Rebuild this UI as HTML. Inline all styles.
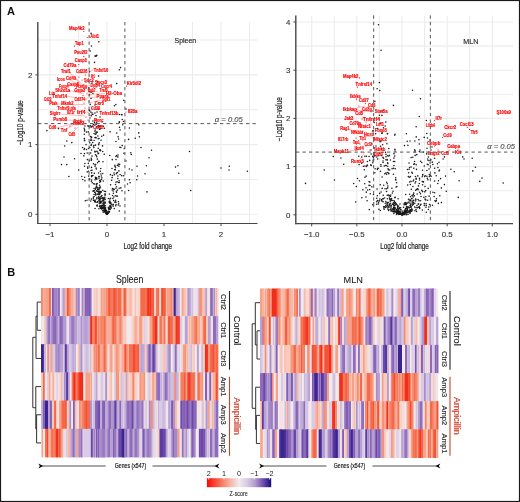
<!DOCTYPE html><html><head><meta charset="utf-8"><style>html,body{margin:0;padding:0;background:#fff;}svg{display:block;will-change:transform;}</style></head><body><svg width="520" height="502" viewBox="0 0 520 502" font-family='"Liberation Sans", sans-serif'>
<rect x="0" y="0" width="520" height="502" fill="#fff"/>
<text x="7" y="15" font-size="11" fill="#111" text-anchor="start" font-weight="bold" font-style="normal" >A</text>
<text x="7.2" y="276" font-size="11" fill="#111" text-anchor="start" font-weight="bold" font-style="normal" >B</text>
<line x1="50.00" y1="22" x2="50.00" y2="223.5" stroke="#ececec" stroke-width="1.1"/>
<line x1="78.50" y1="22" x2="78.50" y2="223.5" stroke="#ececec" stroke-width="1.1"/>
<line x1="107.00" y1="22" x2="107.00" y2="223.5" stroke="#ececec" stroke-width="1.1"/>
<line x1="135.50" y1="22" x2="135.50" y2="223.5" stroke="#ececec" stroke-width="1.1"/>
<line x1="192.50" y1="22" x2="192.50" y2="223.5" stroke="#ececec" stroke-width="1.1"/>
<line x1="221.00" y1="22" x2="221.00" y2="223.5" stroke="#ececec" stroke-width="1.1"/>
<line x1="249.50" y1="22" x2="249.50" y2="223.5" stroke="#ececec" stroke-width="1.1"/>
<line x1="38" y1="214.30" x2="257.5" y2="214.30" stroke="#ececec" stroke-width="1.1"/>
<line x1="38" y1="179.45" x2="257.5" y2="179.45" stroke="#ececec" stroke-width="1.1"/>
<line x1="38" y1="144.60" x2="257.5" y2="144.60" stroke="#ececec" stroke-width="1.1"/>
<line x1="38" y1="109.75" x2="257.5" y2="109.75" stroke="#ececec" stroke-width="1.1"/>
<line x1="38" y1="74.90" x2="257.5" y2="74.90" stroke="#ececec" stroke-width="1.1"/>
<line x1="38" y1="40.05" x2="257.5" y2="40.05" stroke="#ececec" stroke-width="1.1"/>
<line x1="311.70" y1="15.4" x2="311.70" y2="223.7" stroke="#ececec" stroke-width="1.1"/>
<line x1="334.27" y1="15.4" x2="334.27" y2="223.7" stroke="#ececec" stroke-width="1.1"/>
<line x1="356.85" y1="15.4" x2="356.85" y2="223.7" stroke="#ececec" stroke-width="1.1"/>
<line x1="379.43" y1="15.4" x2="379.43" y2="223.7" stroke="#ececec" stroke-width="1.1"/>
<line x1="402.00" y1="15.4" x2="402.00" y2="223.7" stroke="#ececec" stroke-width="1.1"/>
<line x1="424.57" y1="15.4" x2="424.57" y2="223.7" stroke="#ececec" stroke-width="1.1"/>
<line x1="447.15" y1="15.4" x2="447.15" y2="223.7" stroke="#ececec" stroke-width="1.1"/>
<line x1="469.73" y1="15.4" x2="469.73" y2="223.7" stroke="#ececec" stroke-width="1.1"/>
<line x1="492.30" y1="15.4" x2="492.30" y2="223.7" stroke="#ececec" stroke-width="1.1"/>
<line x1="296" y1="214.80" x2="513" y2="214.80" stroke="#ececec" stroke-width="1.1"/>
<line x1="296" y1="190.70" x2="513" y2="190.70" stroke="#ececec" stroke-width="1.1"/>
<line x1="296" y1="166.60" x2="513" y2="166.60" stroke="#ececec" stroke-width="1.1"/>
<line x1="296" y1="142.50" x2="513" y2="142.50" stroke="#ececec" stroke-width="1.1"/>
<line x1="296" y1="118.40" x2="513" y2="118.40" stroke="#ececec" stroke-width="1.1"/>
<line x1="296" y1="94.30" x2="513" y2="94.30" stroke="#ececec" stroke-width="1.1"/>
<line x1="296" y1="70.20" x2="513" y2="70.20" stroke="#ececec" stroke-width="1.1"/>
<line x1="296" y1="46.10" x2="513" y2="46.10" stroke="#ececec" stroke-width="1.1"/>
<line x1="296" y1="22.00" x2="513" y2="22.00" stroke="#ececec" stroke-width="1.1"/>
<circle cx="119.31" cy="182.59" r="0.78" fill="#1a1a1a"/>
<circle cx="102.69" cy="173.50" r="0.78" fill="#1a1a1a"/>
<circle cx="119.86" cy="147.32" r="0.78" fill="#1a1a1a"/>
<circle cx="94.14" cy="140.54" r="0.78" fill="#1a1a1a"/>
<circle cx="94.93" cy="164.77" r="0.78" fill="#1a1a1a"/>
<circle cx="97.99" cy="188.63" r="0.78" fill="#1a1a1a"/>
<circle cx="82.58" cy="147.54" r="0.78" fill="#1a1a1a"/>
<circle cx="91.48" cy="45.97" r="0.78" fill="#1a1a1a"/>
<circle cx="91.22" cy="158.16" r="0.78" fill="#1a1a1a"/>
<circle cx="95.42" cy="189.25" r="0.78" fill="#1a1a1a"/>
<circle cx="111.06" cy="207.32" r="0.78" fill="#1a1a1a"/>
<circle cx="102.70" cy="190.26" r="0.78" fill="#1a1a1a"/>
<circle cx="113.43" cy="193.28" r="0.78" fill="#1a1a1a"/>
<circle cx="106.02" cy="210.48" r="0.78" fill="#1a1a1a"/>
<circle cx="110.61" cy="205.56" r="0.78" fill="#1a1a1a"/>
<circle cx="99.09" cy="161.56" r="0.78" fill="#1a1a1a"/>
<circle cx="86.94" cy="200.28" r="0.78" fill="#1a1a1a"/>
<circle cx="102.62" cy="205.41" r="0.78" fill="#1a1a1a"/>
<circle cx="112.08" cy="204.86" r="0.78" fill="#1a1a1a"/>
<circle cx="89.21" cy="91.84" r="0.78" fill="#1a1a1a"/>
<circle cx="97.37" cy="159.12" r="0.78" fill="#1a1a1a"/>
<circle cx="104.53" cy="210.13" r="0.78" fill="#1a1a1a"/>
<circle cx="95.06" cy="208.46" r="0.78" fill="#1a1a1a"/>
<circle cx="107.34" cy="214.06" r="0.78" fill="#1a1a1a"/>
<circle cx="84.67" cy="177.23" r="0.78" fill="#1a1a1a"/>
<circle cx="118.69" cy="203.67" r="0.78" fill="#1a1a1a"/>
<circle cx="97.11" cy="205.13" r="0.78" fill="#1a1a1a"/>
<circle cx="96.92" cy="187.66" r="0.78" fill="#1a1a1a"/>
<circle cx="92.34" cy="126.10" r="0.78" fill="#1a1a1a"/>
<circle cx="91.38" cy="181.24" r="0.78" fill="#1a1a1a"/>
<circle cx="102.15" cy="201.09" r="0.78" fill="#1a1a1a"/>
<circle cx="115.30" cy="195.84" r="0.78" fill="#1a1a1a"/>
<circle cx="115.95" cy="156.51" r="0.78" fill="#1a1a1a"/>
<circle cx="114.70" cy="169.68" r="0.78" fill="#1a1a1a"/>
<circle cx="94.35" cy="173.35" r="0.78" fill="#1a1a1a"/>
<circle cx="104.02" cy="204.81" r="0.78" fill="#1a1a1a"/>
<circle cx="97.18" cy="206.09" r="0.78" fill="#1a1a1a"/>
<circle cx="96.45" cy="190.82" r="0.78" fill="#1a1a1a"/>
<circle cx="103.47" cy="206.18" r="0.78" fill="#1a1a1a"/>
<circle cx="104.96" cy="202.00" r="0.78" fill="#1a1a1a"/>
<circle cx="102.89" cy="198.75" r="0.78" fill="#1a1a1a"/>
<circle cx="96.76" cy="198.85" r="0.78" fill="#1a1a1a"/>
<circle cx="101.55" cy="205.48" r="0.78" fill="#1a1a1a"/>
<circle cx="103.37" cy="207.99" r="0.78" fill="#1a1a1a"/>
<circle cx="93.82" cy="145.57" r="0.78" fill="#1a1a1a"/>
<circle cx="116.53" cy="186.70" r="0.78" fill="#1a1a1a"/>
<circle cx="99.60" cy="188.82" r="0.78" fill="#1a1a1a"/>
<circle cx="101.26" cy="196.39" r="0.78" fill="#1a1a1a"/>
<circle cx="105.51" cy="212.57" r="0.78" fill="#1a1a1a"/>
<circle cx="119.40" cy="114.46" r="0.78" fill="#1a1a1a"/>
<circle cx="120.56" cy="67.61" r="0.78" fill="#1a1a1a"/>
<circle cx="89.53" cy="179.06" r="0.78" fill="#1a1a1a"/>
<circle cx="108.57" cy="211.69" r="0.78" fill="#1a1a1a"/>
<circle cx="96.82" cy="84.33" r="0.78" fill="#1a1a1a"/>
<circle cx="99.77" cy="182.25" r="0.78" fill="#1a1a1a"/>
<circle cx="109.27" cy="209.10" r="0.78" fill="#1a1a1a"/>
<circle cx="99.52" cy="206.63" r="0.78" fill="#1a1a1a"/>
<circle cx="105.10" cy="209.39" r="0.78" fill="#1a1a1a"/>
<circle cx="99.41" cy="198.42" r="0.78" fill="#1a1a1a"/>
<circle cx="108.32" cy="207.74" r="0.78" fill="#1a1a1a"/>
<circle cx="107.38" cy="213.89" r="0.78" fill="#1a1a1a"/>
<circle cx="83.83" cy="155.87" r="0.78" fill="#1a1a1a"/>
<circle cx="119.42" cy="121.83" r="0.78" fill="#1a1a1a"/>
<circle cx="96.00" cy="187.35" r="0.78" fill="#1a1a1a"/>
<circle cx="106.53" cy="210.63" r="0.78" fill="#1a1a1a"/>
<circle cx="104.43" cy="205.79" r="0.78" fill="#1a1a1a"/>
<circle cx="91.35" cy="160.36" r="0.78" fill="#1a1a1a"/>
<circle cx="87.60" cy="167.11" r="0.78" fill="#1a1a1a"/>
<circle cx="91.35" cy="199.10" r="0.78" fill="#1a1a1a"/>
<circle cx="110.05" cy="206.40" r="0.78" fill="#1a1a1a"/>
<circle cx="99.62" cy="185.23" r="0.78" fill="#1a1a1a"/>
<circle cx="91.24" cy="115.87" r="0.78" fill="#1a1a1a"/>
<circle cx="117.86" cy="176.06" r="0.78" fill="#1a1a1a"/>
<circle cx="113.77" cy="196.91" r="0.78" fill="#1a1a1a"/>
<circle cx="99.56" cy="193.99" r="0.78" fill="#1a1a1a"/>
<circle cx="86.50" cy="149.59" r="0.78" fill="#1a1a1a"/>
<circle cx="105.49" cy="191.41" r="0.78" fill="#1a1a1a"/>
<circle cx="100.92" cy="205.81" r="0.78" fill="#1a1a1a"/>
<circle cx="107.52" cy="213.03" r="0.78" fill="#1a1a1a"/>
<circle cx="100.82" cy="203.04" r="0.78" fill="#1a1a1a"/>
<circle cx="94.51" cy="62.40" r="0.78" fill="#1a1a1a"/>
<circle cx="98.21" cy="138.79" r="0.78" fill="#1a1a1a"/>
<circle cx="116.31" cy="173.80" r="0.78" fill="#1a1a1a"/>
<circle cx="112.49" cy="188.54" r="0.78" fill="#1a1a1a"/>
<circle cx="122.24" cy="119.56" r="0.78" fill="#1a1a1a"/>
<circle cx="101.71" cy="209.04" r="0.78" fill="#1a1a1a"/>
<circle cx="104.71" cy="198.72" r="0.78" fill="#1a1a1a"/>
<circle cx="98.55" cy="173.06" r="0.78" fill="#1a1a1a"/>
<circle cx="112.09" cy="177.60" r="0.78" fill="#1a1a1a"/>
<circle cx="105.88" cy="212.27" r="0.78" fill="#1a1a1a"/>
<circle cx="99.01" cy="138.56" r="0.78" fill="#1a1a1a"/>
<circle cx="99.01" cy="178.26" r="0.78" fill="#1a1a1a"/>
<circle cx="116.87" cy="195.91" r="0.78" fill="#1a1a1a"/>
<circle cx="116.35" cy="191.32" r="0.78" fill="#1a1a1a"/>
<circle cx="107.27" cy="213.43" r="0.78" fill="#1a1a1a"/>
<circle cx="118.46" cy="182.58" r="0.78" fill="#1a1a1a"/>
<circle cx="94.43" cy="200.74" r="0.78" fill="#1a1a1a"/>
<circle cx="94.71" cy="192.21" r="0.78" fill="#1a1a1a"/>
<circle cx="118.01" cy="154.93" r="0.78" fill="#1a1a1a"/>
<circle cx="123.49" cy="121.56" r="0.78" fill="#1a1a1a"/>
<circle cx="101.09" cy="206.67" r="0.78" fill="#1a1a1a"/>
<circle cx="96.28" cy="168.99" r="0.78" fill="#1a1a1a"/>
<circle cx="104.66" cy="207.42" r="0.78" fill="#1a1a1a"/>
<circle cx="104.10" cy="203.01" r="0.78" fill="#1a1a1a"/>
<circle cx="107.62" cy="213.17" r="0.78" fill="#1a1a1a"/>
<circle cx="116.55" cy="155.53" r="0.78" fill="#1a1a1a"/>
<circle cx="93.49" cy="163.66" r="0.78" fill="#1a1a1a"/>
<circle cx="105.25" cy="194.31" r="0.78" fill="#1a1a1a"/>
<circle cx="95.60" cy="188.32" r="0.78" fill="#1a1a1a"/>
<circle cx="101.90" cy="195.56" r="0.78" fill="#1a1a1a"/>
<circle cx="103.44" cy="204.76" r="0.78" fill="#1a1a1a"/>
<circle cx="94.97" cy="113.00" r="0.78" fill="#1a1a1a"/>
<circle cx="94.94" cy="151.37" r="0.78" fill="#1a1a1a"/>
<circle cx="105.21" cy="211.59" r="0.78" fill="#1a1a1a"/>
<circle cx="101.27" cy="206.83" r="0.78" fill="#1a1a1a"/>
<circle cx="91.61" cy="180.00" r="0.78" fill="#1a1a1a"/>
<circle cx="100.99" cy="202.10" r="0.78" fill="#1a1a1a"/>
<circle cx="91.11" cy="33.39" r="0.78" fill="#1a1a1a"/>
<circle cx="100.40" cy="149.91" r="0.78" fill="#1a1a1a"/>
<circle cx="110.28" cy="209.03" r="0.78" fill="#1a1a1a"/>
<circle cx="119.36" cy="210.99" r="0.78" fill="#1a1a1a"/>
<circle cx="117.48" cy="190.11" r="0.78" fill="#1a1a1a"/>
<circle cx="97.65" cy="191.55" r="0.78" fill="#1a1a1a"/>
<circle cx="99.96" cy="202.31" r="0.78" fill="#1a1a1a"/>
<circle cx="87.23" cy="171.99" r="0.78" fill="#1a1a1a"/>
<circle cx="101.81" cy="208.80" r="0.78" fill="#1a1a1a"/>
<circle cx="117.42" cy="172.55" r="0.78" fill="#1a1a1a"/>
<circle cx="98.40" cy="126.96" r="0.78" fill="#1a1a1a"/>
<circle cx="99.10" cy="194.36" r="0.78" fill="#1a1a1a"/>
<circle cx="108.41" cy="211.25" r="0.78" fill="#1a1a1a"/>
<circle cx="93.51" cy="145.97" r="0.78" fill="#1a1a1a"/>
<circle cx="102.56" cy="210.75" r="0.78" fill="#1a1a1a"/>
<circle cx="116.70" cy="172.92" r="0.78" fill="#1a1a1a"/>
<circle cx="106.96" cy="214.18" r="0.78" fill="#1a1a1a"/>
<circle cx="93.43" cy="190.98" r="0.78" fill="#1a1a1a"/>
<circle cx="87.39" cy="159.61" r="0.78" fill="#1a1a1a"/>
<circle cx="84.44" cy="139.99" r="0.78" fill="#1a1a1a"/>
<circle cx="99.62" cy="198.72" r="0.78" fill="#1a1a1a"/>
<circle cx="115.88" cy="188.22" r="0.78" fill="#1a1a1a"/>
<circle cx="108.50" cy="198.49" r="0.78" fill="#1a1a1a"/>
<circle cx="88.33" cy="171.23" r="0.78" fill="#1a1a1a"/>
<circle cx="113.24" cy="191.06" r="0.78" fill="#1a1a1a"/>
<circle cx="109.87" cy="198.93" r="0.78" fill="#1a1a1a"/>
<circle cx="101.33" cy="175.94" r="0.78" fill="#1a1a1a"/>
<circle cx="98.71" cy="143.98" r="0.78" fill="#1a1a1a"/>
<circle cx="104.94" cy="210.06" r="0.78" fill="#1a1a1a"/>
<circle cx="105.88" cy="211.49" r="0.78" fill="#1a1a1a"/>
<circle cx="93.46" cy="124.49" r="0.78" fill="#1a1a1a"/>
<circle cx="109.36" cy="202.83" r="0.78" fill="#1a1a1a"/>
<circle cx="110.14" cy="205.42" r="0.78" fill="#1a1a1a"/>
<circle cx="95.64" cy="177.75" r="0.78" fill="#1a1a1a"/>
<circle cx="95.12" cy="179.75" r="0.78" fill="#1a1a1a"/>
<circle cx="106.84" cy="213.67" r="0.78" fill="#1a1a1a"/>
<circle cx="108.72" cy="208.76" r="0.78" fill="#1a1a1a"/>
<circle cx="103.20" cy="181.01" r="0.78" fill="#1a1a1a"/>
<circle cx="102.45" cy="197.83" r="0.78" fill="#1a1a1a"/>
<circle cx="102.75" cy="208.34" r="0.78" fill="#1a1a1a"/>
<circle cx="117.11" cy="196.34" r="0.78" fill="#1a1a1a"/>
<circle cx="95.10" cy="200.13" r="0.78" fill="#1a1a1a"/>
<circle cx="95.04" cy="201.39" r="0.78" fill="#1a1a1a"/>
<circle cx="104.27" cy="207.05" r="0.78" fill="#1a1a1a"/>
<circle cx="105.82" cy="213.09" r="0.78" fill="#1a1a1a"/>
<circle cx="109.24" cy="201.65" r="0.78" fill="#1a1a1a"/>
<circle cx="118.39" cy="163.95" r="0.78" fill="#1a1a1a"/>
<circle cx="105.39" cy="207.81" r="0.78" fill="#1a1a1a"/>
<circle cx="104.18" cy="205.68" r="0.78" fill="#1a1a1a"/>
<circle cx="110.52" cy="198.20" r="0.78" fill="#1a1a1a"/>
<circle cx="113.49" cy="188.92" r="0.78" fill="#1a1a1a"/>
<circle cx="106.85" cy="214.09" r="0.78" fill="#1a1a1a"/>
<circle cx="98.68" cy="192.32" r="0.78" fill="#1a1a1a"/>
<circle cx="104.45" cy="210.17" r="0.78" fill="#1a1a1a"/>
<circle cx="91.47" cy="159.47" r="0.78" fill="#1a1a1a"/>
<circle cx="84.90" cy="163.48" r="0.78" fill="#1a1a1a"/>
<circle cx="118.99" cy="166.32" r="0.78" fill="#1a1a1a"/>
<circle cx="98.19" cy="193.82" r="0.78" fill="#1a1a1a"/>
<circle cx="115.83" cy="104.48" r="0.78" fill="#1a1a1a"/>
<circle cx="96.13" cy="202.33" r="0.78" fill="#1a1a1a"/>
<circle cx="100.27" cy="201.73" r="0.78" fill="#1a1a1a"/>
<circle cx="104.19" cy="207.95" r="0.78" fill="#1a1a1a"/>
<circle cx="95.04" cy="151.90" r="0.78" fill="#1a1a1a"/>
<circle cx="101.15" cy="198.46" r="0.78" fill="#1a1a1a"/>
<circle cx="92.05" cy="156.12" r="0.78" fill="#1a1a1a"/>
<circle cx="109.24" cy="211.71" r="0.78" fill="#1a1a1a"/>
<circle cx="98.58" cy="161.38" r="0.78" fill="#1a1a1a"/>
<circle cx="97.09" cy="205.75" r="0.78" fill="#1a1a1a"/>
<circle cx="105.90" cy="212.13" r="0.78" fill="#1a1a1a"/>
<circle cx="100.33" cy="187.09" r="0.78" fill="#1a1a1a"/>
<circle cx="93.41" cy="200.36" r="0.78" fill="#1a1a1a"/>
<circle cx="100.76" cy="207.54" r="0.78" fill="#1a1a1a"/>
<circle cx="93.32" cy="198.75" r="0.78" fill="#1a1a1a"/>
<circle cx="96.90" cy="191.08" r="0.78" fill="#1a1a1a"/>
<circle cx="96.65" cy="122.68" r="0.78" fill="#1a1a1a"/>
<circle cx="95.07" cy="56.04" r="0.78" fill="#1a1a1a"/>
<circle cx="100.27" cy="171.18" r="0.78" fill="#1a1a1a"/>
<circle cx="81.75" cy="176.55" r="0.78" fill="#1a1a1a"/>
<circle cx="113.36" cy="204.49" r="0.78" fill="#1a1a1a"/>
<circle cx="92.27" cy="182.84" r="0.78" fill="#1a1a1a"/>
<circle cx="101.61" cy="207.56" r="0.78" fill="#1a1a1a"/>
<circle cx="97.53" cy="162.69" r="0.78" fill="#1a1a1a"/>
<circle cx="104.30" cy="211.67" r="0.78" fill="#1a1a1a"/>
<circle cx="112.91" cy="198.53" r="0.78" fill="#1a1a1a"/>
<circle cx="104.29" cy="191.25" r="0.78" fill="#1a1a1a"/>
<circle cx="110.06" cy="209.44" r="0.78" fill="#1a1a1a"/>
<circle cx="123.72" cy="175.75" r="0.78" fill="#1a1a1a"/>
<circle cx="97.55" cy="81.76" r="0.78" fill="#1a1a1a"/>
<circle cx="100.57" cy="208.40" r="0.78" fill="#1a1a1a"/>
<circle cx="98.67" cy="144.67" r="0.78" fill="#1a1a1a"/>
<circle cx="110.40" cy="202.21" r="0.78" fill="#1a1a1a"/>
<circle cx="105.45" cy="208.36" r="0.78" fill="#1a1a1a"/>
<circle cx="104.90" cy="194.09" r="0.78" fill="#1a1a1a"/>
<circle cx="106.64" cy="212.62" r="0.78" fill="#1a1a1a"/>
<circle cx="100.76" cy="168.55" r="0.78" fill="#1a1a1a"/>
<circle cx="106.41" cy="213.67" r="0.78" fill="#1a1a1a"/>
<circle cx="109.60" cy="208.99" r="0.78" fill="#1a1a1a"/>
<circle cx="91.55" cy="167.38" r="0.78" fill="#1a1a1a"/>
<circle cx="120.11" cy="174.59" r="0.78" fill="#1a1a1a"/>
<circle cx="106.64" cy="213.60" r="0.78" fill="#1a1a1a"/>
<circle cx="99.84" cy="187.77" r="0.78" fill="#1a1a1a"/>
<circle cx="100.27" cy="201.14" r="0.78" fill="#1a1a1a"/>
<circle cx="95.53" cy="56.11" r="0.78" fill="#1a1a1a"/>
<circle cx="100.64" cy="202.89" r="0.78" fill="#1a1a1a"/>
<circle cx="98.23" cy="148.19" r="0.78" fill="#1a1a1a"/>
<circle cx="101.88" cy="177.66" r="0.78" fill="#1a1a1a"/>
<circle cx="112.28" cy="159.63" r="0.78" fill="#1a1a1a"/>
<circle cx="98.37" cy="191.31" r="0.78" fill="#1a1a1a"/>
<circle cx="115.95" cy="141.41" r="0.78" fill="#1a1a1a"/>
<circle cx="91.06" cy="139.07" r="0.78" fill="#1a1a1a"/>
<circle cx="109.81" cy="201.94" r="0.78" fill="#1a1a1a"/>
<circle cx="89.76" cy="147.48" r="0.78" fill="#1a1a1a"/>
<circle cx="110.60" cy="184.85" r="0.78" fill="#1a1a1a"/>
<circle cx="102.04" cy="205.63" r="0.78" fill="#1a1a1a"/>
<circle cx="104.90" cy="203.51" r="0.78" fill="#1a1a1a"/>
<circle cx="104.61" cy="207.57" r="0.78" fill="#1a1a1a"/>
<circle cx="106.45" cy="213.74" r="0.78" fill="#1a1a1a"/>
<circle cx="105.06" cy="195.28" r="0.78" fill="#1a1a1a"/>
<circle cx="119.16" cy="180.82" r="0.78" fill="#1a1a1a"/>
<circle cx="105.89" cy="212.44" r="0.78" fill="#1a1a1a"/>
<circle cx="108.80" cy="208.04" r="0.78" fill="#1a1a1a"/>
<circle cx="108.28" cy="213.20" r="0.78" fill="#1a1a1a"/>
<circle cx="101.11" cy="192.33" r="0.78" fill="#1a1a1a"/>
<circle cx="116.04" cy="202.22" r="0.78" fill="#1a1a1a"/>
<circle cx="106.74" cy="214.07" r="0.78" fill="#1a1a1a"/>
<circle cx="96.61" cy="186.49" r="0.78" fill="#1a1a1a"/>
<circle cx="84.62" cy="129.79" r="0.78" fill="#1a1a1a"/>
<circle cx="96.32" cy="155.52" r="0.78" fill="#1a1a1a"/>
<circle cx="112.50" cy="195.45" r="0.78" fill="#1a1a1a"/>
<circle cx="96.31" cy="137.69" r="0.78" fill="#1a1a1a"/>
<circle cx="96.68" cy="177.74" r="0.78" fill="#1a1a1a"/>
<circle cx="115.05" cy="166.42" r="0.78" fill="#1a1a1a"/>
<circle cx="95.80" cy="195.10" r="0.78" fill="#1a1a1a"/>
<circle cx="95.57" cy="193.41" r="0.78" fill="#1a1a1a"/>
<circle cx="94.59" cy="122.52" r="0.78" fill="#1a1a1a"/>
<circle cx="96.99" cy="131.94" r="0.78" fill="#1a1a1a"/>
<circle cx="100.61" cy="180.25" r="0.78" fill="#1a1a1a"/>
<circle cx="99.63" cy="180.47" r="0.78" fill="#1a1a1a"/>
<circle cx="108.55" cy="211.98" r="0.78" fill="#1a1a1a"/>
<circle cx="101.58" cy="205.91" r="0.78" fill="#1a1a1a"/>
<circle cx="110.17" cy="203.61" r="0.78" fill="#1a1a1a"/>
<circle cx="100.31" cy="198.90" r="0.78" fill="#1a1a1a"/>
<circle cx="115.15" cy="201.67" r="0.78" fill="#1a1a1a"/>
<circle cx="101.53" cy="179.21" r="0.78" fill="#1a1a1a"/>
<circle cx="96.60" cy="179.04" r="0.78" fill="#1a1a1a"/>
<circle cx="107.01" cy="214.25" r="0.78" fill="#1a1a1a"/>
<circle cx="94.07" cy="188.56" r="0.78" fill="#1a1a1a"/>
<circle cx="104.42" cy="209.63" r="0.78" fill="#1a1a1a"/>
<circle cx="101.71" cy="136.33" r="0.78" fill="#1a1a1a"/>
<circle cx="105.82" cy="213.12" r="0.78" fill="#1a1a1a"/>
<circle cx="105.66" cy="210.03" r="0.78" fill="#1a1a1a"/>
<circle cx="106.38" cy="213.60" r="0.78" fill="#1a1a1a"/>
<circle cx="99.78" cy="187.22" r="0.78" fill="#1a1a1a"/>
<circle cx="119.97" cy="206.01" r="0.78" fill="#1a1a1a"/>
<circle cx="99.03" cy="194.76" r="0.78" fill="#1a1a1a"/>
<circle cx="105.18" cy="207.81" r="0.78" fill="#1a1a1a"/>
<circle cx="114.28" cy="208.53" r="0.78" fill="#1a1a1a"/>
<circle cx="106.70" cy="213.09" r="0.78" fill="#1a1a1a"/>
<circle cx="91.66" cy="126.98" r="0.78" fill="#1a1a1a"/>
<circle cx="109.33" cy="211.71" r="0.78" fill="#1a1a1a"/>
<circle cx="102.94" cy="197.58" r="0.78" fill="#1a1a1a"/>
<circle cx="100.54" cy="181.42" r="0.78" fill="#1a1a1a"/>
<circle cx="99.82" cy="192.84" r="0.78" fill="#1a1a1a"/>
<circle cx="118.06" cy="164.91" r="0.78" fill="#1a1a1a"/>
<circle cx="93.36" cy="197.27" r="0.78" fill="#1a1a1a"/>
<circle cx="89.46" cy="179.34" r="0.78" fill="#1a1a1a"/>
<circle cx="118.94" cy="170.90" r="0.78" fill="#1a1a1a"/>
<circle cx="103.14" cy="207.91" r="0.78" fill="#1a1a1a"/>
<circle cx="102.66" cy="208.43" r="0.78" fill="#1a1a1a"/>
<circle cx="90.89" cy="112.10" r="0.78" fill="#1a1a1a"/>
<circle cx="110.27" cy="207.10" r="0.78" fill="#1a1a1a"/>
<circle cx="109.08" cy="207.11" r="0.78" fill="#1a1a1a"/>
<circle cx="87.73" cy="168.26" r="0.78" fill="#1a1a1a"/>
<circle cx="98.60" cy="76.12" r="0.78" fill="#1a1a1a"/>
<circle cx="114.19" cy="189.38" r="0.78" fill="#1a1a1a"/>
<circle cx="105.60" cy="211.80" r="0.78" fill="#1a1a1a"/>
<circle cx="106.53" cy="212.41" r="0.78" fill="#1a1a1a"/>
<circle cx="81.01" cy="153.43" r="0.78" fill="#1a1a1a"/>
<circle cx="110.83" cy="206.83" r="0.78" fill="#1a1a1a"/>
<circle cx="111.97" cy="168.52" r="0.78" fill="#1a1a1a"/>
<circle cx="94.01" cy="196.49" r="0.78" fill="#1a1a1a"/>
<circle cx="104.48" cy="210.25" r="0.78" fill="#1a1a1a"/>
<circle cx="95.65" cy="178.17" r="0.78" fill="#1a1a1a"/>
<circle cx="91.64" cy="140.18" r="0.78" fill="#1a1a1a"/>
<circle cx="92.91" cy="175.45" r="0.78" fill="#1a1a1a"/>
<circle cx="116.79" cy="83.62" r="0.78" fill="#1a1a1a"/>
<circle cx="103.86" cy="198.36" r="0.78" fill="#1a1a1a"/>
<circle cx="115.77" cy="205.75" r="0.78" fill="#1a1a1a"/>
<circle cx="101.08" cy="191.41" r="0.78" fill="#1a1a1a"/>
<circle cx="120.84" cy="187.88" r="0.78" fill="#1a1a1a"/>
<circle cx="119.66" cy="164.35" r="0.78" fill="#1a1a1a"/>
<circle cx="96.49" cy="184.89" r="0.78" fill="#1a1a1a"/>
<circle cx="116.71" cy="132.94" r="0.78" fill="#1a1a1a"/>
<circle cx="95.63" cy="164.62" r="0.78" fill="#1a1a1a"/>
<circle cx="103.77" cy="200.91" r="0.78" fill="#1a1a1a"/>
<circle cx="119.40" cy="69.84" r="0.78" fill="#1a1a1a"/>
<circle cx="99.81" cy="201.74" r="0.78" fill="#1a1a1a"/>
<circle cx="117.76" cy="156.89" r="0.78" fill="#1a1a1a"/>
<circle cx="107.38" cy="213.76" r="0.78" fill="#1a1a1a"/>
<circle cx="94.13" cy="133.43" r="0.78" fill="#1a1a1a"/>
<circle cx="117.12" cy="181.84" r="0.78" fill="#1a1a1a"/>
<circle cx="90.80" cy="201.01" r="0.78" fill="#1a1a1a"/>
<circle cx="112.21" cy="190.09" r="0.78" fill="#1a1a1a"/>
<circle cx="106.46" cy="212.49" r="0.78" fill="#1a1a1a"/>
<circle cx="99.11" cy="200.70" r="0.78" fill="#1a1a1a"/>
<circle cx="99.66" cy="199.21" r="0.78" fill="#1a1a1a"/>
<circle cx="98.83" cy="200.08" r="0.78" fill="#1a1a1a"/>
<circle cx="109.84" cy="200.99" r="0.78" fill="#1a1a1a"/>
<circle cx="118.49" cy="201.76" r="0.78" fill="#1a1a1a"/>
<circle cx="92.21" cy="114.59" r="0.78" fill="#1a1a1a"/>
<circle cx="99.08" cy="176.62" r="0.78" fill="#1a1a1a"/>
<circle cx="98.11" cy="153.68" r="0.78" fill="#1a1a1a"/>
<circle cx="92.64" cy="142.50" r="0.78" fill="#1a1a1a"/>
<circle cx="115.50" cy="184.54" r="0.78" fill="#1a1a1a"/>
<circle cx="97.91" cy="135.93" r="0.78" fill="#1a1a1a"/>
<circle cx="107.89" cy="212.01" r="0.78" fill="#1a1a1a"/>
<circle cx="92.93" cy="93.34" r="0.78" fill="#1a1a1a"/>
<circle cx="100.00" cy="150.10" r="0.78" fill="#1a1a1a"/>
<circle cx="105.20" cy="202.42" r="0.78" fill="#1a1a1a"/>
<circle cx="102.92" cy="200.55" r="0.78" fill="#1a1a1a"/>
<circle cx="103.83" cy="210.40" r="0.78" fill="#1a1a1a"/>
<circle cx="84.17" cy="149.54" r="0.78" fill="#1a1a1a"/>
<circle cx="114.87" cy="165.22" r="0.78" fill="#1a1a1a"/>
<circle cx="99.90" cy="205.69" r="0.78" fill="#1a1a1a"/>
<circle cx="109.12" cy="209.62" r="0.78" fill="#1a1a1a"/>
<circle cx="98.82" cy="189.79" r="0.78" fill="#1a1a1a"/>
<circle cx="89.42" cy="160.72" r="0.78" fill="#1a1a1a"/>
<circle cx="98.88" cy="176.43" r="0.78" fill="#1a1a1a"/>
<circle cx="103.55" cy="199.67" r="0.78" fill="#1a1a1a"/>
<circle cx="113.63" cy="200.53" r="0.78" fill="#1a1a1a"/>
<circle cx="105.05" cy="209.81" r="0.78" fill="#1a1a1a"/>
<circle cx="91.26" cy="137.13" r="0.78" fill="#1a1a1a"/>
<circle cx="111.34" cy="208.01" r="0.78" fill="#1a1a1a"/>
<circle cx="97.73" cy="194.17" r="0.78" fill="#1a1a1a"/>
<circle cx="105.20" cy="199.52" r="0.78" fill="#1a1a1a"/>
<circle cx="90.99" cy="170.42" r="0.78" fill="#1a1a1a"/>
<circle cx="100.35" cy="191.89" r="0.78" fill="#1a1a1a"/>
<circle cx="84.30" cy="138.57" r="0.78" fill="#1a1a1a"/>
<circle cx="98.94" cy="208.71" r="0.78" fill="#1a1a1a"/>
<circle cx="92.25" cy="175.67" r="0.78" fill="#1a1a1a"/>
<circle cx="99.88" cy="193.16" r="0.78" fill="#1a1a1a"/>
<circle cx="114.43" cy="105.83" r="0.78" fill="#1a1a1a"/>
<circle cx="97.66" cy="202.28" r="0.78" fill="#1a1a1a"/>
<circle cx="85.34" cy="200.81" r="0.78" fill="#1a1a1a"/>
<circle cx="106.30" cy="212.77" r="0.78" fill="#1a1a1a"/>
<circle cx="105.20" cy="210.45" r="0.78" fill="#1a1a1a"/>
<circle cx="105.41" cy="205.66" r="0.78" fill="#1a1a1a"/>
<circle cx="104.96" cy="209.61" r="0.78" fill="#1a1a1a"/>
<circle cx="102.33" cy="208.42" r="0.78" fill="#1a1a1a"/>
<circle cx="94.75" cy="184.02" r="0.78" fill="#1a1a1a"/>
<circle cx="100.85" cy="201.86" r="0.78" fill="#1a1a1a"/>
<circle cx="90.69" cy="153.11" r="0.78" fill="#1a1a1a"/>
<circle cx="110.76" cy="202.89" r="0.78" fill="#1a1a1a"/>
<circle cx="115.64" cy="200.28" r="0.78" fill="#1a1a1a"/>
<circle cx="94.96" cy="105.05" r="0.78" fill="#1a1a1a"/>
<circle cx="103.26" cy="204.07" r="0.78" fill="#1a1a1a"/>
<circle cx="82.71" cy="179.53" r="0.78" fill="#1a1a1a"/>
<circle cx="96.94" cy="197.44" r="0.78" fill="#1a1a1a"/>
<circle cx="105.32" cy="208.52" r="0.78" fill="#1a1a1a"/>
<circle cx="94.19" cy="190.62" r="0.78" fill="#1a1a1a"/>
<circle cx="103.49" cy="198.47" r="0.78" fill="#1a1a1a"/>
<circle cx="95.03" cy="166.27" r="0.78" fill="#1a1a1a"/>
<circle cx="98.06" cy="189.74" r="0.78" fill="#1a1a1a"/>
<circle cx="96.09" cy="167.96" r="0.78" fill="#1a1a1a"/>
<circle cx="88.36" cy="163.35" r="0.78" fill="#1a1a1a"/>
<circle cx="96.09" cy="132.55" r="0.78" fill="#1a1a1a"/>
<circle cx="95.45" cy="145.15" r="0.78" fill="#1a1a1a"/>
<circle cx="95.32" cy="201.73" r="0.78" fill="#1a1a1a"/>
<circle cx="84.92" cy="180.85" r="0.78" fill="#1a1a1a"/>
<circle cx="95.83" cy="194.35" r="0.78" fill="#1a1a1a"/>
<circle cx="99.72" cy="191.39" r="0.78" fill="#1a1a1a"/>
<circle cx="109.48" cy="211.75" r="0.78" fill="#1a1a1a"/>
<circle cx="116.02" cy="204.54" r="0.78" fill="#1a1a1a"/>
<circle cx="114.42" cy="174.72" r="0.78" fill="#1a1a1a"/>
<circle cx="95.38" cy="154.71" r="0.78" fill="#1a1a1a"/>
<circle cx="95.53" cy="178.36" r="0.78" fill="#1a1a1a"/>
<circle cx="93.15" cy="191.15" r="0.78" fill="#1a1a1a"/>
<circle cx="102.59" cy="207.31" r="0.78" fill="#1a1a1a"/>
<circle cx="104.20" cy="211.11" r="0.78" fill="#1a1a1a"/>
<circle cx="104.40" cy="209.27" r="0.78" fill="#1a1a1a"/>
<circle cx="104.48" cy="211.01" r="0.78" fill="#1a1a1a"/>
<circle cx="91.56" cy="175.87" r="0.78" fill="#1a1a1a"/>
<circle cx="95.52" cy="177.32" r="0.78" fill="#1a1a1a"/>
<circle cx="89.63" cy="71.85" r="0.78" fill="#1a1a1a"/>
<circle cx="97.84" cy="187.46" r="0.78" fill="#1a1a1a"/>
<circle cx="106.47" cy="211.96" r="0.78" fill="#1a1a1a"/>
<circle cx="95.18" cy="137.65" r="0.78" fill="#1a1a1a"/>
<circle cx="91.95" cy="170.23" r="0.78" fill="#1a1a1a"/>
<circle cx="119.37" cy="122.39" r="0.78" fill="#1a1a1a"/>
<circle cx="117.76" cy="178.56" r="0.78" fill="#1a1a1a"/>
<circle cx="94.97" cy="192.34" r="0.78" fill="#1a1a1a"/>
<circle cx="116.56" cy="192.34" r="0.78" fill="#1a1a1a"/>
<circle cx="95.22" cy="129.98" r="0.78" fill="#1a1a1a"/>
<circle cx="89.65" cy="110.65" r="0.78" fill="#1a1a1a"/>
<circle cx="120.82" cy="147.44" r="0.78" fill="#1a1a1a"/>
<circle cx="103.48" cy="198.81" r="0.78" fill="#1a1a1a"/>
<circle cx="115.54" cy="167.72" r="0.78" fill="#1a1a1a"/>
<circle cx="94.72" cy="201.65" r="0.78" fill="#1a1a1a"/>
<circle cx="98.41" cy="198.18" r="0.78" fill="#1a1a1a"/>
<circle cx="102.38" cy="208.04" r="0.78" fill="#1a1a1a"/>
<circle cx="100.85" cy="196.97" r="0.78" fill="#1a1a1a"/>
<circle cx="96.71" cy="156.77" r="0.78" fill="#1a1a1a"/>
<circle cx="99.24" cy="142.75" r="0.78" fill="#1a1a1a"/>
<circle cx="109.40" cy="193.91" r="0.78" fill="#1a1a1a"/>
<circle cx="97.63" cy="201.51" r="0.78" fill="#1a1a1a"/>
<circle cx="102.70" cy="208.14" r="0.78" fill="#1a1a1a"/>
<circle cx="96.25" cy="124.25" r="0.78" fill="#1a1a1a"/>
<circle cx="98.84" cy="41.67" r="0.78" fill="#1a1a1a"/>
<circle cx="105.13" cy="207.48" r="0.78" fill="#1a1a1a"/>
<circle cx="119.14" cy="188.27" r="0.78" fill="#1a1a1a"/>
<circle cx="98.53" cy="196.90" r="0.78" fill="#1a1a1a"/>
<circle cx="121.97" cy="190.82" r="0.78" fill="#1a1a1a"/>
<circle cx="92.05" cy="81.98" r="0.78" fill="#1a1a1a"/>
<circle cx="115.97" cy="182.34" r="0.78" fill="#1a1a1a"/>
<circle cx="99.73" cy="193.91" r="0.78" fill="#1a1a1a"/>
<circle cx="96.92" cy="183.56" r="0.78" fill="#1a1a1a"/>
<circle cx="89.66" cy="142.78" r="0.78" fill="#1a1a1a"/>
<circle cx="102.97" cy="161.78" r="0.78" fill="#1a1a1a"/>
<circle cx="88.66" cy="176.11" r="0.78" fill="#1a1a1a"/>
<circle cx="106.31" cy="212.39" r="0.78" fill="#1a1a1a"/>
<circle cx="99.73" cy="197.22" r="0.78" fill="#1a1a1a"/>
<circle cx="113.18" cy="206.14" r="0.78" fill="#1a1a1a"/>
<circle cx="97.13" cy="183.68" r="0.78" fill="#1a1a1a"/>
<circle cx="105.30" cy="212.16" r="0.78" fill="#1a1a1a"/>
<circle cx="99.26" cy="203.62" r="0.78" fill="#1a1a1a"/>
<circle cx="97.71" cy="189.27" r="0.78" fill="#1a1a1a"/>
<circle cx="103.63" cy="199.90" r="0.78" fill="#1a1a1a"/>
<circle cx="101.92" cy="207.20" r="0.78" fill="#1a1a1a"/>
<circle cx="118.35" cy="205.04" r="0.78" fill="#1a1a1a"/>
<circle cx="84.55" cy="166.31" r="0.78" fill="#1a1a1a"/>
<circle cx="107.99" cy="212.40" r="0.78" fill="#1a1a1a"/>
<circle cx="92.95" cy="114.18" r="0.78" fill="#1a1a1a"/>
<circle cx="104.78" cy="197.36" r="0.78" fill="#1a1a1a"/>
<circle cx="103.01" cy="203.49" r="0.78" fill="#1a1a1a"/>
<circle cx="105.07" cy="210.43" r="0.78" fill="#1a1a1a"/>
<circle cx="94.10" cy="194.48" r="0.78" fill="#1a1a1a"/>
<circle cx="103.24" cy="212.34" r="0.78" fill="#1a1a1a"/>
<circle cx="112.48" cy="175.45" r="0.78" fill="#1a1a1a"/>
<circle cx="130.16" cy="182.70" r="0.78" fill="#1a1a1a"/>
<circle cx="96.08" cy="133.87" r="0.78" fill="#1a1a1a"/>
<circle cx="124.36" cy="148.56" r="0.78" fill="#1a1a1a"/>
<circle cx="91.61" cy="176.64" r="0.78" fill="#1a1a1a"/>
<circle cx="100.91" cy="174.05" r="0.78" fill="#1a1a1a"/>
<circle cx="93.67" cy="183.79" r="0.78" fill="#1a1a1a"/>
<circle cx="111.62" cy="204.08" r="0.78" fill="#1a1a1a"/>
<circle cx="97.57" cy="152.07" r="0.78" fill="#1a1a1a"/>
<circle cx="101.62" cy="201.57" r="0.78" fill="#1a1a1a"/>
<circle cx="96.81" cy="178.98" r="0.78" fill="#1a1a1a"/>
<circle cx="91.70" cy="172.89" r="0.78" fill="#1a1a1a"/>
<circle cx="103.41" cy="202.31" r="0.78" fill="#1a1a1a"/>
<circle cx="107.10" cy="214.21" r="0.78" fill="#1a1a1a"/>
<circle cx="106.92" cy="214.09" r="0.78" fill="#1a1a1a"/>
<circle cx="114.93" cy="202.19" r="0.78" fill="#1a1a1a"/>
<circle cx="96.98" cy="132.31" r="0.78" fill="#1a1a1a"/>
<circle cx="100.52" cy="126.15" r="0.78" fill="#1a1a1a"/>
<circle cx="99.38" cy="126.77" r="0.78" fill="#1a1a1a"/>
<circle cx="84.80" cy="140.78" r="0.78" fill="#1a1a1a"/>
<circle cx="103.56" cy="135.15" r="0.78" fill="#1a1a1a"/>
<circle cx="102.69" cy="151.58" r="0.78" fill="#1a1a1a"/>
<circle cx="93.83" cy="147.49" r="0.78" fill="#1a1a1a"/>
<circle cx="95.36" cy="137.45" r="0.78" fill="#1a1a1a"/>
<circle cx="84.47" cy="148.41" r="0.78" fill="#1a1a1a"/>
<circle cx="89.93" cy="126.95" r="0.78" fill="#1a1a1a"/>
<circle cx="99.91" cy="150.16" r="0.78" fill="#1a1a1a"/>
<circle cx="100.56" cy="150.80" r="0.78" fill="#1a1a1a"/>
<circle cx="96.87" cy="151.17" r="0.78" fill="#1a1a1a"/>
<circle cx="84.24" cy="128.33" r="0.78" fill="#1a1a1a"/>
<circle cx="88.50" cy="148.45" r="0.78" fill="#1a1a1a"/>
<circle cx="104.36" cy="128.30" r="0.78" fill="#1a1a1a"/>
<circle cx="90.14" cy="125.57" r="0.78" fill="#1a1a1a"/>
<circle cx="95.26" cy="134.27" r="0.78" fill="#1a1a1a"/>
<circle cx="88.40" cy="126.20" r="0.78" fill="#1a1a1a"/>
<circle cx="98.37" cy="125.41" r="0.78" fill="#1a1a1a"/>
<circle cx="102.54" cy="145.89" r="0.78" fill="#1a1a1a"/>
<circle cx="91.61" cy="149.97" r="0.78" fill="#1a1a1a"/>
<circle cx="87.19" cy="153.06" r="0.78" fill="#1a1a1a"/>
<circle cx="90.38" cy="136.56" r="0.78" fill="#1a1a1a"/>
<circle cx="84.27" cy="134.26" r="0.78" fill="#1a1a1a"/>
<circle cx="91.13" cy="145.55" r="0.78" fill="#1a1a1a"/>
<circle cx="101.00" cy="140.31" r="0.78" fill="#1a1a1a"/>
<circle cx="90.68" cy="140.30" r="0.78" fill="#1a1a1a"/>
<circle cx="98.66" cy="153.31" r="0.78" fill="#1a1a1a"/>
<circle cx="104.21" cy="154.35" r="0.78" fill="#1a1a1a"/>
<circle cx="99.59" cy="129.14" r="0.78" fill="#1a1a1a"/>
<circle cx="84.57" cy="130.90" r="0.78" fill="#1a1a1a"/>
<circle cx="91.71" cy="137.31" r="0.78" fill="#1a1a1a"/>
<circle cx="84.39" cy="153.62" r="0.78" fill="#1a1a1a"/>
<circle cx="87.91" cy="125.76" r="0.78" fill="#1a1a1a"/>
<circle cx="88.23" cy="131.88" r="0.78" fill="#1a1a1a"/>
<circle cx="103.28" cy="126.16" r="0.78" fill="#1a1a1a"/>
<circle cx="91.27" cy="144.17" r="0.78" fill="#1a1a1a"/>
<circle cx="94.97" cy="131.27" r="0.78" fill="#1a1a1a"/>
<circle cx="86.42" cy="132.10" r="0.78" fill="#1a1a1a"/>
<circle cx="100.56" cy="128.69" r="0.78" fill="#1a1a1a"/>
<circle cx="84.95" cy="126.05" r="0.78" fill="#1a1a1a"/>
<circle cx="86.07" cy="144.61" r="0.78" fill="#1a1a1a"/>
<circle cx="96.73" cy="126.90" r="0.78" fill="#1a1a1a"/>
<circle cx="91.18" cy="126.71" r="0.78" fill="#1a1a1a"/>
<circle cx="117.36" cy="165.51" r="0.78" fill="#1a1a1a"/>
<circle cx="113.97" cy="173.04" r="0.78" fill="#1a1a1a"/>
<circle cx="110.44" cy="174.63" r="0.78" fill="#1a1a1a"/>
<circle cx="119.49" cy="127.36" r="0.78" fill="#1a1a1a"/>
<circle cx="111.67" cy="180.23" r="0.78" fill="#1a1a1a"/>
<circle cx="123.90" cy="153.19" r="0.78" fill="#1a1a1a"/>
<circle cx="115.30" cy="169.70" r="0.78" fill="#1a1a1a"/>
<circle cx="118.08" cy="136.86" r="0.78" fill="#1a1a1a"/>
<circle cx="116.03" cy="159.42" r="0.78" fill="#1a1a1a"/>
<circle cx="110.11" cy="131.85" r="0.78" fill="#1a1a1a"/>
<circle cx="109.76" cy="155.41" r="0.78" fill="#1a1a1a"/>
<circle cx="121.71" cy="175.65" r="0.78" fill="#1a1a1a"/>
<circle cx="120.12" cy="129.97" r="0.78" fill="#1a1a1a"/>
<circle cx="118.62" cy="139.00" r="0.78" fill="#1a1a1a"/>
<circle cx="66.80" cy="141.00" r="0.78" fill="#1a1a1a"/>
<circle cx="71.80" cy="142.60" r="0.78" fill="#1a1a1a"/>
<circle cx="64.70" cy="146.00" r="0.78" fill="#1a1a1a"/>
<circle cx="64.00" cy="157.00" r="0.78" fill="#1a1a1a"/>
<circle cx="61.50" cy="164.60" r="0.78" fill="#1a1a1a"/>
<circle cx="66.80" cy="164.60" r="0.78" fill="#1a1a1a"/>
<circle cx="68.90" cy="176.50" r="0.78" fill="#1a1a1a"/>
<circle cx="74.50" cy="158.70" r="0.78" fill="#1a1a1a"/>
<circle cx="78.70" cy="170.00" r="0.78" fill="#1a1a1a"/>
<circle cx="58.50" cy="128.60" r="0.78" fill="#1a1a1a"/>
<circle cx="46.90" cy="130.60" r="0.78" fill="#1a1a1a"/>
<circle cx="138.80" cy="124.80" r="0.78" fill="#1a1a1a"/>
<circle cx="138.80" cy="132.90" r="0.78" fill="#1a1a1a"/>
<circle cx="139.40" cy="136.70" r="0.78" fill="#1a1a1a"/>
<circle cx="135.30" cy="138.30" r="0.78" fill="#1a1a1a"/>
<circle cx="129.40" cy="128.00" r="0.78" fill="#1a1a1a"/>
<circle cx="128.60" cy="139.40" r="0.78" fill="#1a1a1a"/>
<circle cx="122.20" cy="145.60" r="0.78" fill="#1a1a1a"/>
<circle cx="130.80" cy="152.80" r="0.78" fill="#1a1a1a"/>
<circle cx="131.30" cy="154.50" r="0.78" fill="#1a1a1a"/>
<circle cx="141.00" cy="147.50" r="0.78" fill="#1a1a1a"/>
<circle cx="151.50" cy="150.20" r="0.78" fill="#1a1a1a"/>
<circle cx="149.00" cy="157.70" r="0.78" fill="#1a1a1a"/>
<circle cx="189.50" cy="151.50" r="0.78" fill="#1a1a1a"/>
<circle cx="126.00" cy="161.00" r="0.78" fill="#1a1a1a"/>
<circle cx="137.00" cy="166.30" r="0.78" fill="#1a1a1a"/>
<circle cx="146.40" cy="165.80" r="0.78" fill="#1a1a1a"/>
<circle cx="129.40" cy="169.00" r="0.78" fill="#1a1a1a"/>
<circle cx="132.00" cy="170.00" r="0.78" fill="#1a1a1a"/>
<circle cx="175.50" cy="167.10" r="0.78" fill="#1a1a1a"/>
<circle cx="177.90" cy="165.80" r="0.78" fill="#1a1a1a"/>
<circle cx="178.70" cy="173.30" r="0.78" fill="#1a1a1a"/>
<circle cx="145.00" cy="173.80" r="0.78" fill="#1a1a1a"/>
<circle cx="137.50" cy="176.00" r="0.78" fill="#1a1a1a"/>
<circle cx="136.70" cy="179.80" r="0.78" fill="#1a1a1a"/>
<circle cx="129.40" cy="179.80" r="0.78" fill="#1a1a1a"/>
<circle cx="127.50" cy="184.00" r="0.78" fill="#1a1a1a"/>
<circle cx="128.60" cy="190.50" r="0.78" fill="#1a1a1a"/>
<circle cx="147.00" cy="191.90" r="0.78" fill="#1a1a1a"/>
<circle cx="190.80" cy="190.50" r="0.78" fill="#1a1a1a"/>
<circle cx="221.00" cy="168.00" r="0.78" fill="#1a1a1a"/>
<circle cx="229.30" cy="166.30" r="0.78" fill="#1a1a1a"/>
<circle cx="229.00" cy="170.00" r="0.78" fill="#1a1a1a"/>
<circle cx="247.40" cy="171.20" r="0.78" fill="#1a1a1a"/>
<circle cx="122.70" cy="124.80" r="0.78" fill="#1a1a1a"/>
<circle cx="96.10" cy="56.10" r="0.78" fill="#1a1a1a"/>
<circle cx="96.80" cy="55.40" r="0.78" fill="#1a1a1a"/>
<circle cx="90.20" cy="51.00" r="0.78" fill="#1a1a1a"/>
<circle cx="123.70" cy="100.20" r="0.78" fill="#1a1a1a"/>
<circle cx="121.50" cy="114.60" r="0.78" fill="#1a1a1a"/>
<circle cx="90.20" cy="104.40" r="0.78" fill="#1a1a1a"/>
<circle cx="126.00" cy="109.00" r="0.78" fill="#1a1a1a"/>
<circle cx="96.00" cy="115.60" r="0.78" fill="#1a1a1a"/>
<circle cx="122.00" cy="114.80" r="0.78" fill="#1a1a1a"/>
<circle cx="89.50" cy="95.00" r="0.78" fill="#1a1a1a"/>
<circle cx="91.00" cy="98.50" r="0.78" fill="#1a1a1a"/>
<circle cx="89.00" cy="110.00" r="0.78" fill="#1a1a1a"/>
<circle cx="92.00" cy="113.00" r="0.78" fill="#1a1a1a"/>
<circle cx="90.00" cy="118.00" r="0.78" fill="#1a1a1a"/>
<circle cx="93.00" cy="121.00" r="0.78" fill="#1a1a1a"/>
<circle cx="95.00" cy="124.00" r="0.78" fill="#1a1a1a"/>
<circle cx="91.00" cy="92.00" r="0.78" fill="#1a1a1a"/>
<circle cx="88.60" cy="88.00" r="0.78" fill="#1a1a1a"/>
<circle cx="98.00" cy="109.00" r="0.78" fill="#1a1a1a"/>
<circle cx="97.00" cy="112.00" r="0.78" fill="#1a1a1a"/>
<circle cx="100.00" cy="117.00" r="0.78" fill="#1a1a1a"/>
<circle cx="96.00" cy="120.00" r="0.78" fill="#1a1a1a"/>
<circle cx="102.00" cy="122.00" r="0.78" fill="#1a1a1a"/>
<circle cx="99.00" cy="103.00" r="0.78" fill="#1a1a1a"/>
<circle cx="383.50" cy="127.87" r="0.78" fill="#1a1a1a"/>
<circle cx="399.76" cy="214.12" r="0.78" fill="#1a1a1a"/>
<circle cx="389.84" cy="199.20" r="0.78" fill="#1a1a1a"/>
<circle cx="410.36" cy="205.71" r="0.78" fill="#1a1a1a"/>
<circle cx="437.77" cy="183.44" r="0.78" fill="#1a1a1a"/>
<circle cx="393.55" cy="207.30" r="0.78" fill="#1a1a1a"/>
<circle cx="407.64" cy="185.02" r="0.78" fill="#1a1a1a"/>
<circle cx="425.10" cy="186.45" r="0.78" fill="#1a1a1a"/>
<circle cx="426.20" cy="205.60" r="0.78" fill="#1a1a1a"/>
<circle cx="411.73" cy="211.19" r="0.78" fill="#1a1a1a"/>
<circle cx="410.81" cy="200.49" r="0.78" fill="#1a1a1a"/>
<circle cx="399.24" cy="213.39" r="0.78" fill="#1a1a1a"/>
<circle cx="428.19" cy="188.40" r="0.78" fill="#1a1a1a"/>
<circle cx="395.30" cy="202.89" r="0.78" fill="#1a1a1a"/>
<circle cx="385.87" cy="173.12" r="0.78" fill="#1a1a1a"/>
<circle cx="426.41" cy="120.55" r="0.78" fill="#1a1a1a"/>
<circle cx="379.86" cy="199.09" r="0.78" fill="#1a1a1a"/>
<circle cx="410.82" cy="204.73" r="0.78" fill="#1a1a1a"/>
<circle cx="416.91" cy="205.50" r="0.78" fill="#1a1a1a"/>
<circle cx="390.18" cy="201.14" r="0.78" fill="#1a1a1a"/>
<circle cx="409.99" cy="199.58" r="0.78" fill="#1a1a1a"/>
<circle cx="387.67" cy="187.90" r="0.78" fill="#1a1a1a"/>
<circle cx="401.01" cy="214.25" r="0.78" fill="#1a1a1a"/>
<circle cx="396.93" cy="212.39" r="0.78" fill="#1a1a1a"/>
<circle cx="398.27" cy="211.60" r="0.78" fill="#1a1a1a"/>
<circle cx="412.94" cy="186.59" r="0.78" fill="#1a1a1a"/>
<circle cx="393.64" cy="168.37" r="0.78" fill="#1a1a1a"/>
<circle cx="367.10" cy="200.74" r="0.78" fill="#1a1a1a"/>
<circle cx="380.17" cy="123.13" r="0.78" fill="#1a1a1a"/>
<circle cx="383.31" cy="198.71" r="0.78" fill="#1a1a1a"/>
<circle cx="413.53" cy="204.27" r="0.78" fill="#1a1a1a"/>
<circle cx="413.08" cy="181.03" r="0.78" fill="#1a1a1a"/>
<circle cx="422.67" cy="191.60" r="0.78" fill="#1a1a1a"/>
<circle cx="383.30" cy="195.26" r="0.78" fill="#1a1a1a"/>
<circle cx="372.64" cy="204.76" r="0.78" fill="#1a1a1a"/>
<circle cx="409.62" cy="194.31" r="0.78" fill="#1a1a1a"/>
<circle cx="414.29" cy="195.85" r="0.78" fill="#1a1a1a"/>
<circle cx="421.79" cy="190.39" r="0.78" fill="#1a1a1a"/>
<circle cx="389.89" cy="205.71" r="0.78" fill="#1a1a1a"/>
<circle cx="402.57" cy="214.55" r="0.78" fill="#1a1a1a"/>
<circle cx="393.27" cy="203.96" r="0.78" fill="#1a1a1a"/>
<circle cx="413.71" cy="200.27" r="0.78" fill="#1a1a1a"/>
<circle cx="389.39" cy="155.31" r="0.78" fill="#1a1a1a"/>
<circle cx="409.34" cy="211.00" r="0.78" fill="#1a1a1a"/>
<circle cx="417.74" cy="188.86" r="0.78" fill="#1a1a1a"/>
<circle cx="396.37" cy="209.43" r="0.78" fill="#1a1a1a"/>
<circle cx="415.96" cy="209.56" r="0.78" fill="#1a1a1a"/>
<circle cx="425.07" cy="199.14" r="0.78" fill="#1a1a1a"/>
<circle cx="380.26" cy="184.66" r="0.78" fill="#1a1a1a"/>
<circle cx="400.06" cy="213.77" r="0.78" fill="#1a1a1a"/>
<circle cx="405.11" cy="211.51" r="0.78" fill="#1a1a1a"/>
<circle cx="429.26" cy="174.41" r="0.78" fill="#1a1a1a"/>
<circle cx="393.95" cy="200.51" r="0.78" fill="#1a1a1a"/>
<circle cx="409.64" cy="212.05" r="0.78" fill="#1a1a1a"/>
<circle cx="410.28" cy="207.29" r="0.78" fill="#1a1a1a"/>
<circle cx="405.23" cy="210.29" r="0.78" fill="#1a1a1a"/>
<circle cx="375.66" cy="133.81" r="0.78" fill="#1a1a1a"/>
<circle cx="424.60" cy="176.50" r="0.78" fill="#1a1a1a"/>
<circle cx="388.41" cy="195.05" r="0.78" fill="#1a1a1a"/>
<circle cx="412.56" cy="90.23" r="0.78" fill="#1a1a1a"/>
<circle cx="369.29" cy="209.60" r="0.78" fill="#1a1a1a"/>
<circle cx="399.23" cy="212.39" r="0.78" fill="#1a1a1a"/>
<circle cx="411.29" cy="189.36" r="0.78" fill="#1a1a1a"/>
<circle cx="434.62" cy="168.16" r="0.78" fill="#1a1a1a"/>
<circle cx="375.14" cy="168.68" r="0.78" fill="#1a1a1a"/>
<circle cx="393.85" cy="207.71" r="0.78" fill="#1a1a1a"/>
<circle cx="393.49" cy="211.75" r="0.78" fill="#1a1a1a"/>
<circle cx="407.02" cy="203.14" r="0.78" fill="#1a1a1a"/>
<circle cx="377.29" cy="195.84" r="0.78" fill="#1a1a1a"/>
<circle cx="417.18" cy="194.02" r="0.78" fill="#1a1a1a"/>
<circle cx="414.57" cy="163.90" r="0.78" fill="#1a1a1a"/>
<circle cx="393.40" cy="174.34" r="0.78" fill="#1a1a1a"/>
<circle cx="404.86" cy="210.25" r="0.78" fill="#1a1a1a"/>
<circle cx="392.26" cy="209.19" r="0.78" fill="#1a1a1a"/>
<circle cx="386.99" cy="204.82" r="0.78" fill="#1a1a1a"/>
<circle cx="406.97" cy="212.27" r="0.78" fill="#1a1a1a"/>
<circle cx="378.92" cy="209.32" r="0.78" fill="#1a1a1a"/>
<circle cx="402.14" cy="214.68" r="0.78" fill="#1a1a1a"/>
<circle cx="406.80" cy="206.87" r="0.78" fill="#1a1a1a"/>
<circle cx="408.15" cy="206.89" r="0.78" fill="#1a1a1a"/>
<circle cx="398.85" cy="210.44" r="0.78" fill="#1a1a1a"/>
<circle cx="417.30" cy="207.72" r="0.78" fill="#1a1a1a"/>
<circle cx="361.86" cy="197.78" r="0.78" fill="#1a1a1a"/>
<circle cx="369.89" cy="182.06" r="0.78" fill="#1a1a1a"/>
<circle cx="401.11" cy="214.33" r="0.78" fill="#1a1a1a"/>
<circle cx="410.30" cy="213.07" r="0.78" fill="#1a1a1a"/>
<circle cx="408.61" cy="172.67" r="0.78" fill="#1a1a1a"/>
<circle cx="430.22" cy="175.61" r="0.78" fill="#1a1a1a"/>
<circle cx="415.59" cy="198.96" r="0.78" fill="#1a1a1a"/>
<circle cx="385.78" cy="205.61" r="0.78" fill="#1a1a1a"/>
<circle cx="403.80" cy="213.47" r="0.78" fill="#1a1a1a"/>
<circle cx="419.38" cy="151.56" r="0.78" fill="#1a1a1a"/>
<circle cx="399.98" cy="213.76" r="0.78" fill="#1a1a1a"/>
<circle cx="414.94" cy="210.69" r="0.78" fill="#1a1a1a"/>
<circle cx="386.54" cy="191.52" r="0.78" fill="#1a1a1a"/>
<circle cx="409.57" cy="182.08" r="0.78" fill="#1a1a1a"/>
<circle cx="423.85" cy="197.35" r="0.78" fill="#1a1a1a"/>
<circle cx="396.03" cy="203.57" r="0.78" fill="#1a1a1a"/>
<circle cx="402.98" cy="214.21" r="0.78" fill="#1a1a1a"/>
<circle cx="385.44" cy="207.37" r="0.78" fill="#1a1a1a"/>
<circle cx="415.92" cy="199.77" r="0.78" fill="#1a1a1a"/>
<circle cx="387.85" cy="185.97" r="0.78" fill="#1a1a1a"/>
<circle cx="397.60" cy="210.63" r="0.78" fill="#1a1a1a"/>
<circle cx="381.89" cy="115.38" r="0.78" fill="#1a1a1a"/>
<circle cx="426.10" cy="203.85" r="0.78" fill="#1a1a1a"/>
<circle cx="369.75" cy="189.53" r="0.78" fill="#1a1a1a"/>
<circle cx="403.28" cy="213.53" r="0.78" fill="#1a1a1a"/>
<circle cx="411.24" cy="206.41" r="0.78" fill="#1a1a1a"/>
<circle cx="387.68" cy="166.28" r="0.78" fill="#1a1a1a"/>
<circle cx="412.38" cy="173.29" r="0.78" fill="#1a1a1a"/>
<circle cx="404.98" cy="210.22" r="0.78" fill="#1a1a1a"/>
<circle cx="427.48" cy="137.92" r="0.78" fill="#1a1a1a"/>
<circle cx="426.89" cy="170.42" r="0.78" fill="#1a1a1a"/>
<circle cx="378.09" cy="201.06" r="0.78" fill="#1a1a1a"/>
<circle cx="411.01" cy="181.40" r="0.78" fill="#1a1a1a"/>
<circle cx="413.27" cy="194.58" r="0.78" fill="#1a1a1a"/>
<circle cx="426.37" cy="212.19" r="0.78" fill="#1a1a1a"/>
<circle cx="414.63" cy="149.86" r="0.78" fill="#1a1a1a"/>
<circle cx="405.50" cy="212.00" r="0.78" fill="#1a1a1a"/>
<circle cx="402.77" cy="214.45" r="0.78" fill="#1a1a1a"/>
<circle cx="404.23" cy="213.15" r="0.78" fill="#1a1a1a"/>
<circle cx="371.90" cy="186.87" r="0.78" fill="#1a1a1a"/>
<circle cx="386.67" cy="182.33" r="0.78" fill="#1a1a1a"/>
<circle cx="412.72" cy="195.68" r="0.78" fill="#1a1a1a"/>
<circle cx="401.38" cy="214.20" r="0.78" fill="#1a1a1a"/>
<circle cx="370.00" cy="185.54" r="0.78" fill="#1a1a1a"/>
<circle cx="410.34" cy="184.54" r="0.78" fill="#1a1a1a"/>
<circle cx="377.04" cy="188.96" r="0.78" fill="#1a1a1a"/>
<circle cx="390.79" cy="209.63" r="0.78" fill="#1a1a1a"/>
<circle cx="425.74" cy="190.60" r="0.78" fill="#1a1a1a"/>
<circle cx="419.25" cy="116.57" r="0.78" fill="#1a1a1a"/>
<circle cx="426.80" cy="176.27" r="0.78" fill="#1a1a1a"/>
<circle cx="419.65" cy="192.18" r="0.78" fill="#1a1a1a"/>
<circle cx="397.15" cy="213.17" r="0.78" fill="#1a1a1a"/>
<circle cx="404.39" cy="212.53" r="0.78" fill="#1a1a1a"/>
<circle cx="402.78" cy="213.32" r="0.78" fill="#1a1a1a"/>
<circle cx="373.44" cy="194.47" r="0.78" fill="#1a1a1a"/>
<circle cx="398.09" cy="198.73" r="0.78" fill="#1a1a1a"/>
<circle cx="400.92" cy="214.08" r="0.78" fill="#1a1a1a"/>
<circle cx="414.85" cy="141.06" r="0.78" fill="#1a1a1a"/>
<circle cx="383.85" cy="206.44" r="0.78" fill="#1a1a1a"/>
<circle cx="399.89" cy="211.52" r="0.78" fill="#1a1a1a"/>
<circle cx="406.71" cy="211.79" r="0.78" fill="#1a1a1a"/>
<circle cx="386.62" cy="174.17" r="0.78" fill="#1a1a1a"/>
<circle cx="402.52" cy="214.44" r="0.78" fill="#1a1a1a"/>
<circle cx="419.04" cy="200.66" r="0.78" fill="#1a1a1a"/>
<circle cx="419.59" cy="207.42" r="0.78" fill="#1a1a1a"/>
<circle cx="437.44" cy="163.80" r="0.78" fill="#1a1a1a"/>
<circle cx="391.16" cy="205.62" r="0.78" fill="#1a1a1a"/>
<circle cx="392.99" cy="210.03" r="0.78" fill="#1a1a1a"/>
<circle cx="399.61" cy="213.34" r="0.78" fill="#1a1a1a"/>
<circle cx="397.66" cy="206.71" r="0.78" fill="#1a1a1a"/>
<circle cx="398.25" cy="213.65" r="0.78" fill="#1a1a1a"/>
<circle cx="380.60" cy="146.27" r="0.78" fill="#1a1a1a"/>
<circle cx="382.14" cy="188.39" r="0.78" fill="#1a1a1a"/>
<circle cx="403.01" cy="214.23" r="0.78" fill="#1a1a1a"/>
<circle cx="404.05" cy="213.06" r="0.78" fill="#1a1a1a"/>
<circle cx="410.02" cy="209.91" r="0.78" fill="#1a1a1a"/>
<circle cx="367.68" cy="189.94" r="0.78" fill="#1a1a1a"/>
<circle cx="385.98" cy="154.37" r="0.78" fill="#1a1a1a"/>
<circle cx="394.11" cy="211.55" r="0.78" fill="#1a1a1a"/>
<circle cx="399.77" cy="213.87" r="0.78" fill="#1a1a1a"/>
<circle cx="385.01" cy="188.71" r="0.78" fill="#1a1a1a"/>
<circle cx="387.84" cy="205.69" r="0.78" fill="#1a1a1a"/>
<circle cx="391.32" cy="210.34" r="0.78" fill="#1a1a1a"/>
<circle cx="400.58" cy="213.14" r="0.78" fill="#1a1a1a"/>
<circle cx="406.13" cy="204.65" r="0.78" fill="#1a1a1a"/>
<circle cx="378.56" cy="202.77" r="0.78" fill="#1a1a1a"/>
<circle cx="386.45" cy="206.84" r="0.78" fill="#1a1a1a"/>
<circle cx="391.15" cy="205.72" r="0.78" fill="#1a1a1a"/>
<circle cx="401.02" cy="212.06" r="0.78" fill="#1a1a1a"/>
<circle cx="389.81" cy="204.65" r="0.78" fill="#1a1a1a"/>
<circle cx="398.48" cy="211.86" r="0.78" fill="#1a1a1a"/>
<circle cx="405.56" cy="208.56" r="0.78" fill="#1a1a1a"/>
<circle cx="396.62" cy="204.55" r="0.78" fill="#1a1a1a"/>
<circle cx="402.65" cy="214.36" r="0.78" fill="#1a1a1a"/>
<circle cx="387.54" cy="205.57" r="0.78" fill="#1a1a1a"/>
<circle cx="409.24" cy="202.96" r="0.78" fill="#1a1a1a"/>
<circle cx="405.26" cy="211.86" r="0.78" fill="#1a1a1a"/>
<circle cx="396.92" cy="212.63" r="0.78" fill="#1a1a1a"/>
<circle cx="381.42" cy="148.68" r="0.78" fill="#1a1a1a"/>
<circle cx="393.75" cy="204.43" r="0.78" fill="#1a1a1a"/>
<circle cx="394.93" cy="207.80" r="0.78" fill="#1a1a1a"/>
<circle cx="415.60" cy="190.23" r="0.78" fill="#1a1a1a"/>
<circle cx="413.69" cy="164.16" r="0.78" fill="#1a1a1a"/>
<circle cx="419.47" cy="178.38" r="0.78" fill="#1a1a1a"/>
<circle cx="402.27" cy="214.66" r="0.78" fill="#1a1a1a"/>
<circle cx="418.68" cy="204.11" r="0.78" fill="#1a1a1a"/>
<circle cx="408.19" cy="211.06" r="0.78" fill="#1a1a1a"/>
<circle cx="388.60" cy="173.08" r="0.78" fill="#1a1a1a"/>
<circle cx="430.12" cy="163.01" r="0.78" fill="#1a1a1a"/>
<circle cx="387.16" cy="203.54" r="0.78" fill="#1a1a1a"/>
<circle cx="405.23" cy="212.84" r="0.78" fill="#1a1a1a"/>
<circle cx="400.93" cy="213.79" r="0.78" fill="#1a1a1a"/>
<circle cx="393.45" cy="202.71" r="0.78" fill="#1a1a1a"/>
<circle cx="425.82" cy="196.83" r="0.78" fill="#1a1a1a"/>
<circle cx="366.10" cy="176.15" r="0.78" fill="#1a1a1a"/>
<circle cx="370.30" cy="193.66" r="0.78" fill="#1a1a1a"/>
<circle cx="376.61" cy="201.77" r="0.78" fill="#1a1a1a"/>
<circle cx="423.25" cy="182.08" r="0.78" fill="#1a1a1a"/>
<circle cx="399.89" cy="214.02" r="0.78" fill="#1a1a1a"/>
<circle cx="420.56" cy="200.78" r="0.78" fill="#1a1a1a"/>
<circle cx="395.57" cy="211.75" r="0.78" fill="#1a1a1a"/>
<circle cx="404.75" cy="213.95" r="0.78" fill="#1a1a1a"/>
<circle cx="387.10" cy="202.41" r="0.78" fill="#1a1a1a"/>
<circle cx="393.91" cy="207.27" r="0.78" fill="#1a1a1a"/>
<circle cx="420.48" cy="205.11" r="0.78" fill="#1a1a1a"/>
<circle cx="424.28" cy="205.35" r="0.78" fill="#1a1a1a"/>
<circle cx="406.94" cy="208.14" r="0.78" fill="#1a1a1a"/>
<circle cx="396.75" cy="212.08" r="0.78" fill="#1a1a1a"/>
<circle cx="410.69" cy="209.76" r="0.78" fill="#1a1a1a"/>
<circle cx="384.56" cy="198.02" r="0.78" fill="#1a1a1a"/>
<circle cx="419.30" cy="206.60" r="0.78" fill="#1a1a1a"/>
<circle cx="388.38" cy="169.85" r="0.78" fill="#1a1a1a"/>
<circle cx="420.92" cy="204.34" r="0.78" fill="#1a1a1a"/>
<circle cx="402.66" cy="213.11" r="0.78" fill="#1a1a1a"/>
<circle cx="389.32" cy="204.63" r="0.78" fill="#1a1a1a"/>
<circle cx="405.90" cy="210.07" r="0.78" fill="#1a1a1a"/>
<circle cx="428.18" cy="164.75" r="0.78" fill="#1a1a1a"/>
<circle cx="394.81" cy="211.12" r="0.78" fill="#1a1a1a"/>
<circle cx="364.97" cy="177.29" r="0.78" fill="#1a1a1a"/>
<circle cx="383.81" cy="208.08" r="0.78" fill="#1a1a1a"/>
<circle cx="429.09" cy="196.15" r="0.78" fill="#1a1a1a"/>
<circle cx="379.69" cy="193.39" r="0.78" fill="#1a1a1a"/>
<circle cx="379.51" cy="200.86" r="0.78" fill="#1a1a1a"/>
<circle cx="387.25" cy="195.28" r="0.78" fill="#1a1a1a"/>
<circle cx="396.93" cy="211.63" r="0.78" fill="#1a1a1a"/>
<circle cx="384.15" cy="209.20" r="0.78" fill="#1a1a1a"/>
<circle cx="381.07" cy="192.00" r="0.78" fill="#1a1a1a"/>
<circle cx="400.65" cy="214.24" r="0.78" fill="#1a1a1a"/>
<circle cx="382.12" cy="177.06" r="0.78" fill="#1a1a1a"/>
<circle cx="422.21" cy="176.70" r="0.78" fill="#1a1a1a"/>
<circle cx="430.93" cy="159.77" r="0.78" fill="#1a1a1a"/>
<circle cx="432.91" cy="192.22" r="0.78" fill="#1a1a1a"/>
<circle cx="393.00" cy="191.24" r="0.78" fill="#1a1a1a"/>
<circle cx="393.10" cy="209.20" r="0.78" fill="#1a1a1a"/>
<circle cx="395.12" cy="197.40" r="0.78" fill="#1a1a1a"/>
<circle cx="380.29" cy="210.55" r="0.78" fill="#1a1a1a"/>
<circle cx="411.61" cy="209.84" r="0.78" fill="#1a1a1a"/>
<circle cx="382.02" cy="110.91" r="0.78" fill="#1a1a1a"/>
<circle cx="386.18" cy="165.46" r="0.78" fill="#1a1a1a"/>
<circle cx="388.40" cy="206.81" r="0.78" fill="#1a1a1a"/>
<circle cx="386.90" cy="143.73" r="0.78" fill="#1a1a1a"/>
<circle cx="381.63" cy="199.64" r="0.78" fill="#1a1a1a"/>
<circle cx="387.40" cy="198.70" r="0.78" fill="#1a1a1a"/>
<circle cx="422.20" cy="181.52" r="0.78" fill="#1a1a1a"/>
<circle cx="376.62" cy="204.28" r="0.78" fill="#1a1a1a"/>
<circle cx="394.43" cy="201.63" r="0.78" fill="#1a1a1a"/>
<circle cx="405.50" cy="204.58" r="0.78" fill="#1a1a1a"/>
<circle cx="426.73" cy="153.89" r="0.78" fill="#1a1a1a"/>
<circle cx="408.50" cy="199.29" r="0.78" fill="#1a1a1a"/>
<circle cx="366.27" cy="192.15" r="0.78" fill="#1a1a1a"/>
<circle cx="403.47" cy="213.54" r="0.78" fill="#1a1a1a"/>
<circle cx="387.22" cy="183.82" r="0.78" fill="#1a1a1a"/>
<circle cx="396.76" cy="210.85" r="0.78" fill="#1a1a1a"/>
<circle cx="406.24" cy="212.06" r="0.78" fill="#1a1a1a"/>
<circle cx="381.00" cy="166.23" r="0.78" fill="#1a1a1a"/>
<circle cx="418.12" cy="204.06" r="0.78" fill="#1a1a1a"/>
<circle cx="393.43" cy="105.40" r="0.78" fill="#1a1a1a"/>
<circle cx="392.92" cy="209.74" r="0.78" fill="#1a1a1a"/>
<circle cx="389.45" cy="204.00" r="0.78" fill="#1a1a1a"/>
<circle cx="389.26" cy="195.75" r="0.78" fill="#1a1a1a"/>
<circle cx="406.61" cy="206.60" r="0.78" fill="#1a1a1a"/>
<circle cx="388.59" cy="210.48" r="0.78" fill="#1a1a1a"/>
<circle cx="400.89" cy="209.95" r="0.78" fill="#1a1a1a"/>
<circle cx="398.67" cy="212.65" r="0.78" fill="#1a1a1a"/>
<circle cx="419.31" cy="183.47" r="0.78" fill="#1a1a1a"/>
<circle cx="400.17" cy="209.34" r="0.78" fill="#1a1a1a"/>
<circle cx="388.95" cy="209.59" r="0.78" fill="#1a1a1a"/>
<circle cx="428.38" cy="157.07" r="0.78" fill="#1a1a1a"/>
<circle cx="425.24" cy="175.75" r="0.78" fill="#1a1a1a"/>
<circle cx="391.08" cy="211.29" r="0.78" fill="#1a1a1a"/>
<circle cx="377.65" cy="128.61" r="0.78" fill="#1a1a1a"/>
<circle cx="390.26" cy="199.80" r="0.78" fill="#1a1a1a"/>
<circle cx="410.27" cy="200.71" r="0.78" fill="#1a1a1a"/>
<circle cx="373.73" cy="203.02" r="0.78" fill="#1a1a1a"/>
<circle cx="392.35" cy="204.23" r="0.78" fill="#1a1a1a"/>
<circle cx="390.96" cy="207.11" r="0.78" fill="#1a1a1a"/>
<circle cx="392.24" cy="200.51" r="0.78" fill="#1a1a1a"/>
<circle cx="387.27" cy="172.52" r="0.78" fill="#1a1a1a"/>
<circle cx="422.64" cy="174.96" r="0.78" fill="#1a1a1a"/>
<circle cx="380.54" cy="171.30" r="0.78" fill="#1a1a1a"/>
<circle cx="410.82" cy="210.57" r="0.78" fill="#1a1a1a"/>
<circle cx="383.13" cy="201.68" r="0.78" fill="#1a1a1a"/>
<circle cx="390.66" cy="199.37" r="0.78" fill="#1a1a1a"/>
<circle cx="425.97" cy="207.29" r="0.78" fill="#1a1a1a"/>
<circle cx="397.48" cy="208.37" r="0.78" fill="#1a1a1a"/>
<circle cx="400.77" cy="209.75" r="0.78" fill="#1a1a1a"/>
<circle cx="407.13" cy="212.80" r="0.78" fill="#1a1a1a"/>
<circle cx="392.39" cy="193.04" r="0.78" fill="#1a1a1a"/>
<circle cx="425.77" cy="199.89" r="0.78" fill="#1a1a1a"/>
<circle cx="406.73" cy="210.53" r="0.78" fill="#1a1a1a"/>
<circle cx="394.16" cy="209.98" r="0.78" fill="#1a1a1a"/>
<circle cx="423.29" cy="181.82" r="0.78" fill="#1a1a1a"/>
<circle cx="416.18" cy="126.67" r="0.78" fill="#1a1a1a"/>
<circle cx="361.76" cy="157.06" r="0.78" fill="#1a1a1a"/>
<circle cx="367.48" cy="161.51" r="0.78" fill="#1a1a1a"/>
<circle cx="411.12" cy="211.32" r="0.78" fill="#1a1a1a"/>
<circle cx="404.33" cy="213.61" r="0.78" fill="#1a1a1a"/>
<circle cx="372.69" cy="156.50" r="0.78" fill="#1a1a1a"/>
<circle cx="401.72" cy="214.49" r="0.78" fill="#1a1a1a"/>
<circle cx="418.08" cy="199.48" r="0.78" fill="#1a1a1a"/>
<circle cx="416.51" cy="211.40" r="0.78" fill="#1a1a1a"/>
<circle cx="422.38" cy="210.05" r="0.78" fill="#1a1a1a"/>
<circle cx="396.73" cy="213.27" r="0.78" fill="#1a1a1a"/>
<circle cx="382.11" cy="201.37" r="0.78" fill="#1a1a1a"/>
<circle cx="405.02" cy="213.23" r="0.78" fill="#1a1a1a"/>
<circle cx="397.83" cy="208.41" r="0.78" fill="#1a1a1a"/>
<circle cx="398.41" cy="213.07" r="0.78" fill="#1a1a1a"/>
<circle cx="407.93" cy="212.17" r="0.78" fill="#1a1a1a"/>
<circle cx="394.63" cy="203.29" r="0.78" fill="#1a1a1a"/>
<circle cx="406.20" cy="211.87" r="0.78" fill="#1a1a1a"/>
<circle cx="374.39" cy="118.08" r="0.78" fill="#1a1a1a"/>
<circle cx="424.30" cy="203.49" r="0.78" fill="#1a1a1a"/>
<circle cx="369.05" cy="181.82" r="0.78" fill="#1a1a1a"/>
<circle cx="408.17" cy="202.24" r="0.78" fill="#1a1a1a"/>
<circle cx="398.07" cy="211.70" r="0.78" fill="#1a1a1a"/>
<circle cx="409.43" cy="207.79" r="0.78" fill="#1a1a1a"/>
<circle cx="366.40" cy="166.41" r="0.78" fill="#1a1a1a"/>
<circle cx="378.25" cy="203.92" r="0.78" fill="#1a1a1a"/>
<circle cx="405.79" cy="213.35" r="0.78" fill="#1a1a1a"/>
<circle cx="385.93" cy="159.76" r="0.78" fill="#1a1a1a"/>
<circle cx="406.60" cy="203.85" r="0.78" fill="#1a1a1a"/>
<circle cx="405.24" cy="212.15" r="0.78" fill="#1a1a1a"/>
<circle cx="420.46" cy="98.66" r="0.78" fill="#1a1a1a"/>
<circle cx="400.32" cy="213.14" r="0.78" fill="#1a1a1a"/>
<circle cx="397.34" cy="205.30" r="0.78" fill="#1a1a1a"/>
<circle cx="416.83" cy="154.63" r="0.78" fill="#1a1a1a"/>
<circle cx="392.81" cy="204.37" r="0.78" fill="#1a1a1a"/>
<circle cx="416.01" cy="207.57" r="0.78" fill="#1a1a1a"/>
<circle cx="391.62" cy="198.64" r="0.78" fill="#1a1a1a"/>
<circle cx="379.29" cy="153.32" r="0.78" fill="#1a1a1a"/>
<circle cx="412.92" cy="202.94" r="0.78" fill="#1a1a1a"/>
<circle cx="409.22" cy="201.09" r="0.78" fill="#1a1a1a"/>
<circle cx="427.59" cy="200.17" r="0.78" fill="#1a1a1a"/>
<circle cx="419.73" cy="208.41" r="0.78" fill="#1a1a1a"/>
<circle cx="432.26" cy="162.14" r="0.78" fill="#1a1a1a"/>
<circle cx="393.34" cy="211.42" r="0.78" fill="#1a1a1a"/>
<circle cx="374.88" cy="101.36" r="0.78" fill="#1a1a1a"/>
<circle cx="411.91" cy="198.81" r="0.78" fill="#1a1a1a"/>
<circle cx="381.65" cy="200.24" r="0.78" fill="#1a1a1a"/>
<circle cx="408.79" cy="211.88" r="0.78" fill="#1a1a1a"/>
<circle cx="384.16" cy="206.76" r="0.78" fill="#1a1a1a"/>
<circle cx="402.39" cy="214.42" r="0.78" fill="#1a1a1a"/>
<circle cx="397.74" cy="206.85" r="0.78" fill="#1a1a1a"/>
<circle cx="387.78" cy="163.51" r="0.78" fill="#1a1a1a"/>
<circle cx="402.88" cy="213.51" r="0.78" fill="#1a1a1a"/>
<circle cx="395.63" cy="179.43" r="0.78" fill="#1a1a1a"/>
<circle cx="387.74" cy="208.94" r="0.78" fill="#1a1a1a"/>
<circle cx="374.75" cy="155.88" r="0.78" fill="#1a1a1a"/>
<circle cx="405.76" cy="203.90" r="0.78" fill="#1a1a1a"/>
<circle cx="399.42" cy="213.42" r="0.78" fill="#1a1a1a"/>
<circle cx="385.85" cy="201.44" r="0.78" fill="#1a1a1a"/>
<circle cx="436.30" cy="200.52" r="0.78" fill="#1a1a1a"/>
<circle cx="401.97" cy="214.77" r="0.78" fill="#1a1a1a"/>
<circle cx="383.69" cy="185.18" r="0.78" fill="#1a1a1a"/>
<circle cx="398.37" cy="212.74" r="0.78" fill="#1a1a1a"/>
<circle cx="382.82" cy="198.78" r="0.78" fill="#1a1a1a"/>
<circle cx="424.84" cy="191.85" r="0.78" fill="#1a1a1a"/>
<circle cx="395.06" cy="207.96" r="0.78" fill="#1a1a1a"/>
<circle cx="407.27" cy="210.49" r="0.78" fill="#1a1a1a"/>
<circle cx="394.97" cy="197.61" r="0.78" fill="#1a1a1a"/>
<circle cx="384.73" cy="173.82" r="0.78" fill="#1a1a1a"/>
<circle cx="418.21" cy="207.34" r="0.78" fill="#1a1a1a"/>
<circle cx="422.60" cy="184.74" r="0.78" fill="#1a1a1a"/>
<circle cx="394.71" cy="208.60" r="0.78" fill="#1a1a1a"/>
<circle cx="407.40" cy="210.81" r="0.78" fill="#1a1a1a"/>
<circle cx="379.77" cy="90.50" r="0.78" fill="#1a1a1a"/>
<circle cx="412.49" cy="205.14" r="0.78" fill="#1a1a1a"/>
<circle cx="401.77" cy="214.36" r="0.78" fill="#1a1a1a"/>
<circle cx="418.07" cy="189.73" r="0.78" fill="#1a1a1a"/>
<circle cx="398.64" cy="206.05" r="0.78" fill="#1a1a1a"/>
<circle cx="377.44" cy="200.45" r="0.78" fill="#1a1a1a"/>
<circle cx="412.90" cy="203.76" r="0.78" fill="#1a1a1a"/>
<circle cx="410.50" cy="210.92" r="0.78" fill="#1a1a1a"/>
<circle cx="412.23" cy="201.31" r="0.78" fill="#1a1a1a"/>
<circle cx="404.07" cy="214.30" r="0.78" fill="#1a1a1a"/>
<circle cx="438.32" cy="203.35" r="0.78" fill="#1a1a1a"/>
<circle cx="389.66" cy="169.94" r="0.78" fill="#1a1a1a"/>
<circle cx="405.93" cy="210.89" r="0.78" fill="#1a1a1a"/>
<circle cx="420.62" cy="161.30" r="0.78" fill="#1a1a1a"/>
<circle cx="394.85" cy="208.67" r="0.78" fill="#1a1a1a"/>
<circle cx="395.83" cy="211.96" r="0.78" fill="#1a1a1a"/>
<circle cx="385.45" cy="165.56" r="0.78" fill="#1a1a1a"/>
<circle cx="376.73" cy="198.28" r="0.78" fill="#1a1a1a"/>
<circle cx="429.27" cy="176.43" r="0.78" fill="#1a1a1a"/>
<circle cx="390.97" cy="208.27" r="0.78" fill="#1a1a1a"/>
<circle cx="402.99" cy="213.82" r="0.78" fill="#1a1a1a"/>
<circle cx="404.53" cy="211.34" r="0.78" fill="#1a1a1a"/>
<circle cx="410.03" cy="205.79" r="0.78" fill="#1a1a1a"/>
<circle cx="395.27" cy="168.79" r="0.78" fill="#1a1a1a"/>
<circle cx="402.38" cy="214.47" r="0.78" fill="#1a1a1a"/>
<circle cx="405.30" cy="212.57" r="0.78" fill="#1a1a1a"/>
<circle cx="372.79" cy="162.75" r="0.78" fill="#1a1a1a"/>
<circle cx="394.17" cy="208.27" r="0.78" fill="#1a1a1a"/>
<circle cx="428.87" cy="207.09" r="0.78" fill="#1a1a1a"/>
<circle cx="388.80" cy="173.70" r="0.78" fill="#1a1a1a"/>
<circle cx="393.84" cy="213.41" r="0.78" fill="#1a1a1a"/>
<circle cx="395.07" cy="210.00" r="0.78" fill="#1a1a1a"/>
<circle cx="429.51" cy="204.53" r="0.78" fill="#1a1a1a"/>
<circle cx="390.80" cy="195.07" r="0.78" fill="#1a1a1a"/>
<circle cx="421.06" cy="196.56" r="0.78" fill="#1a1a1a"/>
<circle cx="394.34" cy="208.67" r="0.78" fill="#1a1a1a"/>
<circle cx="385.30" cy="203.31" r="0.78" fill="#1a1a1a"/>
<circle cx="405.59" cy="210.47" r="0.78" fill="#1a1a1a"/>
<circle cx="364.69" cy="183.72" r="0.78" fill="#1a1a1a"/>
<circle cx="373.93" cy="154.78" r="0.78" fill="#1a1a1a"/>
<circle cx="412.45" cy="210.04" r="0.78" fill="#1a1a1a"/>
<circle cx="403.44" cy="213.54" r="0.78" fill="#1a1a1a"/>
<circle cx="393.77" cy="205.67" r="0.78" fill="#1a1a1a"/>
<circle cx="411.71" cy="198.57" r="0.78" fill="#1a1a1a"/>
<circle cx="414.81" cy="203.27" r="0.78" fill="#1a1a1a"/>
<circle cx="385.10" cy="207.53" r="0.78" fill="#1a1a1a"/>
<circle cx="398.20" cy="213.96" r="0.78" fill="#1a1a1a"/>
<circle cx="397.68" cy="207.13" r="0.78" fill="#1a1a1a"/>
<circle cx="395.27" cy="202.63" r="0.78" fill="#1a1a1a"/>
<circle cx="415.10" cy="150.86" r="0.78" fill="#1a1a1a"/>
<circle cx="377.13" cy="88.77" r="0.78" fill="#1a1a1a"/>
<circle cx="402.31" cy="214.31" r="0.78" fill="#1a1a1a"/>
<circle cx="392.75" cy="211.39" r="0.78" fill="#1a1a1a"/>
<circle cx="414.63" cy="207.04" r="0.78" fill="#1a1a1a"/>
<circle cx="387.58" cy="202.85" r="0.78" fill="#1a1a1a"/>
<circle cx="395.46" cy="204.77" r="0.78" fill="#1a1a1a"/>
<circle cx="387.94" cy="207.27" r="0.78" fill="#1a1a1a"/>
<circle cx="413.23" cy="200.67" r="0.78" fill="#1a1a1a"/>
<circle cx="394.66" cy="205.63" r="0.78" fill="#1a1a1a"/>
<circle cx="428.42" cy="209.49" r="0.78" fill="#1a1a1a"/>
<circle cx="393.74" cy="208.83" r="0.78" fill="#1a1a1a"/>
<circle cx="409.55" cy="210.39" r="0.78" fill="#1a1a1a"/>
<circle cx="388.30" cy="202.53" r="0.78" fill="#1a1a1a"/>
<circle cx="420.54" cy="193.67" r="0.78" fill="#1a1a1a"/>
<circle cx="392.78" cy="209.06" r="0.78" fill="#1a1a1a"/>
<circle cx="403.55" cy="213.73" r="0.78" fill="#1a1a1a"/>
<circle cx="418.48" cy="185.90" r="0.78" fill="#1a1a1a"/>
<circle cx="409.79" cy="210.97" r="0.78" fill="#1a1a1a"/>
<circle cx="405.15" cy="211.87" r="0.78" fill="#1a1a1a"/>
<circle cx="415.57" cy="201.01" r="0.78" fill="#1a1a1a"/>
<circle cx="400.73" cy="213.44" r="0.78" fill="#1a1a1a"/>
<circle cx="398.19" cy="208.92" r="0.78" fill="#1a1a1a"/>
<circle cx="399.29" cy="208.39" r="0.78" fill="#1a1a1a"/>
<circle cx="364.93" cy="165.98" r="0.78" fill="#1a1a1a"/>
<circle cx="366.35" cy="156.29" r="0.78" fill="#1a1a1a"/>
<circle cx="371.21" cy="165.54" r="0.78" fill="#1a1a1a"/>
<circle cx="394.75" cy="156.11" r="0.78" fill="#1a1a1a"/>
<circle cx="393.97" cy="165.53" r="0.78" fill="#1a1a1a"/>
<circle cx="377.67" cy="159.01" r="0.78" fill="#1a1a1a"/>
<circle cx="377.37" cy="169.37" r="0.78" fill="#1a1a1a"/>
<circle cx="374.86" cy="172.78" r="0.78" fill="#1a1a1a"/>
<circle cx="373.96" cy="152.90" r="0.78" fill="#1a1a1a"/>
<circle cx="393.43" cy="161.43" r="0.78" fill="#1a1a1a"/>
<circle cx="378.05" cy="168.25" r="0.78" fill="#1a1a1a"/>
<circle cx="364.34" cy="169.81" r="0.78" fill="#1a1a1a"/>
<circle cx="387.49" cy="155.75" r="0.78" fill="#1a1a1a"/>
<circle cx="373.44" cy="157.68" r="0.78" fill="#1a1a1a"/>
<circle cx="387.26" cy="159.84" r="0.78" fill="#1a1a1a"/>
<circle cx="383.55" cy="158.30" r="0.78" fill="#1a1a1a"/>
<circle cx="373.51" cy="159.60" r="0.78" fill="#1a1a1a"/>
<circle cx="370.75" cy="164.77" r="0.78" fill="#1a1a1a"/>
<circle cx="387.08" cy="159.92" r="0.78" fill="#1a1a1a"/>
<circle cx="371.18" cy="153.91" r="0.78" fill="#1a1a1a"/>
<circle cx="383.07" cy="162.53" r="0.78" fill="#1a1a1a"/>
<circle cx="361.75" cy="163.32" r="0.78" fill="#1a1a1a"/>
<circle cx="369.74" cy="160.38" r="0.78" fill="#1a1a1a"/>
<circle cx="376.83" cy="156.95" r="0.78" fill="#1a1a1a"/>
<circle cx="383.00" cy="157.40" r="0.78" fill="#1a1a1a"/>
<circle cx="372.99" cy="161.03" r="0.78" fill="#1a1a1a"/>
<circle cx="386.02" cy="156.68" r="0.78" fill="#1a1a1a"/>
<circle cx="373.06" cy="156.33" r="0.78" fill="#1a1a1a"/>
<circle cx="390.43" cy="159.98" r="0.78" fill="#1a1a1a"/>
<circle cx="393.98" cy="153.65" r="0.78" fill="#1a1a1a"/>
<circle cx="424.26" cy="166.01" r="0.78" fill="#1a1a1a"/>
<circle cx="412.82" cy="157.27" r="0.78" fill="#1a1a1a"/>
<circle cx="437.89" cy="167.49" r="0.78" fill="#1a1a1a"/>
<circle cx="429.89" cy="160.59" r="0.78" fill="#1a1a1a"/>
<circle cx="431.16" cy="176.17" r="0.78" fill="#1a1a1a"/>
<circle cx="432.79" cy="164.54" r="0.78" fill="#1a1a1a"/>
<circle cx="429.05" cy="169.09" r="0.78" fill="#1a1a1a"/>
<circle cx="427.69" cy="159.03" r="0.78" fill="#1a1a1a"/>
<circle cx="428.12" cy="160.57" r="0.78" fill="#1a1a1a"/>
<circle cx="408.32" cy="176.51" r="0.78" fill="#1a1a1a"/>
<circle cx="421.76" cy="162.57" r="0.78" fill="#1a1a1a"/>
<circle cx="414.54" cy="161.55" r="0.78" fill="#1a1a1a"/>
<circle cx="427.93" cy="179.87" r="0.78" fill="#1a1a1a"/>
<circle cx="422.75" cy="174.63" r="0.78" fill="#1a1a1a"/>
<circle cx="409.18" cy="177.26" r="0.78" fill="#1a1a1a"/>
<circle cx="417.73" cy="175.90" r="0.78" fill="#1a1a1a"/>
<circle cx="413.70" cy="180.05" r="0.78" fill="#1a1a1a"/>
<circle cx="422.54" cy="170.25" r="0.78" fill="#1a1a1a"/>
<circle cx="427.31" cy="164.28" r="0.78" fill="#1a1a1a"/>
<circle cx="415.15" cy="155.38" r="0.78" fill="#1a1a1a"/>
<circle cx="407.44" cy="169.53" r="0.78" fill="#1a1a1a"/>
<circle cx="416.47" cy="169.40" r="0.78" fill="#1a1a1a"/>
<circle cx="411.16" cy="157.42" r="0.78" fill="#1a1a1a"/>
<circle cx="419.57" cy="180.03" r="0.78" fill="#1a1a1a"/>
<circle cx="427.36" cy="178.36" r="0.78" fill="#1a1a1a"/>
<circle cx="404.45" cy="145.60" r="0.78" fill="#1a1a1a"/>
<circle cx="406.38" cy="133.66" r="0.78" fill="#1a1a1a"/>
<circle cx="419.26" cy="144.06" r="0.78" fill="#1a1a1a"/>
<circle cx="418.96" cy="139.76" r="0.78" fill="#1a1a1a"/>
<circle cx="394.93" cy="149.40" r="0.78" fill="#1a1a1a"/>
<circle cx="407.20" cy="141.27" r="0.78" fill="#1a1a1a"/>
<circle cx="426.77" cy="133.48" r="0.78" fill="#1a1a1a"/>
<circle cx="407.88" cy="145.37" r="0.78" fill="#1a1a1a"/>
<circle cx="423.32" cy="152.12" r="0.78" fill="#1a1a1a"/>
<circle cx="380.76" cy="141.23" r="0.78" fill="#1a1a1a"/>
<circle cx="395.79" cy="179.96" r="0.78" fill="#1a1a1a"/>
<circle cx="409.62" cy="167.61" r="0.78" fill="#1a1a1a"/>
<circle cx="409.01" cy="163.08" r="0.78" fill="#1a1a1a"/>
<circle cx="392.12" cy="168.63" r="0.78" fill="#1a1a1a"/>
<circle cx="410.53" cy="196.74" r="0.78" fill="#1a1a1a"/>
<circle cx="416.61" cy="189.39" r="0.78" fill="#1a1a1a"/>
<circle cx="405.75" cy="194.49" r="0.78" fill="#1a1a1a"/>
<circle cx="407.13" cy="207.89" r="0.78" fill="#1a1a1a"/>
<circle cx="388.99" cy="207.13" r="0.78" fill="#1a1a1a"/>
<circle cx="407.10" cy="208.39" r="0.78" fill="#1a1a1a"/>
<circle cx="396.87" cy="186.61" r="0.78" fill="#1a1a1a"/>
<circle cx="390.42" cy="196.37" r="0.78" fill="#1a1a1a"/>
<circle cx="412.04" cy="195.52" r="0.78" fill="#1a1a1a"/>
<circle cx="411.03" cy="203.06" r="0.78" fill="#1a1a1a"/>
<circle cx="413.71" cy="193.14" r="0.78" fill="#1a1a1a"/>
<circle cx="408.70" cy="207.76" r="0.78" fill="#1a1a1a"/>
<circle cx="413.09" cy="197.09" r="0.78" fill="#1a1a1a"/>
<circle cx="400.00" cy="203.93" r="0.78" fill="#1a1a1a"/>
<circle cx="411.86" cy="172.25" r="0.78" fill="#1a1a1a"/>
<circle cx="415.44" cy="176.47" r="0.78" fill="#1a1a1a"/>
<circle cx="409.11" cy="169.28" r="0.78" fill="#1a1a1a"/>
<circle cx="388.02" cy="168.78" r="0.78" fill="#1a1a1a"/>
<circle cx="396.08" cy="187.05" r="0.78" fill="#1a1a1a"/>
<circle cx="411.69" cy="208.86" r="0.78" fill="#1a1a1a"/>
<circle cx="416.14" cy="178.39" r="0.78" fill="#1a1a1a"/>
<circle cx="413.22" cy="202.28" r="0.78" fill="#1a1a1a"/>
<circle cx="411.09" cy="167.04" r="0.78" fill="#1a1a1a"/>
<circle cx="389.47" cy="198.15" r="0.78" fill="#1a1a1a"/>
<circle cx="395.68" cy="177.67" r="0.78" fill="#1a1a1a"/>
<circle cx="386.67" cy="188.74" r="0.78" fill="#1a1a1a"/>
<circle cx="390.54" cy="203.24" r="0.78" fill="#1a1a1a"/>
<circle cx="413.37" cy="202.66" r="0.78" fill="#1a1a1a"/>
<circle cx="391.92" cy="188.33" r="0.78" fill="#1a1a1a"/>
<circle cx="391.25" cy="198.95" r="0.78" fill="#1a1a1a"/>
<circle cx="415.70" cy="181.84" r="0.78" fill="#1a1a1a"/>
<circle cx="405.04" cy="202.67" r="0.78" fill="#1a1a1a"/>
<circle cx="410.44" cy="176.64" r="0.78" fill="#1a1a1a"/>
<circle cx="416.20" cy="164.68" r="0.78" fill="#1a1a1a"/>
<circle cx="405.85" cy="202.49" r="0.78" fill="#1a1a1a"/>
<circle cx="416.14" cy="179.19" r="0.78" fill="#1a1a1a"/>
<circle cx="396.63" cy="182.81" r="0.78" fill="#1a1a1a"/>
<circle cx="415.08" cy="182.96" r="0.78" fill="#1a1a1a"/>
<circle cx="389.25" cy="195.63" r="0.78" fill="#1a1a1a"/>
<circle cx="413.79" cy="168.23" r="0.78" fill="#1a1a1a"/>
<circle cx="391.32" cy="200.55" r="0.78" fill="#1a1a1a"/>
<circle cx="406.11" cy="208.65" r="0.78" fill="#1a1a1a"/>
<circle cx="403.52" cy="212.71" r="0.78" fill="#1a1a1a"/>
<circle cx="399.77" cy="211.84" r="0.78" fill="#1a1a1a"/>
<circle cx="397.67" cy="210.85" r="0.78" fill="#1a1a1a"/>
<circle cx="410.66" cy="210.98" r="0.78" fill="#1a1a1a"/>
<circle cx="403.60" cy="207.19" r="0.78" fill="#1a1a1a"/>
<circle cx="403.02" cy="212.20" r="0.78" fill="#1a1a1a"/>
<circle cx="399.57" cy="207.84" r="0.78" fill="#1a1a1a"/>
<circle cx="404.65" cy="214.40" r="0.78" fill="#1a1a1a"/>
<circle cx="400.63" cy="207.78" r="0.78" fill="#1a1a1a"/>
<circle cx="399.31" cy="213.66" r="0.78" fill="#1a1a1a"/>
<circle cx="398.42" cy="211.61" r="0.78" fill="#1a1a1a"/>
<circle cx="406.86" cy="214.39" r="0.78" fill="#1a1a1a"/>
<circle cx="398.71" cy="211.43" r="0.78" fill="#1a1a1a"/>
<circle cx="403.93" cy="212.83" r="0.78" fill="#1a1a1a"/>
<circle cx="395.17" cy="211.40" r="0.78" fill="#1a1a1a"/>
<circle cx="396.56" cy="213.07" r="0.78" fill="#1a1a1a"/>
<circle cx="396.75" cy="211.33" r="0.78" fill="#1a1a1a"/>
<circle cx="398.11" cy="209.55" r="0.78" fill="#1a1a1a"/>
<circle cx="396.57" cy="214.50" r="0.78" fill="#1a1a1a"/>
<circle cx="402.81" cy="213.77" r="0.78" fill="#1a1a1a"/>
<circle cx="403.47" cy="214.40" r="0.78" fill="#1a1a1a"/>
<circle cx="398.02" cy="210.56" r="0.78" fill="#1a1a1a"/>
<circle cx="401.84" cy="214.79" r="0.78" fill="#1a1a1a"/>
<circle cx="404.12" cy="204.85" r="0.78" fill="#1a1a1a"/>
<circle cx="398.09" cy="211.07" r="0.78" fill="#1a1a1a"/>
<circle cx="402.53" cy="212.64" r="0.78" fill="#1a1a1a"/>
<circle cx="404.63" cy="213.20" r="0.78" fill="#1a1a1a"/>
<circle cx="405.79" cy="211.44" r="0.78" fill="#1a1a1a"/>
<circle cx="399.87" cy="212.78" r="0.78" fill="#1a1a1a"/>
<circle cx="406.37" cy="214.70" r="0.78" fill="#1a1a1a"/>
<circle cx="405.79" cy="212.71" r="0.78" fill="#1a1a1a"/>
<circle cx="408.19" cy="214.29" r="0.78" fill="#1a1a1a"/>
<circle cx="404.47" cy="204.06" r="0.78" fill="#1a1a1a"/>
<circle cx="411.37" cy="207.07" r="0.78" fill="#1a1a1a"/>
<circle cx="394.50" cy="212.05" r="0.78" fill="#1a1a1a"/>
<circle cx="404.31" cy="203.36" r="0.78" fill="#1a1a1a"/>
<circle cx="407.43" cy="209.51" r="0.78" fill="#1a1a1a"/>
<circle cx="409.85" cy="212.96" r="0.78" fill="#1a1a1a"/>
<circle cx="398.79" cy="214.43" r="0.78" fill="#1a1a1a"/>
<circle cx="403.16" cy="214.47" r="0.78" fill="#1a1a1a"/>
<circle cx="404.17" cy="214.56" r="0.78" fill="#1a1a1a"/>
<circle cx="410.51" cy="204.24" r="0.78" fill="#1a1a1a"/>
<circle cx="405.53" cy="212.06" r="0.78" fill="#1a1a1a"/>
<circle cx="402.88" cy="210.95" r="0.78" fill="#1a1a1a"/>
<circle cx="378.50" cy="24.70" r="0.78" fill="#1a1a1a"/>
<circle cx="381.10" cy="50.30" r="0.78" fill="#1a1a1a"/>
<circle cx="379.40" cy="82.60" r="0.78" fill="#1a1a1a"/>
<circle cx="373.00" cy="111.00" r="0.78" fill="#1a1a1a"/>
<circle cx="374.20" cy="122.50" r="0.78" fill="#1a1a1a"/>
<circle cx="373.00" cy="130.60" r="0.78" fill="#1a1a1a"/>
<circle cx="379.40" cy="115.20" r="0.78" fill="#1a1a1a"/>
<circle cx="385.80" cy="122.10" r="0.78" fill="#1a1a1a"/>
<circle cx="385.20" cy="126.00" r="0.78" fill="#1a1a1a"/>
<circle cx="382.30" cy="133.00" r="0.78" fill="#1a1a1a"/>
<circle cx="387.50" cy="133.60" r="0.78" fill="#1a1a1a"/>
<circle cx="395.00" cy="134.20" r="0.78" fill="#1a1a1a"/>
<circle cx="373.00" cy="131.30" r="0.78" fill="#1a1a1a"/>
<circle cx="381.70" cy="133.20" r="0.78" fill="#1a1a1a"/>
<circle cx="387.40" cy="133.70" r="0.78" fill="#1a1a1a"/>
<circle cx="394.70" cy="135.10" r="0.78" fill="#1a1a1a"/>
<circle cx="380.00" cy="141.40" r="0.78" fill="#1a1a1a"/>
<circle cx="382.60" cy="144.70" r="0.78" fill="#1a1a1a"/>
<circle cx="388.80" cy="148.50" r="0.78" fill="#1a1a1a"/>
<circle cx="395.10" cy="151.00" r="0.78" fill="#1a1a1a"/>
<circle cx="385.50" cy="152.30" r="0.78" fill="#1a1a1a"/>
<circle cx="375.00" cy="155.60" r="0.78" fill="#1a1a1a"/>
<circle cx="378.40" cy="155.60" r="0.78" fill="#1a1a1a"/>
<circle cx="381.30" cy="155.60" r="0.78" fill="#1a1a1a"/>
<circle cx="388.80" cy="156.00" r="0.78" fill="#1a1a1a"/>
<circle cx="393.90" cy="158.10" r="0.78" fill="#1a1a1a"/>
<circle cx="383.00" cy="161.00" r="0.78" fill="#1a1a1a"/>
<circle cx="387.60" cy="162.70" r="0.78" fill="#1a1a1a"/>
<circle cx="394.70" cy="161.50" r="0.78" fill="#1a1a1a"/>
<circle cx="367.50" cy="165.20" r="0.78" fill="#1a1a1a"/>
<circle cx="380.90" cy="164.80" r="0.78" fill="#1a1a1a"/>
<circle cx="384.20" cy="166.00" r="0.78" fill="#1a1a1a"/>
<circle cx="377.60" cy="168.60" r="0.78" fill="#1a1a1a"/>
<circle cx="416.20" cy="136.90" r="0.78" fill="#1a1a1a"/>
<circle cx="424.20" cy="137.40" r="0.78" fill="#1a1a1a"/>
<circle cx="410.00" cy="141.00" r="0.78" fill="#1a1a1a"/>
<circle cx="427.00" cy="148.20" r="0.78" fill="#1a1a1a"/>
<circle cx="373.50" cy="138.00" r="0.78" fill="#1a1a1a"/>
<circle cx="372.00" cy="144.00" r="0.78" fill="#1a1a1a"/>
<circle cx="374.00" cy="148.00" r="0.78" fill="#1a1a1a"/>
<circle cx="371.00" cy="150.00" r="0.78" fill="#1a1a1a"/>
<circle cx="376.00" cy="146.00" r="0.78" fill="#1a1a1a"/>
<circle cx="430.00" cy="140.00" r="0.78" fill="#1a1a1a"/>
<circle cx="432.00" cy="147.00" r="0.78" fill="#1a1a1a"/>
<circle cx="431.00" cy="150.00" r="0.78" fill="#1a1a1a"/>
<circle cx="420.00" cy="150.00" r="0.78" fill="#1a1a1a"/>
<circle cx="415.00" cy="152.00" r="0.78" fill="#1a1a1a"/>
<circle cx="305.50" cy="183.40" r="0.78" fill="#1a1a1a"/>
<circle cx="324.20" cy="170.00" r="0.78" fill="#1a1a1a"/>
<circle cx="333.20" cy="156.50" r="0.78" fill="#1a1a1a"/>
<circle cx="340.90" cy="158.00" r="0.78" fill="#1a1a1a"/>
<circle cx="343.70" cy="164.20" r="0.78" fill="#1a1a1a"/>
<circle cx="334.50" cy="180.00" r="0.78" fill="#1a1a1a"/>
<circle cx="353.70" cy="183.50" r="0.78" fill="#1a1a1a"/>
<circle cx="356.30" cy="186.50" r="0.78" fill="#1a1a1a"/>
<circle cx="355.70" cy="202.00" r="0.78" fill="#1a1a1a"/>
<circle cx="358.80" cy="156.20" r="0.78" fill="#1a1a1a"/>
<circle cx="359.10" cy="164.60" r="0.78" fill="#1a1a1a"/>
<circle cx="363.40" cy="166.20" r="0.78" fill="#1a1a1a"/>
<circle cx="367.10" cy="165.40" r="0.78" fill="#1a1a1a"/>
<circle cx="364.90" cy="156.20" r="0.78" fill="#1a1a1a"/>
<circle cx="369.10" cy="156.50" r="0.78" fill="#1a1a1a"/>
<circle cx="357.50" cy="178.50" r="0.78" fill="#1a1a1a"/>
<circle cx="359.40" cy="180.80" r="0.78" fill="#1a1a1a"/>
<circle cx="362.90" cy="189.70" r="0.78" fill="#1a1a1a"/>
<circle cx="366.00" cy="187.70" r="0.78" fill="#1a1a1a"/>
<circle cx="366.00" cy="197.00" r="0.78" fill="#1a1a1a"/>
<circle cx="369.10" cy="185.40" r="0.78" fill="#1a1a1a"/>
<circle cx="434.60" cy="158.20" r="0.78" fill="#1a1a1a"/>
<circle cx="439.00" cy="162.30" r="0.78" fill="#1a1a1a"/>
<circle cx="443.10" cy="159.00" r="0.78" fill="#1a1a1a"/>
<circle cx="444.40" cy="156.90" r="0.78" fill="#1a1a1a"/>
<circle cx="462.70" cy="156.90" r="0.78" fill="#1a1a1a"/>
<circle cx="464.00" cy="159.00" r="0.78" fill="#1a1a1a"/>
<circle cx="472.20" cy="158.20" r="0.78" fill="#1a1a1a"/>
<circle cx="475.40" cy="167.20" r="0.78" fill="#1a1a1a"/>
<circle cx="472.80" cy="170.90" r="0.78" fill="#1a1a1a"/>
<circle cx="450.90" cy="169.30" r="0.78" fill="#1a1a1a"/>
<circle cx="454.20" cy="171.70" r="0.78" fill="#1a1a1a"/>
<circle cx="482.00" cy="178.10" r="0.78" fill="#1a1a1a"/>
<circle cx="479.80" cy="181.40" r="0.78" fill="#1a1a1a"/>
<circle cx="459.10" cy="180.70" r="0.78" fill="#1a1a1a"/>
<circle cx="503.20" cy="183.00" r="0.78" fill="#1a1a1a"/>
<circle cx="458.30" cy="197.40" r="0.78" fill="#1a1a1a"/>
<circle cx="446.30" cy="191.20" r="0.78" fill="#1a1a1a"/>
<circle cx="444.40" cy="184.60" r="0.78" fill="#1a1a1a"/>
<circle cx="445.50" cy="176.10" r="0.78" fill="#1a1a1a"/>
<circle cx="439.50" cy="170.00" r="0.78" fill="#1a1a1a"/>
<circle cx="439.00" cy="170.90" r="0.78" fill="#1a1a1a"/>
<circle cx="434.90" cy="172.90" r="0.78" fill="#1a1a1a"/>
<circle cx="436.20" cy="175.80" r="0.78" fill="#1a1a1a"/>
<circle cx="434.60" cy="181.00" r="0.78" fill="#1a1a1a"/>
<circle cx="438.50" cy="180.70" r="0.78" fill="#1a1a1a"/>
<circle cx="440.60" cy="178.60" r="0.78" fill="#1a1a1a"/>
<circle cx="441.40" cy="187.90" r="0.78" fill="#1a1a1a"/>
<circle cx="434.60" cy="192.80" r="0.78" fill="#1a1a1a"/>
<circle cx="434.10" cy="196.60" r="0.78" fill="#1a1a1a"/>
<circle cx="439.80" cy="195.70" r="0.78" fill="#1a1a1a"/>
<circle cx="436.50" cy="198.70" r="0.78" fill="#1a1a1a"/>
<circle cx="434.90" cy="200.70" r="0.78" fill="#1a1a1a"/>
<circle cx="435.70" cy="201.50" r="0.78" fill="#1a1a1a"/>
<circle cx="441.40" cy="202.60" r="0.78" fill="#1a1a1a"/>
<circle cx="432.50" cy="205.20" r="0.78" fill="#1a1a1a"/>
<text x="69.1" y="30.45" font-size="5.3" font-weight="bold" fill="#ff0000" stroke="#ff0000" stroke-width="0.18" textLength="15.4" lengthAdjust="spacingAndGlyphs">Map4k2</text>
<text x="90.3" y="37.95" font-size="5.3" font-weight="bold" fill="#ff0000" stroke="#ff0000" stroke-width="0.18" textLength="8.7" lengthAdjust="spacingAndGlyphs">Abi1</text>
<text x="74.9" y="45.05" font-size="5.3" font-weight="bold" fill="#ff0000" stroke="#ff0000" stroke-width="0.18" textLength="8.7" lengthAdjust="spacingAndGlyphs">Tap1</text>
<text x="74.2" y="54.35" font-size="5.3" font-weight="bold" fill="#ff0000" stroke="#ff0000" stroke-width="0.18" textLength="13.2" lengthAdjust="spacingAndGlyphs">Pou2f2</text>
<text x="74.8" y="62.45" font-size="5.3" font-weight="bold" fill="#ff0000" stroke="#ff0000" stroke-width="0.18" textLength="12.1" lengthAdjust="spacingAndGlyphs">Casp1</text>
<text x="63.6" y="67.05" font-size="5.3" font-weight="bold" fill="#ff0000" stroke="#ff0000" stroke-width="0.18" textLength="12.7" lengthAdjust="spacingAndGlyphs">Cd79a</text>
<text x="61" y="73.15" font-size="5.3" font-weight="bold" fill="#ff0000" stroke="#ff0000" stroke-width="0.18" textLength="9.8" lengthAdjust="spacingAndGlyphs">Traf1</text>
<text x="76" y="73.15" font-size="5.3" font-weight="bold" fill="#ff0000" stroke="#ff0000" stroke-width="0.18" textLength="11.5" lengthAdjust="spacingAndGlyphs">Cd226</text>
<text x="93.8" y="72.35" font-size="5.3" font-weight="bold" fill="#ff0000" stroke="#ff0000" stroke-width="0.18" textLength="14.4" lengthAdjust="spacingAndGlyphs">Tnfsf10</text>
<text x="91" y="77.75" font-size="5.3" font-weight="bold" fill="#ff0000" stroke="#ff0000" stroke-width="0.18" textLength="4.0" lengthAdjust="spacingAndGlyphs">Mr1</text>
<text x="66" y="79.55" font-size="5.3" font-weight="bold" fill="#ff0000" stroke="#ff0000" stroke-width="0.18" textLength="10.0" lengthAdjust="spacingAndGlyphs">Cd40</text>
<text x="57" y="81.25" font-size="5.3" font-weight="bold" fill="#ff0000" stroke="#ff0000" stroke-width="0.18" textLength="7.8" lengthAdjust="spacingAndGlyphs">Icos</text>
<text x="84" y="81.75" font-size="5.3" font-weight="bold" fill="#ff0000" stroke="#ff0000" stroke-width="0.18" textLength="9.8" lengthAdjust="spacingAndGlyphs">Sdc2</text>
<text x="95" y="83.55" font-size="5.3" font-weight="bold" fill="#ff0000" stroke="#ff0000" stroke-width="0.18" textLength="12.0" lengthAdjust="spacingAndGlyphs">Socs3</text>
<text x="67.3" y="85.55" font-size="5.3" font-weight="bold" fill="#ff0000" stroke="#ff0000" stroke-width="0.18" textLength="11.5" lengthAdjust="spacingAndGlyphs">Casp8</text>
<text x="90.4" y="87.05" font-size="5.3" font-weight="bold" fill="#ff0000" stroke="#ff0000" stroke-width="0.18" textLength="9.8" lengthAdjust="spacingAndGlyphs">Dpp4</text>
<text x="76" y="88.15" font-size="5.3" font-weight="bold" fill="#ff0000" stroke="#ff0000" stroke-width="0.18" textLength="11.0" lengthAdjust="spacingAndGlyphs">Fcer1g</text>
<text x="59" y="88.15" font-size="5.3" font-weight="bold" fill="#ff0000" stroke="#ff0000" stroke-width="0.18" textLength="9.5" lengthAdjust="spacingAndGlyphs">Foxo4</text>
<text x="126.8" y="85.05" font-size="5.3" font-weight="bold" fill="#ff0000" stroke="#ff0000" stroke-width="0.18" textLength="14.2" lengthAdjust="spacingAndGlyphs">Kir3dl2</text>
<text x="101" y="88.15" font-size="5.3" font-weight="bold" fill="#ff0000" stroke="#ff0000" stroke-width="0.18" textLength="11.0" lengthAdjust="spacingAndGlyphs">Cxcr4</text>
<text x="55.2" y="91.65" font-size="5.3" font-weight="bold" fill="#ff0000" stroke="#ff0000" stroke-width="0.18" textLength="15.0" lengthAdjust="spacingAndGlyphs">Sh2d1a</text>
<text x="74.2" y="92.15" font-size="5.3" font-weight="bold" fill="#ff0000" stroke="#ff0000" stroke-width="0.18" textLength="11.0" lengthAdjust="spacingAndGlyphs">Gata3</text>
<text x="88" y="92.15" font-size="5.3" font-weight="bold" fill="#ff0000" stroke="#ff0000" stroke-width="0.18" textLength="7.5" lengthAdjust="spacingAndGlyphs">Itgb7</text>
<text x="99.6" y="91.75" font-size="5.3" font-weight="bold" fill="#ff0000" stroke="#ff0000" stroke-width="0.18" textLength="8.1" lengthAdjust="spacingAndGlyphs">Traf3</text>
<text x="105.8" y="95.05" font-size="5.3" font-weight="bold" fill="#ff0000" stroke="#ff0000" stroke-width="0.18" textLength="16.2" lengthAdjust="spacingAndGlyphs">H2-Oba</text>
<text x="49" y="94.55" font-size="5.3" font-weight="bold" fill="#ff0000" stroke="#ff0000" stroke-width="0.18" textLength="6.0" lengthAdjust="spacingAndGlyphs">Lta</text>
<text x="52.1" y="97.95" font-size="5.3" font-weight="bold" fill="#ff0000" stroke="#ff0000" stroke-width="0.18" textLength="15.0" lengthAdjust="spacingAndGlyphs">Tnfsf14</text>
<text x="96.5" y="97.95" font-size="5.3" font-weight="bold" fill="#ff0000" stroke="#ff0000" stroke-width="0.18" textLength="12.1" lengthAdjust="spacingAndGlyphs">Ppara</text>
<text x="44" y="100.85" font-size="5.3" font-weight="bold" fill="#ff0000" stroke="#ff0000" stroke-width="0.18" textLength="7.5" lengthAdjust="spacingAndGlyphs">Cd22</text>
<text x="74.6" y="101.45" font-size="5.3" font-weight="bold" fill="#ff0000" stroke="#ff0000" stroke-width="0.18" textLength="10.4" lengthAdjust="spacingAndGlyphs">Cd274</text>
<text x="102.3" y="101.45" font-size="5.3" font-weight="bold" fill="#ff0000" stroke="#ff0000" stroke-width="0.18" textLength="8.1" lengthAdjust="spacingAndGlyphs">Sgk1</text>
<text x="49.2" y="104.85" font-size="5.3" font-weight="bold" fill="#ff0000" stroke="#ff0000" stroke-width="0.18" textLength="8.1" lengthAdjust="spacingAndGlyphs">Ptak</text>
<text x="61.3" y="104.85" font-size="5.3" font-weight="bold" fill="#ff0000" stroke="#ff0000" stroke-width="0.18" textLength="12.1" lengthAdjust="spacingAndGlyphs">Mknk2</text>
<text x="94.8" y="104.65" font-size="5.3" font-weight="bold" fill="#ff0000" stroke="#ff0000" stroke-width="0.18" textLength="9.2" lengthAdjust="spacingAndGlyphs">Ccr5</text>
<text x="57.3" y="109.55" font-size="5.3" font-weight="bold" fill="#ff0000" stroke="#ff0000" stroke-width="0.18" textLength="18.5" lengthAdjust="spacingAndGlyphs">Tnfrsf9 pfa</text>
<text x="91" y="109.75" font-size="5.3" font-weight="bold" fill="#ff0000" stroke="#ff0000" stroke-width="0.18" textLength="9.0" lengthAdjust="spacingAndGlyphs">Cd28</text>
<text x="67.1" y="113.75" font-size="5.3" font-weight="bold" fill="#ff0000" stroke="#ff0000" stroke-width="0.18" textLength="7.5" lengthAdjust="spacingAndGlyphs">Il21r</text>
<text x="77" y="113.75" font-size="5.3" font-weight="bold" fill="#ff0000" stroke="#ff0000" stroke-width="0.18" textLength="8.5" lengthAdjust="spacingAndGlyphs">Irf4</text>
<text x="99.4" y="114.75" font-size="5.3" font-weight="bold" fill="#ff0000" stroke="#ff0000" stroke-width="0.18" textLength="19.0" lengthAdjust="spacingAndGlyphs">Tnfrsf13b</text>
<text x="49.8" y="115.45" font-size="5.3" font-weight="bold" fill="#ff0000" stroke="#ff0000" stroke-width="0.18" textLength="10.4" lengthAdjust="spacingAndGlyphs">Sigirr</text>
<text x="127.7" y="112.95" font-size="5.3" font-weight="bold" fill="#ff0000" stroke="#ff0000" stroke-width="0.18" textLength="9.8" lengthAdjust="spacingAndGlyphs">Il28a</text>
<text x="53.3" y="120.75" font-size="5.3" font-weight="bold" fill="#ff0000" stroke="#ff0000" stroke-width="0.18" textLength="13.8" lengthAdjust="spacingAndGlyphs">Psmb8</text>
<text x="73.4" y="122.55" font-size="5.3" font-weight="bold" fill="#ff0000" stroke="#ff0000" stroke-width="0.18" textLength="8.1" lengthAdjust="spacingAndGlyphs">Stat4</text>
<text x="73" y="125.25" font-size="5.3" font-weight="bold" fill="#ff0000" stroke="#ff0000" stroke-width="0.18" textLength="11.5" lengthAdjust="spacingAndGlyphs">Ikzf2</text>
<text x="94" y="122.25" font-size="5.3" font-weight="bold" fill="#ff0000" stroke="#ff0000" stroke-width="0.18" textLength="9.5" lengthAdjust="spacingAndGlyphs">Rorc</text>
<text x="93" y="128.85" font-size="5.3" font-weight="bold" fill="#ff0000" stroke="#ff0000" stroke-width="0.18" textLength="10.5" lengthAdjust="spacingAndGlyphs">Cd55</text>
<text x="48.7" y="128.95" font-size="5.3" font-weight="bold" fill="#ff0000" stroke="#ff0000" stroke-width="0.18" textLength="7.4" lengthAdjust="spacingAndGlyphs">Cd6</text>
<text x="60.8" y="131.85" font-size="5.3" font-weight="bold" fill="#ff0000" stroke="#ff0000" stroke-width="0.18" textLength="6.3" lengthAdjust="spacingAndGlyphs">Tnf</text>
<text x="68.6" y="135.55" font-size="5.3" font-weight="bold" fill="#ff0000" stroke="#ff0000" stroke-width="0.18" textLength="6.6" lengthAdjust="spacingAndGlyphs">Cd5</text>
<circle cx="83.80" cy="31.30" r="0.6" fill="#ff0000"/>
<circle cx="87.20" cy="37.50" r="0.6" fill="#ff0000"/>
<circle cx="74.40" cy="46.20" r="0.6" fill="#ff0000"/>
<circle cx="83.80" cy="56.40" r="0.6" fill="#ff0000"/>
<circle cx="86.00" cy="59.60" r="0.6" fill="#ff0000"/>
<circle cx="78.80" cy="64.50" r="0.6" fill="#ff0000"/>
<circle cx="82.00" cy="72.50" r="0.6" fill="#ff0000"/>
<circle cx="85.50" cy="75.00" r="0.6" fill="#ff0000"/>
<circle cx="89.00" cy="73.00" r="0.6" fill="#ff0000"/>
<circle cx="79.00" cy="77.00" r="0.6" fill="#ff0000"/>
<circle cx="82.00" cy="80.00" r="0.6" fill="#ff0000"/>
<circle cx="86.00" cy="82.50" r="0.6" fill="#ff0000"/>
<circle cx="84.00" cy="86.00" r="0.6" fill="#ff0000"/>
<circle cx="88.00" cy="90.00" r="0.6" fill="#ff0000"/>
<circle cx="80.00" cy="92.50" r="0.6" fill="#ff0000"/>
<circle cx="83.00" cy="95.50" r="0.6" fill="#ff0000"/>
<circle cx="87.00" cy="93.00" r="0.6" fill="#ff0000"/>
<circle cx="86.00" cy="99.00" r="0.6" fill="#ff0000"/>
<circle cx="84.00" cy="103.00" r="0.6" fill="#ff0000"/>
<circle cx="89.00" cy="101.00" r="0.6" fill="#ff0000"/>
<circle cx="85.00" cy="108.00" r="0.6" fill="#ff0000"/>
<circle cx="88.00" cy="112.00" r="0.6" fill="#ff0000"/>
<circle cx="82.00" cy="114.00" r="0.6" fill="#ff0000"/>
<circle cx="86.00" cy="117.00" r="0.6" fill="#ff0000"/>
<circle cx="90.00" cy="115.00" r="0.6" fill="#ff0000"/>
<circle cx="88.00" cy="120.00" r="0.6" fill="#ff0000"/>
<circle cx="70.00" cy="126.00" r="0.6" fill="#ff0000"/>
<circle cx="75.00" cy="128.00" r="0.6" fill="#ff0000"/>
<circle cx="72.00" cy="124.00" r="0.6" fill="#ff0000"/>
<circle cx="80.00" cy="123.00" r="0.6" fill="#ff0000"/>
<circle cx="92.00" cy="108.00" r="0.6" fill="#ff0000"/>
<circle cx="126.50" cy="86.10" r="0.6" fill="#ff0000"/>
<circle cx="126.00" cy="112.00" r="0.6" fill="#ff0000"/>
<line x1="70" y1="80" x2="83" y2="87" stroke="#ff0000" stroke-width="0.35" opacity="0.8"/>
<line x1="69" y1="90.5" x2="84" y2="94" stroke="#ff0000" stroke-width="0.35" opacity="0.8"/>
<line x1="67" y1="96" x2="86" y2="100" stroke="#ff0000" stroke-width="0.35" opacity="0.8"/>
<line x1="57" y1="104" x2="85" y2="104.5" stroke="#ff0000" stroke-width="0.35" opacity="0.8"/>
<line x1="60" y1="114" x2="85" y2="116" stroke="#ff0000" stroke-width="0.35" opacity="0.8"/>
<line x1="67" y1="120" x2="86" y2="121" stroke="#ff0000" stroke-width="0.35" opacity="0.8"/>
<line x1="56" y1="128" x2="72" y2="124" stroke="#ff0000" stroke-width="0.35" opacity="0.8"/>
<line x1="64" y1="130" x2="73" y2="125.5" stroke="#ff0000" stroke-width="0.35" opacity="0.8"/>
<line x1="72" y1="133" x2="78" y2="127" stroke="#ff0000" stroke-width="0.35" opacity="0.8"/>
<line x1="88" y1="72" x2="93" y2="70" stroke="#ff0000" stroke-width="0.35" opacity="0.8"/>
<line x1="85" y1="87" x2="91" y2="85" stroke="#ff0000" stroke-width="0.35" opacity="0.8"/>
<line x1="88" y1="91" x2="98" y2="92" stroke="#ff0000" stroke-width="0.35" opacity="0.8"/>
<line x1="86" y1="95" x2="105" y2="93.5" stroke="#ff0000" stroke-width="0.35" opacity="0.8"/>
<line x1="87" y1="98" x2="97" y2="97" stroke="#ff0000" stroke-width="0.35" opacity="0.8"/>
<line x1="88" y1="103" x2="102" y2="100" stroke="#ff0000" stroke-width="0.35" opacity="0.8"/>
<line x1="70" y1="73" x2="84" y2="86" stroke="#ff0000" stroke-width="0.35" opacity="0.8"/>
<line x1="75" y1="78" x2="85" y2="90" stroke="#ff0000" stroke-width="0.35" opacity="0.8"/>
<text x="342.9" y="77.85" font-size="5.3" font-weight="bold" fill="#ff0000" stroke="#ff0000" stroke-width="0.18" textLength="15.5" lengthAdjust="spacingAndGlyphs">Map4k2</text>
<text x="355.6" y="86.25" font-size="5.3" font-weight="bold" fill="#ff0000" stroke="#ff0000" stroke-width="0.18" textLength="16.4" lengthAdjust="spacingAndGlyphs">Tnfrsf14</text>
<text x="350.1" y="97.75" font-size="5.3" font-weight="bold" fill="#ff0000" stroke="#ff0000" stroke-width="0.18" textLength="10.7" lengthAdjust="spacingAndGlyphs">Ikbke</text>
<text x="359" y="101.75" font-size="5.3" font-weight="bold" fill="#ff0000" stroke="#ff0000" stroke-width="0.18" textLength="9.8" lengthAdjust="spacingAndGlyphs">Cd27</text>
<text x="367.9" y="106.65" font-size="5.3" font-weight="bold" fill="#ff0000" stroke="#ff0000" stroke-width="0.18" textLength="7.5" lengthAdjust="spacingAndGlyphs">Cd6</text>
<text x="343" y="110.65" font-size="5.3" font-weight="bold" fill="#ff0000" stroke="#ff0000" stroke-width="0.18" textLength="14.0" lengthAdjust="spacingAndGlyphs">Ikbkap</text>
<text x="362" y="111.25" font-size="5.3" font-weight="bold" fill="#ff0000" stroke="#ff0000" stroke-width="0.18" textLength="10.0" lengthAdjust="spacingAndGlyphs">Cd3g</text>
<text x="355.2" y="115.25" font-size="5.3" font-weight="bold" fill="#ff0000" stroke="#ff0000" stroke-width="0.18" textLength="8.0" lengthAdjust="spacingAndGlyphs">Cd5</text>
<text x="374.8" y="112.55" font-size="5.3" font-weight="bold" fill="#ff0000" stroke="#ff0000" stroke-width="0.18" textLength="12.7" lengthAdjust="spacingAndGlyphs">Stat5a</text>
<text x="344.2" y="119.85" font-size="5.3" font-weight="bold" fill="#ff0000" stroke="#ff0000" stroke-width="0.18" textLength="9.2" lengthAdjust="spacingAndGlyphs">Jak3</text>
<text x="362.7" y="121.05" font-size="5.3" font-weight="bold" fill="#ff0000" stroke="#ff0000" stroke-width="0.18" textLength="17.3" lengthAdjust="spacingAndGlyphs">Tnfrsf4</text>
<text x="349.4" y="124.55" font-size="5.3" font-weight="bold" fill="#ff0000" stroke="#ff0000" stroke-width="0.18" textLength="11.6" lengthAdjust="spacingAndGlyphs">Cd79a</text>
<text x="376" y="125.55" font-size="5.3" font-weight="bold" fill="#ff0000" stroke="#ff0000" stroke-width="0.18" textLength="8.0" lengthAdjust="spacingAndGlyphs">Lef1</text>
<text x="358" y="127.95" font-size="5.3" font-weight="bold" fill="#ff0000" stroke="#ff0000" stroke-width="0.18" textLength="12.8" lengthAdjust="spacingAndGlyphs">Nfatc1</text>
<text x="340.2" y="130.25" font-size="5.3" font-weight="bold" fill="#ff0000" stroke="#ff0000" stroke-width="0.18" textLength="9.2" lengthAdjust="spacingAndGlyphs">Rag1</text>
<text x="374.8" y="131.65" font-size="5.3" font-weight="bold" fill="#ff0000" stroke="#ff0000" stroke-width="0.18" textLength="12.1" lengthAdjust="spacingAndGlyphs">Foxp3</text>
<text x="351" y="134.35" font-size="5.3" font-weight="bold" fill="#ff0000" stroke="#ff0000" stroke-width="0.18" textLength="12.2" lengthAdjust="spacingAndGlyphs">Nfkbia</text>
<text x="363.8" y="136.05" font-size="5.3" font-weight="bold" fill="#ff0000" stroke="#ff0000" stroke-width="0.18" textLength="9.2" lengthAdjust="spacingAndGlyphs">Hcst</text>
<text x="359.2" y="139.55" font-size="5.3" font-weight="bold" fill="#ff0000" stroke="#ff0000" stroke-width="0.18" textLength="6.9" lengthAdjust="spacingAndGlyphs">Tlr1</text>
<text x="337.9" y="141.25" font-size="5.3" font-weight="bold" fill="#ff0000" stroke="#ff0000" stroke-width="0.18" textLength="10.4" lengthAdjust="spacingAndGlyphs">Il17rb</text>
<text x="373.8" y="140.55" font-size="5.3" font-weight="bold" fill="#ff0000" stroke="#ff0000" stroke-width="0.18" textLength="13.1" lengthAdjust="spacingAndGlyphs">Nfatc2</text>
<text x="374.2" y="150.55" font-size="5.3" font-weight="bold" fill="#ff0000" stroke="#ff0000" stroke-width="0.18" textLength="11.3" lengthAdjust="spacingAndGlyphs">Ikbkb</text>
<text x="373.8" y="155.55" font-size="5.3" font-weight="bold" fill="#ff0000" stroke="#ff0000" stroke-width="0.18" textLength="9.6" lengthAdjust="spacingAndGlyphs">Cd247</text>
<text x="352.9" y="144.45" font-size="5.3" font-weight="bold" fill="#ff0000" stroke="#ff0000" stroke-width="0.18" textLength="6.9" lengthAdjust="spacingAndGlyphs">Tap1</text>
<text x="364.4" y="146.15" font-size="5.3" font-weight="bold" fill="#ff0000" stroke="#ff0000" stroke-width="0.18" textLength="7.5" lengthAdjust="spacingAndGlyphs">Ccl2</text>
<text x="354.6" y="149.65" font-size="5.3" font-weight="bold" fill="#ff0000" stroke="#ff0000" stroke-width="0.18" textLength="9.2" lengthAdjust="spacingAndGlyphs">Ikzf4</text>
<text x="333.8" y="152.55" font-size="5.3" font-weight="bold" fill="#ff0000" stroke="#ff0000" stroke-width="0.18" textLength="15.0" lengthAdjust="spacingAndGlyphs">Mapk11</text>
<text x="351.1" y="162.85" font-size="5.3" font-weight="bold" fill="#ff0000" stroke="#ff0000" stroke-width="0.18" textLength="12.7" lengthAdjust="spacingAndGlyphs">Runx3</text>
<text x="435.6" y="119.85" font-size="5.3" font-weight="bold" fill="#ff0000" stroke="#ff0000" stroke-width="0.18" textLength="6.3" lengthAdjust="spacingAndGlyphs">Il7r</text>
<text x="425.8" y="127.35" font-size="5.3" font-weight="bold" fill="#ff0000" stroke="#ff0000" stroke-width="0.18" textLength="9.2" lengthAdjust="spacingAndGlyphs">Lilrb4</text>
<text x="444.2" y="128.55" font-size="5.3" font-weight="bold" fill="#ff0000" stroke="#ff0000" stroke-width="0.18" textLength="12.1" lengthAdjust="spacingAndGlyphs">Cxcr2</text>
<text x="459.8" y="126.25" font-size="5.3" font-weight="bold" fill="#ff0000" stroke="#ff0000" stroke-width="0.18" textLength="13.8" lengthAdjust="spacingAndGlyphs">Cxcl13</text>
<text x="470.7" y="134.35" font-size="5.3" font-weight="bold" fill="#ff0000" stroke="#ff0000" stroke-width="0.18" textLength="7.0" lengthAdjust="spacingAndGlyphs">Tlr5</text>
<text x="443.3" y="136.65" font-size="5.3" font-weight="bold" fill="#ff0000" stroke="#ff0000" stroke-width="0.18" textLength="8.4" lengthAdjust="spacingAndGlyphs">Ccl9</text>
<text x="427" y="144.75" font-size="5.3" font-weight="bold" fill="#ff0000" stroke="#ff0000" stroke-width="0.18" textLength="13.3" lengthAdjust="spacingAndGlyphs">Cebpb</text>
<text x="447.2" y="147.55" font-size="5.3" font-weight="bold" fill="#ff0000" stroke="#ff0000" stroke-width="0.18" textLength="12.8" lengthAdjust="spacingAndGlyphs">Cebpa</text>
<text x="455" y="154.25" font-size="5.3" font-weight="bold" fill="#ff0000" stroke="#ff0000" stroke-width="0.18" textLength="6.2" lengthAdjust="spacingAndGlyphs">Kit</text>
<text x="441.2" y="154.55" font-size="5.3" font-weight="bold" fill="#ff0000" stroke="#ff0000" stroke-width="0.18" textLength="7.6" lengthAdjust="spacingAndGlyphs">Ccl6</text>
<text x="428" y="155.25" font-size="5.3" font-weight="bold" fill="#ff0000" stroke="#ff0000" stroke-width="0.18" textLength="11.6" lengthAdjust="spacingAndGlyphs">Ifngr2</text>
<text x="496.5" y="114.05" font-size="5.3" font-weight="bold" fill="#ff0000" stroke="#ff0000" stroke-width="0.18" textLength="14.3" lengthAdjust="spacingAndGlyphs">S100a9</text>
<circle cx="359.60" cy="77.90" r="0.6" fill="#ff0000"/>
<circle cx="357.60" cy="87.10" r="0.6" fill="#ff0000"/>
<circle cx="356.40" cy="99.20" r="0.6" fill="#ff0000"/>
<circle cx="365.40" cy="103.60" r="0.6" fill="#ff0000"/>
<circle cx="359.00" cy="106.00" r="0.6" fill="#ff0000"/>
<circle cx="364.00" cy="110.00" r="0.6" fill="#ff0000"/>
<circle cx="360.00" cy="114.50" r="0.6" fill="#ff0000"/>
<circle cx="362.00" cy="119.00" r="0.6" fill="#ff0000"/>
<circle cx="357.00" cy="123.00" r="0.6" fill="#ff0000"/>
<circle cx="366.00" cy="122.00" r="0.6" fill="#ff0000"/>
<circle cx="361.00" cy="127.00" r="0.6" fill="#ff0000"/>
<circle cx="363.00" cy="131.00" r="0.6" fill="#ff0000"/>
<circle cx="368.00" cy="134.00" r="0.6" fill="#ff0000"/>
<circle cx="356.00" cy="138.00" r="0.6" fill="#ff0000"/>
<circle cx="363.00" cy="140.00" r="0.6" fill="#ff0000"/>
<circle cx="360.00" cy="144.00" r="0.6" fill="#ff0000"/>
<circle cx="366.00" cy="146.00" r="0.6" fill="#ff0000"/>
<circle cx="356.00" cy="150.00" r="0.6" fill="#ff0000"/>
<circle cx="361.00" cy="152.00" r="0.6" fill="#ff0000"/>
<circle cx="434.40" cy="120.50" r="0.6" fill="#ff0000"/>
<circle cx="433.50" cy="126.00" r="0.6" fill="#ff0000"/>
<circle cx="448.00" cy="125.00" r="0.6" fill="#ff0000"/>
<circle cx="467.30" cy="127.30" r="0.6" fill="#ff0000"/>
<circle cx="469.60" cy="129.40" r="0.6" fill="#ff0000"/>
<circle cx="442.50" cy="137.50" r="0.6" fill="#ff0000"/>
<circle cx="434.40" cy="146.00" r="0.6" fill="#ff0000"/>
<circle cx="452.00" cy="147.00" r="0.6" fill="#ff0000"/>
<circle cx="458.00" cy="149.00" r="0.6" fill="#ff0000"/>
<circle cx="449.00" cy="150.00" r="0.6" fill="#ff0000"/>
<circle cx="438.00" cy="150.00" r="0.6" fill="#ff0000"/>
<circle cx="498.20" cy="114.40" r="0.6" fill="#ff0000"/>
<circle cx="370.00" cy="150.00" r="0.6" fill="#ff0000"/>
<line x1="357" y1="110" x2="372" y2="112" stroke="#ff0000" stroke-width="0.35" opacity="0.8"/>
<line x1="349" y1="129" x2="360" y2="134" stroke="#ff0000" stroke-width="0.35" opacity="0.8"/>
<line x1="348" y1="151" x2="358" y2="150" stroke="#ff0000" stroke-width="0.35" opacity="0.8"/>
<line x1="358" y1="162" x2="365" y2="152" stroke="#ff0000" stroke-width="0.35" opacity="0.8"/>
<line x1="370" y1="120" x2="372" y2="126" stroke="#ff0000" stroke-width="0.35" opacity="0.8"/>
<line x1="365" y1="136" x2="373" y2="137" stroke="#ff0000" stroke-width="0.35" opacity="0.8"/>
<line x1="357" y1="108" x2="365" y2="106" stroke="#ff0000" stroke-width="0.35" opacity="0.8"/>
<line x1="89.10" y1="22" x2="89.10" y2="223.5" stroke="#555" stroke-width="1" stroke-dasharray="3.3,3.2"/>
<line x1="124.90" y1="22" x2="124.90" y2="223.5" stroke="#555" stroke-width="1" stroke-dasharray="3.3,3.2"/>
<line x1="38" y1="123.62" x2="257.5" y2="123.62" stroke="#555" stroke-width="1" stroke-dasharray="3.3,3.2"/>
<line x1="37.8" y1="22" x2="37.8" y2="224.0" stroke="#474747" stroke-width="1.4"/>
<line x1="37.5" y1="223.5" x2="257.5" y2="223.5" stroke="#474747" stroke-width="1.2"/>
<line x1="50.00" y1="223.5" x2="50.00" y2="226.1" stroke="#474747" stroke-width="1"/>
<text x="50.00" y="236.6" font-size="7.9" fill="#333" text-anchor="middle" font-weight="normal" font-style="normal" stroke="#333" stroke-width="0.12" >−1</text>
<line x1="107.00" y1="223.5" x2="107.00" y2="226.1" stroke="#474747" stroke-width="1"/>
<text x="107.00" y="236.6" font-size="7.9" fill="#333" text-anchor="middle" font-weight="normal" font-style="normal" stroke="#333" stroke-width="0.12" >0</text>
<line x1="164.00" y1="223.5" x2="164.00" y2="226.1" stroke="#474747" stroke-width="1"/>
<text x="164.00" y="236.6" font-size="7.9" fill="#333" text-anchor="middle" font-weight="normal" font-style="normal" stroke="#333" stroke-width="0.12" >1</text>
<line x1="221.00" y1="223.5" x2="221.00" y2="226.1" stroke="#474747" stroke-width="1"/>
<text x="221.00" y="236.6" font-size="7.9" fill="#333" text-anchor="middle" font-weight="normal" font-style="normal" stroke="#333" stroke-width="0.12" >2</text>
<line x1="35.4" y1="214.30" x2="38" y2="214.30" stroke="#474747" stroke-width="1"/>
<text x="32.3" y="217.10" font-size="7.9" fill="#333" text-anchor="end" font-weight="normal" font-style="normal" stroke="#333" stroke-width="0.12" >0</text>
<line x1="35.4" y1="144.60" x2="38" y2="144.60" stroke="#474747" stroke-width="1"/>
<text x="32.3" y="147.40" font-size="7.9" fill="#333" text-anchor="end" font-weight="normal" font-style="normal" stroke="#333" stroke-width="0.12" >1</text>
<line x1="35.4" y1="74.90" x2="38" y2="74.90" stroke="#474747" stroke-width="1"/>
<text x="32.3" y="77.70" font-size="7.9" fill="#333" text-anchor="end" font-weight="normal" font-style="normal" stroke="#333" stroke-width="0.12" >2</text>
<line x1="373.65" y1="15.4" x2="373.65" y2="223.7" stroke="#555" stroke-width="1" stroke-dasharray="3.3,3.2"/>
<line x1="430.35" y1="15.4" x2="430.35" y2="223.7" stroke="#555" stroke-width="1" stroke-dasharray="3.3,3.2"/>
<line x1="296" y1="152.09" x2="513" y2="152.09" stroke="#555" stroke-width="1" stroke-dasharray="3.3,3.2"/>
<line x1="295.8" y1="15.4" x2="295.8" y2="224.2" stroke="#474747" stroke-width="1.4"/>
<line x1="295.5" y1="223.7" x2="513" y2="223.7" stroke="#474747" stroke-width="1.2"/>
<line x1="311.70" y1="223.7" x2="311.70" y2="226.29999999999998" stroke="#474747" stroke-width="1"/>
<text x="311.70" y="236.6" font-size="7.9" fill="#333" text-anchor="middle" font-weight="normal" font-style="normal" stroke="#333" stroke-width="0.12" >−1.0</text>
<line x1="356.85" y1="223.7" x2="356.85" y2="226.29999999999998" stroke="#474747" stroke-width="1"/>
<text x="356.85" y="236.6" font-size="7.9" fill="#333" text-anchor="middle" font-weight="normal" font-style="normal" stroke="#333" stroke-width="0.12" >−0.5</text>
<line x1="402.00" y1="223.7" x2="402.00" y2="226.29999999999998" stroke="#474747" stroke-width="1"/>
<text x="402.00" y="236.6" font-size="7.9" fill="#333" text-anchor="middle" font-weight="normal" font-style="normal" stroke="#333" stroke-width="0.12" >0.0</text>
<line x1="447.15" y1="223.7" x2="447.15" y2="226.29999999999998" stroke="#474747" stroke-width="1"/>
<text x="447.15" y="236.6" font-size="7.9" fill="#333" text-anchor="middle" font-weight="normal" font-style="normal" stroke="#333" stroke-width="0.12" >0.5</text>
<line x1="492.30" y1="223.7" x2="492.30" y2="226.29999999999998" stroke="#474747" stroke-width="1"/>
<text x="492.30" y="236.6" font-size="7.9" fill="#333" text-anchor="middle" font-weight="normal" font-style="normal" stroke="#333" stroke-width="0.12" >1.0</text>
<line x1="293.4" y1="214.80" x2="296" y2="214.80" stroke="#474747" stroke-width="1"/>
<text x="290.4" y="217.60" font-size="7.9" fill="#333" text-anchor="end" font-weight="normal" font-style="normal" stroke="#333" stroke-width="0.12" >0</text>
<line x1="293.4" y1="166.60" x2="296" y2="166.60" stroke="#474747" stroke-width="1"/>
<text x="290.4" y="169.40" font-size="7.9" fill="#333" text-anchor="end" font-weight="normal" font-style="normal" stroke="#333" stroke-width="0.12" >1</text>
<line x1="293.4" y1="118.40" x2="296" y2="118.40" stroke="#474747" stroke-width="1"/>
<text x="290.4" y="121.20" font-size="7.9" fill="#333" text-anchor="end" font-weight="normal" font-style="normal" stroke="#333" stroke-width="0.12" >2</text>
<line x1="293.4" y1="70.20" x2="296" y2="70.20" stroke="#474747" stroke-width="1"/>
<text x="290.4" y="73.00" font-size="7.9" fill="#333" text-anchor="end" font-weight="normal" font-style="normal" stroke="#333" stroke-width="0.12" >3</text>
<line x1="293.4" y1="22.00" x2="296" y2="22.00" stroke="#474747" stroke-width="1"/>
<text x="290.4" y="24.80" font-size="7.9" fill="#333" text-anchor="end" font-weight="normal" font-style="normal" stroke="#333" stroke-width="0.12" >4</text>
<text x="147.8" y="248.9" font-size="8.8" fill="#222" text-anchor="middle" font-weight="normal" font-style="normal" textLength="48.6" lengthAdjust="spacingAndGlyphs" stroke="#222" stroke-width="0.22" >Log2 fold change</text>
<text x="404.5" y="248.9" font-size="8.8" fill="#222" text-anchor="middle" font-weight="normal" font-style="normal" textLength="48.6" lengthAdjust="spacingAndGlyphs" stroke="#222" stroke-width="0.22" >Log2 fold change</text>
<text transform="translate(22.9,123) rotate(-90)" x="0" y="0" font-size="8.6" fill="#222" text-anchor="middle" font-weight="normal" textLength="45" lengthAdjust="spacingAndGlyphs" stroke="#222" stroke-width="0.2">−Log10 p-value</text>
<text transform="translate(281.8,119.2) rotate(-90)" x="0" y="0" font-size="8.4" fill="#222" text-anchor="middle" font-weight="normal" textLength="44" lengthAdjust="spacingAndGlyphs" stroke="#222" stroke-width="0.2">−Log10 p-value</text>
<text x="214.8" y="122.4" font-size="7.2" fill="#444" text-anchor="start" font-weight="normal" font-style="italic" textLength="28" lengthAdjust="spacingAndGlyphs" stroke="#444" stroke-width="0.1" >α = 0.05</text>
<text x="487.2" y="149.4" font-size="7.2" fill="#444" text-anchor="start" font-weight="normal" font-style="italic" textLength="27.8" lengthAdjust="spacingAndGlyphs" stroke="#444" stroke-width="0.1" >α = 0.05</text>
<text x="174.6" y="42.8" font-size="7.1" fill="#222" text-anchor="start" font-weight="normal" font-style="normal" textLength="21.6" lengthAdjust="spacingAndGlyphs" stroke="#222" stroke-width="0.14" >Spleen</text>
<text x="463.3" y="44.1" font-size="7.8" fill="#222" text-anchor="start" font-weight="normal" font-style="normal" textLength="15.0" lengthAdjust="spacingAndGlyphs" stroke="#222" stroke-width="0.14" >MLN</text>
<rect x="41.00" y="288.00" width="8.31" height="28.47" fill="#f7a188"/>
<rect x="41.00" y="288.00" width="1.08" height="28.47" fill="#f6886b"/>
<rect x="41.88" y="288.00" width="1.08" height="28.47" fill="#f58568"/>
<rect x="42.77" y="288.00" width="1.08" height="28.47" fill="#f8b39f"/>
<rect x="44.54" y="288.00" width="1.08" height="28.47" fill="#f8ae99"/>
<rect x="48.96" y="288.00" width="2.34" height="28.47" fill="#f46a4a"/>
<rect x="50.94" y="288.00" width="1.34" height="28.47" fill="#f3e9ec"/>
<rect x="51.94" y="288.00" width="3.33" height="28.47" fill="#8f6bbb"/>
<rect x="51.94" y="288.00" width="1.19" height="28.47" fill="#7d5ab2"/>
<rect x="53.93" y="288.00" width="1.19" height="28.47" fill="#a081c5"/>
<rect x="54.92" y="288.00" width="3.33" height="28.47" fill="#b7a0d2"/>
<rect x="54.92" y="288.00" width="1.19" height="28.47" fill="#a588c8"/>
<rect x="55.92" y="288.00" width="1.19" height="28.47" fill="#9f80c4"/>
<rect x="57.90" y="288.00" width="2.34" height="28.47" fill="#8f6bbb"/>
<rect x="59.89" y="288.00" width="2.34" height="28.47" fill="#f3e9ec"/>
<rect x="61.88" y="288.00" width="3.33" height="28.47" fill="#b7a0d2"/>
<rect x="61.88" y="288.00" width="1.19" height="28.47" fill="#cbb9dd"/>
<rect x="64.87" y="288.00" width="2.34" height="28.47" fill="#f9cbbc"/>
<rect x="64.87" y="288.00" width="1.19" height="28.47" fill="#f8b39e"/>
<rect x="66.85" y="288.00" width="3.33" height="28.47" fill="#f46a4a"/>
<rect x="66.85" y="288.00" width="1.19" height="28.47" fill="#f3573c"/>
<rect x="68.84" y="288.00" width="1.19" height="28.47" fill="#f58467"/>
<rect x="69.84" y="288.00" width="3.33" height="28.47" fill="#f7a188"/>
<rect x="69.84" y="288.00" width="1.19" height="28.47" fill="#f68c70"/>
<rect x="70.83" y="288.00" width="1.19" height="28.47" fill="#f8ae99"/>
<rect x="72.82" y="288.00" width="3.33" height="28.47" fill="#f9cbbc"/>
<rect x="72.82" y="288.00" width="1.19" height="28.47" fill="#f8baa7"/>
<rect x="75.80" y="288.00" width="2.34" height="28.47" fill="#b7a0d2"/>
<rect x="75.80" y="288.00" width="1.19" height="28.47" fill="#a082c5"/>
<rect x="76.80" y="288.00" width="1.19" height="28.47" fill="#c7b4db"/>
<rect x="77.79" y="288.00" width="2.34" height="28.47" fill="#8f6bbb"/>
<rect x="77.79" y="288.00" width="1.19" height="28.47" fill="#9b7ac2"/>
<rect x="78.79" y="288.00" width="1.19" height="28.47" fill="#9f80c4"/>
<rect x="79.78" y="288.00" width="2.34" height="28.47" fill="#f3e9ec"/>
<rect x="81.77" y="288.00" width="2.34" height="28.47" fill="#b7a0d2"/>
<rect x="81.77" y="288.00" width="1.19" height="28.47" fill="#a284c6"/>
<rect x="83.76" y="288.00" width="1.34" height="28.47" fill="#f9cbbc"/>
<rect x="84.75" y="288.00" width="7.31" height="28.47" fill="#8f6bbb"/>
<rect x="84.75" y="288.00" width="1.07" height="28.47" fill="#8360b5"/>
<rect x="85.62" y="288.00" width="1.07" height="28.47" fill="#8662b6"/>
<rect x="87.36" y="288.00" width="1.07" height="28.47" fill="#815db4"/>
<rect x="89.10" y="288.00" width="1.07" height="28.47" fill="#7b58b1"/>
<rect x="90.84" y="288.00" width="1.07" height="28.47" fill="#a689c8"/>
<rect x="91.71" y="288.00" width="2.34" height="28.47" fill="#f3e9ec"/>
<rect x="92.71" y="288.00" width="1.19" height="28.47" fill="#eadfea"/>
<rect x="93.70" y="288.00" width="4.33" height="28.47" fill="#f9cbbc"/>
<rect x="94.70" y="288.00" width="1.19" height="28.47" fill="#f7d4ca"/>
<rect x="96.69" y="288.00" width="1.19" height="28.47" fill="#f8bba8"/>
<rect x="97.68" y="288.00" width="3.33" height="28.47" fill="#f3e9ec"/>
<rect x="97.68" y="288.00" width="1.19" height="28.47" fill="#f6d8d1"/>
<rect x="98.67" y="288.00" width="1.19" height="28.47" fill="#ece1ea"/>
<rect x="99.67" y="288.00" width="1.19" height="28.47" fill="#e5d9e8"/>
<rect x="100.66" y="288.00" width="7.31" height="28.47" fill="#f7a188"/>
<rect x="102.40" y="288.00" width="1.07" height="28.47" fill="#f8b29c"/>
<rect x="105.01" y="288.00" width="1.07" height="28.47" fill="#f8ae99"/>
<rect x="105.88" y="288.00" width="1.07" height="28.47" fill="#f68d71"/>
<rect x="107.62" y="288.00" width="14.27" height="28.47" fill="#f46a4a"/>
<rect x="109.48" y="288.00" width="1.13" height="28.47" fill="#f34a32"/>
<rect x="110.41" y="288.00" width="1.13" height="28.47" fill="#f6866a"/>
<rect x="112.26" y="288.00" width="1.13" height="28.47" fill="#f58468"/>
<rect x="113.19" y="288.00" width="1.13" height="28.47" fill="#f35b3e"/>
<rect x="114.12" y="288.00" width="1.13" height="28.47" fill="#f35036"/>
<rect x="116.90" y="288.00" width="1.13" height="28.47" fill="#f58164"/>
<rect x="121.54" y="288.00" width="2.34" height="28.47" fill="#f9cbbc"/>
<rect x="122.54" y="288.00" width="1.19" height="28.47" fill="#f8b29d"/>
<rect x="123.53" y="288.00" width="3.33" height="28.47" fill="#f46a4a"/>
<rect x="124.53" y="288.00" width="1.19" height="28.47" fill="#f3462f"/>
<rect x="125.52" y="288.00" width="1.19" height="28.47" fill="#f68a6f"/>
<rect x="126.52" y="288.00" width="3.33" height="28.47" fill="#f9cbbc"/>
<rect x="129.50" y="288.00" width="3.30" height="28.47" fill="#f9cbbc"/>
<rect x="129.50" y="288.00" width="1.18" height="28.47" fill="#f8b29d"/>
<rect x="131.47" y="288.00" width="1.18" height="28.47" fill="#f8bdaa"/>
<rect x="132.45" y="288.00" width="2.32" height="28.47" fill="#f3e9ec"/>
<rect x="132.45" y="288.00" width="1.18" height="28.47" fill="#f6d8d1"/>
<rect x="134.42" y="288.00" width="2.32" height="28.47" fill="#f9cbbc"/>
<rect x="135.40" y="288.00" width="1.18" height="28.47" fill="#f8bba8"/>
<rect x="136.38" y="288.00" width="1.33" height="28.47" fill="#f3e9ec"/>
<rect x="137.37" y="288.00" width="3.30" height="28.47" fill="#f9cbbc"/>
<rect x="137.37" y="288.00" width="1.18" height="28.47" fill="#f6d9d2"/>
<rect x="139.33" y="288.00" width="1.18" height="28.47" fill="#f6d9d2"/>
<rect x="140.32" y="288.00" width="5.27" height="28.47" fill="#f46a4a"/>
<rect x="145.23" y="288.00" width="2.32" height="28.47" fill="#f46a4a"/>
<rect x="147.20" y="288.00" width="4.28" height="28.47" fill="#f22d1c"/>
<rect x="147.20" y="288.00" width="1.18" height="28.47" fill="#f33e29"/>
<rect x="149.17" y="288.00" width="1.18" height="28.47" fill="#f34a32"/>
<rect x="151.13" y="288.00" width="3.30" height="28.47" fill="#f46a4a"/>
<rect x="151.13" y="288.00" width="1.18" height="28.47" fill="#f3583c"/>
<rect x="153.10" y="288.00" width="1.18" height="28.47" fill="#f35339"/>
<rect x="154.08" y="288.00" width="2.32" height="28.47" fill="#f9cbbc"/>
<rect x="154.08" y="288.00" width="1.18" height="28.47" fill="#f7d4cb"/>
<rect x="155.07" y="288.00" width="1.18" height="28.47" fill="#f7d5cc"/>
<rect x="156.05" y="288.00" width="3.30" height="28.47" fill="#f46a4a"/>
<rect x="156.05" y="288.00" width="1.18" height="28.47" fill="#f57b5d"/>
<rect x="157.03" y="288.00" width="1.18" height="28.47" fill="#f5795b"/>
<rect x="159.00" y="288.00" width="2.32" height="28.47" fill="#f9cbbc"/>
<rect x="159.98" y="288.00" width="1.18" height="28.47" fill="#f6d9d3"/>
<rect x="160.97" y="288.00" width="5.27" height="28.47" fill="#f46a4a"/>
<rect x="161.95" y="288.00" width="1.18" height="28.47" fill="#f34b33"/>
<rect x="163.92" y="288.00" width="1.18" height="28.47" fill="#f35a3e"/>
<rect x="165.88" y="288.00" width="4.28" height="28.47" fill="#f7a188"/>
<rect x="165.88" y="288.00" width="1.18" height="28.47" fill="#f8b8a5"/>
<rect x="169.82" y="288.00" width="3.30" height="28.47" fill="#f7a188"/>
<rect x="170.80" y="288.00" width="1.18" height="28.47" fill="#f58265"/>
<rect x="172.77" y="288.00" width="1.33" height="28.47" fill="#f9cbbc"/>
<rect x="173.75" y="288.00" width="2.32" height="28.47" fill="#3b2592"/>
<rect x="173.75" y="288.00" width="1.18" height="28.47" fill="#3b2592"/>
<rect x="174.73" y="288.00" width="1.18" height="28.47" fill="#3b2592"/>
<rect x="175.72" y="288.00" width="4.28" height="28.47" fill="#b7a0d2"/>
<rect x="177.68" y="288.00" width="1.18" height="28.47" fill="#c9b7dc"/>
<rect x="179.65" y="288.00" width="2.32" height="28.47" fill="#f3e9ec"/>
<rect x="181.62" y="288.00" width="2.32" height="28.47" fill="#f7a188"/>
<rect x="183.58" y="288.00" width="4.28" height="28.47" fill="#f9cbbc"/>
<rect x="184.57" y="288.00" width="1.18" height="28.47" fill="#f8b5a1"/>
<rect x="185.55" y="288.00" width="1.18" height="28.47" fill="#f6d9d2"/>
<rect x="187.52" y="288.00" width="4.28" height="28.47" fill="#b7a0d2"/>
<rect x="187.52" y="288.00" width="1.18" height="28.47" fill="#c1add8"/>
<rect x="188.50" y="288.00" width="1.18" height="28.47" fill="#a284c6"/>
<rect x="189.48" y="288.00" width="1.18" height="28.47" fill="#c5b2da"/>
<rect x="191.45" y="288.00" width="2.32" height="28.47" fill="#d9cbe5"/>
<rect x="191.45" y="288.00" width="1.18" height="28.47" fill="#e5d9e8"/>
<rect x="192.43" y="288.00" width="1.18" height="28.47" fill="#c9b6dc"/>
<rect x="193.42" y="288.00" width="4.28" height="28.47" fill="#f3e9ec"/>
<rect x="195.38" y="288.00" width="1.18" height="28.47" fill="#e7dbe9"/>
<rect x="197.35" y="288.00" width="2.32" height="28.47" fill="#d9cbe5"/>
<rect x="198.33" y="288.00" width="1.18" height="28.47" fill="#c8b5db"/>
<rect x="199.32" y="288.00" width="3.30" height="28.47" fill="#f7a188"/>
<rect x="199.32" y="288.00" width="1.18" height="28.47" fill="#f69075"/>
<rect x="200.30" y="288.00" width="1.18" height="28.47" fill="#f68f74"/>
<rect x="202.27" y="288.00" width="3.30" height="28.47" fill="#f9cbbc"/>
<rect x="202.27" y="288.00" width="1.18" height="28.47" fill="#f8baa7"/>
<rect x="204.23" y="288.00" width="1.18" height="28.47" fill="#f8bfad"/>
<rect x="205.22" y="288.00" width="2.32" height="28.47" fill="#b7a0d2"/>
<rect x="207.18" y="288.00" width="3.30" height="28.47" fill="#f3e9ec"/>
<rect x="207.18" y="288.00" width="1.18" height="28.47" fill="#ebe0ea"/>
<rect x="209.15" y="288.00" width="1.18" height="28.47" fill="#f6dcd8"/>
<rect x="210.13" y="288.00" width="3.30" height="28.47" fill="#8f6bbb"/>
<rect x="212.10" y="288.00" width="1.18" height="28.47" fill="#9e7fc3"/>
<rect x="213.08" y="288.00" width="2.32" height="28.47" fill="#b7a0d2"/>
<rect x="213.08" y="288.00" width="1.18" height="28.47" fill="#c4b0d9"/>
<rect x="214.07" y="288.00" width="1.18" height="28.47" fill="#aa8fcb"/>
<rect x="215.05" y="288.00" width="3.30" height="28.47" fill="#f9cbbc"/>
<rect x="216.03" y="288.00" width="1.18" height="28.47" fill="#f8b39f"/>
<rect x="217.02" y="288.00" width="1.18" height="28.47" fill="#f6dad4"/>
<rect x="41.00" y="316.17" width="3.30" height="28.47" fill="#f3e9ec"/>
<rect x="41.00" y="316.17" width="1.18" height="28.47" fill="#ebe0ea"/>
<rect x="43.95" y="316.17" width="2.32" height="28.47" fill="#f9cbbc"/>
<rect x="45.92" y="316.17" width="2.32" height="28.47" fill="#b7a0d2"/>
<rect x="45.92" y="316.17" width="1.18" height="28.47" fill="#c6b3da"/>
<rect x="47.88" y="316.17" width="2.32" height="28.47" fill="#8f6bbb"/>
<rect x="47.88" y="316.17" width="1.18" height="28.47" fill="#9c7dc3"/>
<rect x="48.87" y="316.17" width="1.18" height="28.47" fill="#7f5cb3"/>
<rect x="49.85" y="316.17" width="3.30" height="28.47" fill="#b7a0d2"/>
<rect x="49.85" y="316.17" width="1.18" height="28.47" fill="#cbb9dd"/>
<rect x="50.83" y="316.17" width="1.18" height="28.47" fill="#aa8fcb"/>
<rect x="51.82" y="316.17" width="1.18" height="28.47" fill="#aa8fcb"/>
<rect x="52.80" y="316.17" width="4.28" height="28.47" fill="#8f6bbb"/>
<rect x="54.77" y="316.17" width="1.18" height="28.47" fill="#8360b5"/>
<rect x="55.75" y="316.17" width="1.18" height="28.47" fill="#9e7fc4"/>
<rect x="56.73" y="316.17" width="3.30" height="28.47" fill="#b7a0d2"/>
<rect x="56.73" y="316.17" width="1.18" height="28.47" fill="#a689c8"/>
<rect x="57.72" y="316.17" width="1.18" height="28.47" fill="#cbb9dd"/>
<rect x="58.70" y="316.17" width="1.18" height="28.47" fill="#c1add8"/>
<rect x="59.68" y="316.17" width="4.28" height="28.47" fill="#8f6bbb"/>
<rect x="59.68" y="316.17" width="1.18" height="28.47" fill="#8662b6"/>
<rect x="62.63" y="316.17" width="1.18" height="28.47" fill="#a487c7"/>
<rect x="63.62" y="316.17" width="3.30" height="28.47" fill="#b7a0d2"/>
<rect x="63.62" y="316.17" width="1.18" height="28.47" fill="#c2aed8"/>
<rect x="64.60" y="316.17" width="1.18" height="28.47" fill="#a285c6"/>
<rect x="65.58" y="316.17" width="1.18" height="28.47" fill="#c5b1da"/>
<rect x="66.57" y="316.17" width="3.30" height="28.47" fill="#f3e9ec"/>
<rect x="67.55" y="316.17" width="1.18" height="28.47" fill="#e8dce9"/>
<rect x="69.52" y="316.17" width="2.32" height="28.47" fill="#b7a0d2"/>
<rect x="69.52" y="316.17" width="1.18" height="28.47" fill="#a88dca"/>
<rect x="70.50" y="316.17" width="1.18" height="28.47" fill="#c3afd9"/>
<rect x="71.48" y="316.17" width="3.30" height="28.47" fill="#8f6bbb"/>
<rect x="71.48" y="316.17" width="1.18" height="28.47" fill="#9c7cc3"/>
<rect x="72.47" y="316.17" width="1.18" height="28.47" fill="#9d7dc3"/>
<rect x="73.45" y="316.17" width="1.18" height="28.47" fill="#9c7cc2"/>
<rect x="74.43" y="316.17" width="3.30" height="28.47" fill="#b7a0d2"/>
<rect x="77.38" y="316.17" width="3.30" height="28.47" fill="#d9cbe5"/>
<rect x="77.38" y="316.17" width="1.18" height="28.47" fill="#cfbedf"/>
<rect x="78.37" y="316.17" width="1.18" height="28.47" fill="#c7b5db"/>
<rect x="80.33" y="316.17" width="10.18" height="28.47" fill="#b7a0d2"/>
<rect x="81.23" y="316.17" width="1.09" height="28.47" fill="#a689c8"/>
<rect x="82.12" y="316.17" width="1.09" height="28.47" fill="#cab9dd"/>
<rect x="83.02" y="316.17" width="1.09" height="28.47" fill="#c0acd7"/>
<rect x="87.48" y="316.17" width="1.09" height="28.47" fill="#c0abd7"/>
<rect x="88.38" y="316.17" width="1.09" height="28.47" fill="#cab8dc"/>
<rect x="89.27" y="316.17" width="1.09" height="28.47" fill="#c0abd7"/>
<rect x="90.17" y="316.17" width="2.32" height="28.47" fill="#f22d1c"/>
<rect x="91.15" y="316.17" width="1.18" height="28.47" fill="#f22d1c"/>
<rect x="92.13" y="316.17" width="5.27" height="28.47" fill="#f46a4a"/>
<rect x="92.13" y="316.17" width="1.18" height="28.47" fill="#f57b5d"/>
<rect x="93.12" y="316.17" width="1.18" height="28.47" fill="#f68b6f"/>
<rect x="95.08" y="316.17" width="1.18" height="28.47" fill="#f34b32"/>
<rect x="96.07" y="316.17" width="1.18" height="28.47" fill="#f3593d"/>
<rect x="97.05" y="316.17" width="4.28" height="28.47" fill="#f7a188"/>
<rect x="98.03" y="316.17" width="1.18" height="28.47" fill="#f58568"/>
<rect x="100.00" y="316.17" width="1.18" height="28.47" fill="#f68e73"/>
<rect x="100.98" y="316.17" width="5.27" height="28.47" fill="#f46a4a"/>
<rect x="100.98" y="316.17" width="1.18" height="28.47" fill="#f58366"/>
<rect x="101.97" y="316.17" width="1.18" height="28.47" fill="#f6886b"/>
<rect x="102.95" y="316.17" width="1.18" height="28.47" fill="#f58467"/>
<rect x="104.92" y="316.17" width="1.18" height="28.47" fill="#f58265"/>
<rect x="105.90" y="316.17" width="7.23" height="28.47" fill="#f7a188"/>
<rect x="106.76" y="316.17" width="1.06" height="28.47" fill="#f8b4a0"/>
<rect x="107.62" y="316.17" width="1.06" height="28.47" fill="#f8b7a3"/>
<rect x="109.34" y="316.17" width="1.06" height="28.47" fill="#f8b4a0"/>
<rect x="110.20" y="316.17" width="1.06" height="28.47" fill="#f8ad97"/>
<rect x="111.92" y="316.17" width="1.06" height="28.47" fill="#f58366"/>
<rect x="112.78" y="316.17" width="3.30" height="28.47" fill="#f46a4a"/>
<rect x="112.78" y="316.17" width="1.18" height="28.47" fill="#f3543a"/>
<rect x="113.77" y="316.17" width="1.18" height="28.47" fill="#f58569"/>
<rect x="114.75" y="316.17" width="1.18" height="28.47" fill="#f3593d"/>
<rect x="115.73" y="316.17" width="7.23" height="28.47" fill="#f7a188"/>
<rect x="115.73" y="316.17" width="1.06" height="28.47" fill="#f58164"/>
<rect x="116.59" y="316.17" width="1.06" height="28.47" fill="#f8b09b"/>
<rect x="117.45" y="316.17" width="1.06" height="28.47" fill="#f8b39e"/>
<rect x="119.18" y="316.17" width="1.06" height="28.47" fill="#f69278"/>
<rect x="120.04" y="316.17" width="1.06" height="28.47" fill="#f58366"/>
<rect x="122.62" y="316.17" width="4.28" height="28.47" fill="#f9cbbc"/>
<rect x="126.55" y="316.17" width="3.30" height="28.47" fill="#f3e9ec"/>
<rect x="129.50" y="316.17" width="3.37" height="28.47" fill="#f3e9ec"/>
<rect x="130.51" y="316.17" width="1.21" height="28.47" fill="#ebe0ea"/>
<rect x="131.51" y="316.17" width="1.21" height="28.47" fill="#f6dcd7"/>
<rect x="132.52" y="316.17" width="2.36" height="28.47" fill="#f9cbbc"/>
<rect x="134.53" y="316.17" width="3.37" height="28.47" fill="#f7a188"/>
<rect x="135.53" y="316.17" width="1.21" height="28.47" fill="#f8b6a2"/>
<rect x="137.55" y="316.17" width="2.36" height="28.47" fill="#f9cbbc"/>
<rect x="137.55" y="316.17" width="1.21" height="28.47" fill="#f7d3c9"/>
<rect x="139.56" y="316.17" width="3.37" height="28.47" fill="#f7a188"/>
<rect x="139.56" y="316.17" width="1.21" height="28.47" fill="#f69278"/>
<rect x="142.57" y="316.17" width="2.36" height="28.47" fill="#f9cbbc"/>
<rect x="142.57" y="316.17" width="1.21" height="28.47" fill="#f7d6ce"/>
<rect x="144.59" y="316.17" width="3.37" height="28.47" fill="#d9cbe5"/>
<rect x="145.59" y="316.17" width="1.21" height="28.47" fill="#e8dde9"/>
<rect x="146.60" y="316.17" width="1.21" height="28.47" fill="#e2d5e7"/>
<rect x="147.60" y="316.17" width="2.36" height="28.47" fill="#f3e9ec"/>
<rect x="147.60" y="316.17" width="1.21" height="28.47" fill="#f5deda"/>
<rect x="148.61" y="316.17" width="1.21" height="28.47" fill="#f6dbd6"/>
<rect x="149.61" y="316.17" width="3.37" height="28.47" fill="#f7a188"/>
<rect x="152.63" y="316.17" width="2.36" height="28.47" fill="#f46a4a"/>
<rect x="152.63" y="316.17" width="1.21" height="28.47" fill="#f3583c"/>
<rect x="154.64" y="316.17" width="3.37" height="28.47" fill="#f22d1c"/>
<rect x="155.65" y="316.17" width="1.21" height="28.47" fill="#f22d1c"/>
<rect x="157.66" y="316.17" width="2.36" height="28.47" fill="#f9cbbc"/>
<rect x="157.66" y="316.17" width="1.21" height="28.47" fill="#f6d8d1"/>
<rect x="158.66" y="316.17" width="1.21" height="28.47" fill="#f7d7cf"/>
<rect x="159.67" y="316.17" width="2.36" height="28.47" fill="#f46a4a"/>
<rect x="159.67" y="316.17" width="1.21" height="28.47" fill="#f5785a"/>
<rect x="161.68" y="316.17" width="2.36" height="28.47" fill="#f7a188"/>
<rect x="162.69" y="316.17" width="1.21" height="28.47" fill="#f8af99"/>
<rect x="163.69" y="316.17" width="2.36" height="28.47" fill="#f46a4a"/>
<rect x="164.70" y="316.17" width="1.21" height="28.47" fill="#f6876b"/>
<rect x="165.70" y="316.17" width="2.36" height="28.47" fill="#f9cbbc"/>
<rect x="165.70" y="316.17" width="1.21" height="28.47" fill="#f6d8d1"/>
<rect x="166.71" y="316.17" width="1.21" height="28.47" fill="#f6dbd5"/>
<rect x="167.72" y="316.17" width="5.38" height="28.47" fill="#f46a4a"/>
<rect x="168.55" y="316.17" width="1.04" height="28.47" fill="#f34931"/>
<rect x="172.74" y="316.17" width="3.37" height="28.47" fill="#f7a188"/>
<rect x="175.76" y="316.17" width="4.37" height="28.47" fill="#f22d1c"/>
<rect x="175.76" y="316.17" width="1.21" height="28.47" fill="#f22d1c"/>
<rect x="176.77" y="316.17" width="1.21" height="28.47" fill="#f3402a"/>
<rect x="177.77" y="316.17" width="1.21" height="28.47" fill="#f3422c"/>
<rect x="179.78" y="316.17" width="3.37" height="28.47" fill="#d9cbe5"/>
<rect x="181.80" y="316.17" width="1.21" height="28.47" fill="#e5d9e8"/>
<rect x="182.80" y="316.17" width="2.36" height="28.47" fill="#f3e9ec"/>
<rect x="184.81" y="316.17" width="3.37" height="28.47" fill="#b7a0d2"/>
<rect x="187.83" y="316.17" width="4.37" height="28.47" fill="#f9cbbc"/>
<rect x="187.83" y="316.17" width="1.21" height="28.47" fill="#f6dad4"/>
<rect x="188.84" y="316.17" width="1.21" height="28.47" fill="#f8b5a1"/>
<rect x="190.85" y="316.17" width="1.21" height="28.47" fill="#f8b7a3"/>
<rect x="191.85" y="316.17" width="2.36" height="28.47" fill="#f7a188"/>
<rect x="192.86" y="316.17" width="1.21" height="28.47" fill="#f8b39e"/>
<rect x="193.86" y="316.17" width="3.37" height="28.47" fill="#f46a4a"/>
<rect x="193.86" y="316.17" width="1.21" height="28.47" fill="#f68669"/>
<rect x="194.87" y="316.17" width="1.21" height="28.47" fill="#f58164"/>
<rect x="196.88" y="316.17" width="3.37" height="28.47" fill="#f7a188"/>
<rect x="197.89" y="316.17" width="1.21" height="28.47" fill="#f8af99"/>
<rect x="199.90" y="316.17" width="3.37" height="28.47" fill="#f9cbbc"/>
<rect x="201.91" y="316.17" width="1.21" height="28.47" fill="#f8bcaa"/>
<rect x="202.91" y="316.17" width="3.37" height="28.47" fill="#f46a4a"/>
<rect x="202.91" y="316.17" width="1.21" height="28.47" fill="#f57f62"/>
<rect x="204.93" y="316.17" width="1.21" height="28.47" fill="#f35b3e"/>
<rect x="205.93" y="316.17" width="2.36" height="28.47" fill="#f9cbbc"/>
<rect x="207.94" y="316.17" width="3.37" height="28.47" fill="#b7a0d2"/>
<rect x="209.95" y="316.17" width="1.21" height="28.47" fill="#c3b0d9"/>
<rect x="210.96" y="316.17" width="2.36" height="28.47" fill="#f3e9ec"/>
<rect x="210.96" y="316.17" width="1.21" height="28.47" fill="#f6dcd8"/>
<rect x="212.97" y="316.17" width="3.37" height="28.47" fill="#8f6bbb"/>
<rect x="215.99" y="316.17" width="2.36" height="28.47" fill="#b7a0d2"/>
<rect x="41.00" y="344.34" width="3.33" height="28.47" fill="#3b2592"/>
<rect x="41.00" y="344.34" width="1.19" height="28.47" fill="#3b2592"/>
<rect x="42.99" y="344.34" width="1.19" height="28.47" fill="#52369d"/>
<rect x="43.98" y="344.34" width="2.34" height="28.47" fill="#b7a0d2"/>
<rect x="43.98" y="344.34" width="1.19" height="28.47" fill="#c9b7dc"/>
<rect x="44.98" y="344.34" width="1.19" height="28.47" fill="#c8b5db"/>
<rect x="45.97" y="344.34" width="1.34" height="28.47" fill="#f3e9ec"/>
<rect x="46.97" y="344.34" width="2.34" height="28.47" fill="#f7a188"/>
<rect x="47.96" y="344.34" width="1.19" height="28.47" fill="#f69074"/>
<rect x="48.96" y="344.34" width="2.34" height="28.47" fill="#d9cbe5"/>
<rect x="49.95" y="344.34" width="1.19" height="28.47" fill="#ccbbde"/>
<rect x="50.94" y="344.34" width="2.34" height="28.47" fill="#f7a188"/>
<rect x="51.94" y="344.34" width="1.19" height="28.47" fill="#f8b39e"/>
<rect x="52.93" y="344.34" width="2.34" height="28.47" fill="#d9cbe5"/>
<rect x="54.92" y="344.34" width="3.33" height="28.47" fill="#b7a0d2"/>
<rect x="55.92" y="344.34" width="1.19" height="28.47" fill="#a98dca"/>
<rect x="57.90" y="344.34" width="2.34" height="28.47" fill="#8f6bbb"/>
<rect x="57.90" y="344.34" width="1.19" height="28.47" fill="#a081c5"/>
<rect x="58.90" y="344.34" width="1.19" height="28.47" fill="#a68ac8"/>
<rect x="59.89" y="344.34" width="3.33" height="28.47" fill="#b7a0d2"/>
<rect x="62.88" y="344.34" width="2.34" height="28.47" fill="#d9cbe5"/>
<rect x="64.87" y="344.34" width="2.34" height="28.47" fill="#6a47a9"/>
<rect x="64.87" y="344.34" width="1.19" height="28.47" fill="#54379e"/>
<rect x="66.85" y="344.34" width="2.34" height="28.47" fill="#b7a0d2"/>
<rect x="68.84" y="344.34" width="4.33" height="28.47" fill="#d9cbe5"/>
<rect x="70.83" y="344.34" width="1.19" height="28.47" fill="#d0c0e0"/>
<rect x="71.83" y="344.34" width="1.19" height="28.47" fill="#c7b4db"/>
<rect x="72.82" y="344.34" width="3.33" height="28.47" fill="#b7a0d2"/>
<rect x="73.81" y="344.34" width="1.19" height="28.47" fill="#cbb9dd"/>
<rect x="75.80" y="344.34" width="2.34" height="28.47" fill="#f3e9ec"/>
<rect x="77.79" y="344.34" width="2.34" height="28.47" fill="#f9cbbc"/>
<rect x="78.79" y="344.34" width="1.19" height="28.47" fill="#f8b8a4"/>
<rect x="79.78" y="344.34" width="3.33" height="28.47" fill="#b7a0d2"/>
<rect x="79.78" y="344.34" width="1.19" height="28.47" fill="#c9b6dc"/>
<rect x="80.78" y="344.34" width="1.19" height="28.47" fill="#a386c7"/>
<rect x="81.77" y="344.34" width="1.19" height="28.47" fill="#c9b6dc"/>
<rect x="82.76" y="344.34" width="2.34" height="28.47" fill="#d9cbe5"/>
<rect x="82.76" y="344.34" width="1.19" height="28.47" fill="#e8dce9"/>
<rect x="84.75" y="344.34" width="6.32" height="28.47" fill="#d9cbe5"/>
<rect x="84.75" y="344.34" width="1.05" height="28.47" fill="#e1d4e7"/>
<rect x="85.61" y="344.34" width="1.05" height="28.47" fill="#c7b4db"/>
<rect x="86.46" y="344.34" width="1.05" height="28.47" fill="#cebddf"/>
<rect x="87.31" y="344.34" width="1.05" height="28.47" fill="#cfbfe0"/>
<rect x="89.01" y="344.34" width="1.05" height="28.47" fill="#e7dbe9"/>
<rect x="89.87" y="344.34" width="1.05" height="28.47" fill="#c7b5db"/>
<rect x="90.72" y="344.34" width="3.33" height="28.47" fill="#f9cbbc"/>
<rect x="91.71" y="344.34" width="1.19" height="28.47" fill="#f7d6ce"/>
<rect x="92.71" y="344.34" width="1.19" height="28.47" fill="#f6d9d3"/>
<rect x="93.70" y="344.34" width="4.33" height="28.47" fill="#f7a188"/>
<rect x="93.70" y="344.34" width="1.19" height="28.47" fill="#f68e73"/>
<rect x="95.69" y="344.34" width="1.19" height="28.47" fill="#f58164"/>
<rect x="97.68" y="344.34" width="2.34" height="28.47" fill="#f46a4a"/>
<rect x="99.67" y="344.34" width="4.33" height="28.47" fill="#f7a188"/>
<rect x="100.66" y="344.34" width="1.19" height="28.47" fill="#f8b19c"/>
<rect x="103.65" y="344.34" width="2.34" height="28.47" fill="#f46a4a"/>
<rect x="105.63" y="344.34" width="2.34" height="28.47" fill="#f7a188"/>
<rect x="107.62" y="344.34" width="2.34" height="28.47" fill="#f3e9ec"/>
<rect x="107.62" y="344.34" width="1.19" height="28.47" fill="#f6dbd6"/>
<rect x="108.62" y="344.34" width="1.19" height="28.47" fill="#e5d9e8"/>
<rect x="109.61" y="344.34" width="3.33" height="28.47" fill="#f7a188"/>
<rect x="110.61" y="344.34" width="1.19" height="28.47" fill="#f8ad96"/>
<rect x="111.60" y="344.34" width="1.19" height="28.47" fill="#f69176"/>
<rect x="112.60" y="344.34" width="3.33" height="28.47" fill="#f9cbbc"/>
<rect x="112.60" y="344.34" width="1.19" height="28.47" fill="#f5ddd8"/>
<rect x="114.58" y="344.34" width="1.19" height="28.47" fill="#f8b8a5"/>
<rect x="115.58" y="344.34" width="4.33" height="28.47" fill="#f7a188"/>
<rect x="116.57" y="344.34" width="1.19" height="28.47" fill="#f58366"/>
<rect x="117.57" y="344.34" width="1.19" height="28.47" fill="#f8af9a"/>
<rect x="119.56" y="344.34" width="2.34" height="28.47" fill="#f9cbbc"/>
<rect x="119.56" y="344.34" width="1.19" height="28.47" fill="#f8b7a3"/>
<rect x="120.55" y="344.34" width="1.19" height="28.47" fill="#f5ddd9"/>
<rect x="121.54" y="344.34" width="3.33" height="28.47" fill="#f7a188"/>
<rect x="122.54" y="344.34" width="1.19" height="28.47" fill="#f8b5a1"/>
<rect x="124.53" y="344.34" width="2.34" height="28.47" fill="#f46a4a"/>
<rect x="124.53" y="344.34" width="1.19" height="28.47" fill="#f3593d"/>
<rect x="125.52" y="344.34" width="1.19" height="28.47" fill="#f34931"/>
<rect x="126.52" y="344.34" width="3.33" height="28.47" fill="#f7a188"/>
<rect x="126.52" y="344.34" width="1.19" height="28.47" fill="#f69378"/>
<rect x="128.51" y="344.34" width="1.19" height="28.47" fill="#f8b19c"/>
<rect x="129.50" y="344.34" width="10.41" height="28.47" fill="#f46a4a"/>
<rect x="129.50" y="344.34" width="1.11" height="28.47" fill="#f3563b"/>
<rect x="130.41" y="344.34" width="1.11" height="28.47" fill="#f57d60"/>
<rect x="133.16" y="344.34" width="1.11" height="28.47" fill="#f34830"/>
<rect x="134.07" y="344.34" width="1.11" height="28.47" fill="#f34b33"/>
<rect x="137.73" y="344.34" width="1.11" height="28.47" fill="#f3573c"/>
<rect x="139.56" y="344.34" width="1.36" height="28.47" fill="#f3e9ec"/>
<rect x="140.56" y="344.34" width="4.37" height="28.47" fill="#b7a0d2"/>
<rect x="140.56" y="344.34" width="1.21" height="28.47" fill="#ad92cc"/>
<rect x="141.57" y="344.34" width="1.21" height="28.47" fill="#c2aed8"/>
<rect x="142.57" y="344.34" width="1.21" height="28.47" fill="#c0acd7"/>
<rect x="144.59" y="344.34" width="2.36" height="28.47" fill="#f9cbbc"/>
<rect x="146.60" y="344.34" width="2.36" height="28.47" fill="#b7a0d2"/>
<rect x="148.61" y="344.34" width="2.36" height="28.47" fill="#8f6bbb"/>
<rect x="148.61" y="344.34" width="1.21" height="28.47" fill="#7e5ab3"/>
<rect x="149.61" y="344.34" width="1.21" height="28.47" fill="#8360b5"/>
<rect x="150.62" y="344.34" width="2.36" height="28.47" fill="#b7a0d2"/>
<rect x="152.63" y="344.34" width="3.37" height="28.47" fill="#6a47a9"/>
<rect x="152.63" y="344.34" width="1.21" height="28.47" fill="#53379e"/>
<rect x="153.64" y="344.34" width="1.21" height="28.47" fill="#7c58b2"/>
<rect x="155.65" y="344.34" width="2.36" height="28.47" fill="#d9cbe5"/>
<rect x="155.65" y="344.34" width="1.21" height="28.47" fill="#c8b5db"/>
<rect x="156.65" y="344.34" width="1.21" height="28.47" fill="#cfbfe0"/>
<rect x="157.66" y="344.34" width="3.37" height="28.47" fill="#f3e9ec"/>
<rect x="158.66" y="344.34" width="1.21" height="28.47" fill="#f5e0de"/>
<rect x="159.67" y="344.34" width="1.21" height="28.47" fill="#f6d9d3"/>
<rect x="160.68" y="344.34" width="2.36" height="28.47" fill="#d9cbe5"/>
<rect x="160.68" y="344.34" width="1.21" height="28.47" fill="#e1d4e7"/>
<rect x="161.68" y="344.34" width="1.21" height="28.47" fill="#e5d9e8"/>
<rect x="162.69" y="344.34" width="3.37" height="28.47" fill="#f9cbbc"/>
<rect x="163.69" y="344.34" width="1.21" height="28.47" fill="#f8bdab"/>
<rect x="165.70" y="344.34" width="2.36" height="28.47" fill="#d9cbe5"/>
<rect x="166.71" y="344.34" width="1.21" height="28.47" fill="#c8b6dc"/>
<rect x="167.72" y="344.34" width="3.37" height="28.47" fill="#b7a0d2"/>
<rect x="168.72" y="344.34" width="1.21" height="28.47" fill="#a689c8"/>
<rect x="169.73" y="344.34" width="1.21" height="28.47" fill="#a589c8"/>
<rect x="170.73" y="344.34" width="2.36" height="28.47" fill="#f3e9ec"/>
<rect x="172.74" y="344.34" width="2.36" height="28.47" fill="#d9cbe5"/>
<rect x="174.76" y="344.34" width="2.36" height="28.47" fill="#8f6bbb"/>
<rect x="175.76" y="344.34" width="1.21" height="28.47" fill="#9a7ac1"/>
<rect x="176.77" y="344.34" width="3.37" height="28.47" fill="#d9cbe5"/>
<rect x="177.77" y="344.34" width="1.21" height="28.47" fill="#e8dce9"/>
<rect x="179.78" y="344.34" width="3.37" height="28.47" fill="#f3e9ec"/>
<rect x="180.79" y="344.34" width="1.21" height="28.47" fill="#e5d9e8"/>
<rect x="181.80" y="344.34" width="1.21" height="28.47" fill="#f6dad5"/>
<rect x="182.80" y="344.34" width="3.37" height="28.47" fill="#f7a188"/>
<rect x="184.81" y="344.34" width="1.21" height="28.47" fill="#f58568"/>
<rect x="185.82" y="344.34" width="3.37" height="28.47" fill="#f9cbbc"/>
<rect x="186.82" y="344.34" width="1.21" height="28.47" fill="#f8b7a4"/>
<rect x="188.84" y="344.34" width="3.37" height="28.47" fill="#d9cbe5"/>
<rect x="190.85" y="344.34" width="1.21" height="28.47" fill="#c8b6dc"/>
<rect x="191.85" y="344.34" width="3.37" height="28.47" fill="#f9cbbc"/>
<rect x="191.85" y="344.34" width="1.21" height="28.47" fill="#f7d5cd"/>
<rect x="194.87" y="344.34" width="2.36" height="28.47" fill="#f3e9ec"/>
<rect x="196.88" y="344.34" width="2.36" height="28.47" fill="#b7a0d2"/>
<rect x="198.89" y="344.34" width="2.36" height="28.47" fill="#f3e9ec"/>
<rect x="200.90" y="344.34" width="2.36" height="28.47" fill="#d9cbe5"/>
<rect x="201.91" y="344.34" width="1.21" height="28.47" fill="#c8b5db"/>
<rect x="202.91" y="344.34" width="2.36" height="28.47" fill="#f9cbbc"/>
<rect x="203.92" y="344.34" width="1.21" height="28.47" fill="#f7d3c8"/>
<rect x="204.93" y="344.34" width="3.37" height="28.47" fill="#f22d1c"/>
<rect x="207.94" y="344.34" width="2.36" height="28.47" fill="#f7a188"/>
<rect x="207.94" y="344.34" width="1.21" height="28.47" fill="#f69175"/>
<rect x="209.95" y="344.34" width="8.40" height="28.47" fill="#f46a4a"/>
<rect x="212.64" y="344.34" width="1.09" height="28.47" fill="#f34a32"/>
<rect x="213.53" y="344.34" width="1.09" height="28.47" fill="#f34e35"/>
<rect x="214.42" y="344.34" width="1.09" height="28.47" fill="#f6876a"/>
<rect x="41.00" y="372.51" width="2.27" height="28.47" fill="#f9cbbc"/>
<rect x="42.92" y="372.51" width="2.27" height="28.47" fill="#f46a4a"/>
<rect x="44.85" y="372.51" width="2.27" height="28.47" fill="#f3e9ec"/>
<rect x="44.85" y="372.51" width="1.16" height="28.47" fill="#ece0ea"/>
<rect x="46.77" y="372.51" width="2.27" height="28.47" fill="#d9cbe5"/>
<rect x="47.73" y="372.51" width="1.16" height="28.47" fill="#e6dae9"/>
<rect x="48.70" y="372.51" width="2.27" height="28.47" fill="#f7a188"/>
<rect x="50.62" y="372.51" width="2.27" height="28.47" fill="#f3e9ec"/>
<rect x="50.62" y="372.51" width="1.16" height="28.47" fill="#f6dcd6"/>
<rect x="52.54" y="372.51" width="2.27" height="28.47" fill="#f7a188"/>
<rect x="52.54" y="372.51" width="1.16" height="28.47" fill="#f8b8a4"/>
<rect x="54.47" y="372.51" width="2.27" height="28.47" fill="#f3e9ec"/>
<rect x="54.47" y="372.51" width="1.16" height="28.47" fill="#f5e0dd"/>
<rect x="56.39" y="372.51" width="2.27" height="28.47" fill="#d9cbe5"/>
<rect x="56.39" y="372.51" width="1.16" height="28.47" fill="#e4d8e8"/>
<rect x="58.32" y="372.51" width="1.31" height="28.47" fill="#f3e9ec"/>
<rect x="59.28" y="372.51" width="3.24" height="28.47" fill="#f9cbbc"/>
<rect x="59.28" y="372.51" width="1.16" height="28.47" fill="#f6dcd7"/>
<rect x="61.20" y="372.51" width="1.16" height="28.47" fill="#f8b4a0"/>
<rect x="62.16" y="372.51" width="2.27" height="28.47" fill="#d9cbe5"/>
<rect x="63.12" y="372.51" width="1.16" height="28.47" fill="#e0d3e7"/>
<rect x="64.09" y="372.51" width="2.27" height="28.47" fill="#b7a0d2"/>
<rect x="64.09" y="372.51" width="1.16" height="28.47" fill="#a68ac8"/>
<rect x="66.01" y="372.51" width="2.27" height="28.47" fill="#6a47a9"/>
<rect x="66.97" y="372.51" width="1.16" height="28.47" fill="#4f349c"/>
<rect x="67.93" y="372.51" width="2.27" height="28.47" fill="#b7a0d2"/>
<rect x="69.86" y="372.51" width="2.27" height="28.47" fill="#f3e9ec"/>
<rect x="69.86" y="372.51" width="1.16" height="28.47" fill="#f5e0de"/>
<rect x="71.78" y="372.51" width="2.27" height="28.47" fill="#f46a4a"/>
<rect x="71.78" y="372.51" width="1.16" height="28.47" fill="#f58569"/>
<rect x="72.74" y="372.51" width="1.16" height="28.47" fill="#f3563b"/>
<rect x="73.71" y="372.51" width="2.27" height="28.47" fill="#f22d1c"/>
<rect x="75.63" y="372.51" width="3.24" height="28.47" fill="#f46a4a"/>
<rect x="75.63" y="372.51" width="1.16" height="28.47" fill="#f58265"/>
<rect x="78.52" y="372.51" width="5.16" height="28.47" fill="#f22d1c"/>
<rect x="78.52" y="372.51" width="1.16" height="28.47" fill="#f3462f"/>
<rect x="79.48" y="372.51" width="1.16" height="28.47" fill="#f22d1c"/>
<rect x="81.40" y="372.51" width="1.16" height="28.47" fill="#f22d1c"/>
<rect x="83.33" y="372.51" width="2.27" height="28.47" fill="#f3e9ec"/>
<rect x="85.25" y="372.51" width="7.08" height="28.47" fill="#f7a188"/>
<rect x="90.06" y="372.51" width="1.16" height="28.47" fill="#f8b9a5"/>
<rect x="91.98" y="372.51" width="2.27" height="28.47" fill="#f3e9ec"/>
<rect x="91.98" y="372.51" width="1.16" height="28.47" fill="#e8dce9"/>
<rect x="92.95" y="372.51" width="1.16" height="28.47" fill="#ebe0ea"/>
<rect x="93.91" y="372.51" width="2.27" height="28.47" fill="#d9cbe5"/>
<rect x="95.83" y="372.51" width="2.27" height="28.47" fill="#b7a0d2"/>
<rect x="96.79" y="372.51" width="1.16" height="28.47" fill="#cbb9dd"/>
<rect x="97.76" y="372.51" width="3.24" height="28.47" fill="#f3e9ec"/>
<rect x="97.76" y="372.51" width="1.16" height="28.47" fill="#f6dcd7"/>
<rect x="99.68" y="372.51" width="1.16" height="28.47" fill="#e8dde9"/>
<rect x="100.64" y="372.51" width="3.24" height="28.47" fill="#d9cbe5"/>
<rect x="103.53" y="372.51" width="2.27" height="28.47" fill="#f3e9ec"/>
<rect x="103.53" y="372.51" width="1.16" height="28.47" fill="#e4d8e8"/>
<rect x="104.49" y="372.51" width="1.16" height="28.47" fill="#f5dfdd"/>
<rect x="105.45" y="372.51" width="2.27" height="28.47" fill="#b7a0d2"/>
<rect x="105.45" y="372.51" width="1.16" height="28.47" fill="#a588c8"/>
<rect x="107.38" y="372.51" width="2.27" height="28.47" fill="#f3e9ec"/>
<rect x="107.38" y="372.51" width="1.16" height="28.47" fill="#f6dbd6"/>
<rect x="108.34" y="372.51" width="1.16" height="28.47" fill="#f5dfdc"/>
<rect x="109.30" y="372.51" width="3.24" height="28.47" fill="#f9cbbc"/>
<rect x="111.22" y="372.51" width="1.16" height="28.47" fill="#f8baa7"/>
<rect x="112.18" y="372.51" width="2.27" height="28.47" fill="#f3e9ec"/>
<rect x="114.11" y="372.51" width="2.27" height="28.47" fill="#d9cbe5"/>
<rect x="116.03" y="372.51" width="3.24" height="28.47" fill="#f7a188"/>
<rect x="116.03" y="372.51" width="1.16" height="28.47" fill="#f68c70"/>
<rect x="117.96" y="372.51" width="1.16" height="28.47" fill="#f6876b"/>
<rect x="118.92" y="372.51" width="2.27" height="28.47" fill="#f9cbbc"/>
<rect x="118.92" y="372.51" width="1.16" height="28.47" fill="#f7d6ce"/>
<rect x="120.84" y="372.51" width="3.24" height="28.47" fill="#d9cbe5"/>
<rect x="120.84" y="372.51" width="1.16" height="28.47" fill="#cfbfe0"/>
<rect x="123.73" y="372.51" width="2.27" height="28.47" fill="#f9cbbc"/>
<rect x="124.69" y="372.51" width="1.16" height="28.47" fill="#f7d5cc"/>
<rect x="125.65" y="372.51" width="2.27" height="28.47" fill="#b7a0d2"/>
<rect x="126.61" y="372.51" width="1.16" height="28.47" fill="#c9b7dc"/>
<rect x="127.58" y="372.51" width="2.27" height="28.47" fill="#f9cbbc"/>
<rect x="127.58" y="372.51" width="1.16" height="28.47" fill="#f8bba9"/>
<rect x="128.54" y="372.51" width="1.16" height="28.47" fill="#f6dad4"/>
<rect x="129.50" y="372.51" width="3.30" height="28.47" fill="#f9cbbc"/>
<rect x="132.45" y="372.51" width="2.32" height="28.47" fill="#f7a188"/>
<rect x="132.45" y="372.51" width="1.18" height="28.47" fill="#f6876b"/>
<rect x="133.43" y="372.51" width="1.18" height="28.47" fill="#f58467"/>
<rect x="134.42" y="372.51" width="3.30" height="28.47" fill="#f9cbbc"/>
<rect x="135.40" y="372.51" width="1.18" height="28.47" fill="#f6dad4"/>
<rect x="136.38" y="372.51" width="1.18" height="28.47" fill="#f7d4ca"/>
<rect x="137.37" y="372.51" width="2.32" height="28.47" fill="#f3e9ec"/>
<rect x="137.37" y="372.51" width="1.18" height="28.47" fill="#f5dedb"/>
<rect x="139.33" y="372.51" width="3.30" height="28.47" fill="#f7a188"/>
<rect x="140.32" y="372.51" width="1.18" height="28.47" fill="#f68d72"/>
<rect x="141.30" y="372.51" width="1.18" height="28.47" fill="#f8af99"/>
<rect x="142.28" y="372.51" width="3.30" height="28.47" fill="#f7a188"/>
<rect x="144.25" y="372.51" width="1.18" height="28.47" fill="#f68d71"/>
<rect x="145.23" y="372.51" width="2.32" height="28.47" fill="#f3e9ec"/>
<rect x="147.20" y="372.51" width="3.30" height="28.47" fill="#d9cbe5"/>
<rect x="147.20" y="372.51" width="1.18" height="28.47" fill="#e8dce9"/>
<rect x="150.15" y="372.51" width="2.32" height="28.47" fill="#f9cbbc"/>
<rect x="151.13" y="372.51" width="1.18" height="28.47" fill="#f6dcd7"/>
<rect x="152.12" y="372.51" width="2.32" height="28.47" fill="#f7a188"/>
<rect x="154.08" y="372.51" width="2.32" height="28.47" fill="#f9cbbc"/>
<rect x="154.08" y="372.51" width="1.18" height="28.47" fill="#f8beac"/>
<rect x="155.07" y="372.51" width="1.18" height="28.47" fill="#f8bba9"/>
<rect x="156.05" y="372.51" width="4.28" height="28.47" fill="#8f6bbb"/>
<rect x="156.05" y="372.51" width="1.18" height="28.47" fill="#a589c8"/>
<rect x="159.98" y="372.51" width="3.30" height="28.47" fill="#d9cbe5"/>
<rect x="159.98" y="372.51" width="1.18" height="28.47" fill="#c9b7dc"/>
<rect x="160.97" y="372.51" width="1.18" height="28.47" fill="#c6b3da"/>
<rect x="161.95" y="372.51" width="1.18" height="28.47" fill="#e3d6e8"/>
<rect x="162.93" y="372.51" width="2.32" height="28.47" fill="#b7a0d2"/>
<rect x="162.93" y="372.51" width="1.18" height="28.47" fill="#c3afd9"/>
<rect x="164.90" y="372.51" width="2.32" height="28.47" fill="#8f6bbb"/>
<rect x="166.87" y="372.51" width="3.30" height="28.47" fill="#b7a0d2"/>
<rect x="166.87" y="372.51" width="1.18" height="28.47" fill="#a588c8"/>
<rect x="167.85" y="372.51" width="1.18" height="28.47" fill="#c8b5db"/>
<rect x="169.82" y="372.51" width="2.32" height="28.47" fill="#b7a0d2"/>
<rect x="169.82" y="372.51" width="1.18" height="28.47" fill="#c8b6dc"/>
<rect x="170.80" y="372.51" width="1.18" height="28.47" fill="#cbb9dd"/>
<rect x="171.78" y="372.51" width="2.32" height="28.47" fill="#d9cbe5"/>
<rect x="171.78" y="372.51" width="1.18" height="28.47" fill="#cebddf"/>
<rect x="172.77" y="372.51" width="1.18" height="28.47" fill="#cebddf"/>
<rect x="173.75" y="372.51" width="2.32" height="28.47" fill="#f7a188"/>
<rect x="174.73" y="372.51" width="1.18" height="28.47" fill="#f58265"/>
<rect x="175.72" y="372.51" width="3.30" height="28.47" fill="#b7a0d2"/>
<rect x="175.72" y="372.51" width="1.18" height="28.47" fill="#c0abd7"/>
<rect x="176.70" y="372.51" width="1.18" height="28.47" fill="#cab9dd"/>
<rect x="178.67" y="372.51" width="2.32" height="28.47" fill="#f3e9ec"/>
<rect x="178.67" y="372.51" width="1.18" height="28.47" fill="#f6d9d2"/>
<rect x="180.63" y="372.51" width="5.27" height="28.47" fill="#f46a4a"/>
<rect x="180.63" y="372.51" width="1.18" height="28.47" fill="#f6896d"/>
<rect x="181.62" y="372.51" width="1.18" height="28.47" fill="#f57f62"/>
<rect x="182.60" y="372.51" width="1.18" height="28.47" fill="#f58163"/>
<rect x="184.57" y="372.51" width="1.18" height="28.47" fill="#f34b33"/>
<rect x="185.55" y="372.51" width="2.32" height="28.47" fill="#f7a188"/>
<rect x="187.52" y="372.51" width="3.30" height="28.47" fill="#f22d1c"/>
<rect x="187.52" y="372.51" width="1.18" height="28.47" fill="#f34f35"/>
<rect x="189.48" y="372.51" width="1.18" height="28.47" fill="#f3432c"/>
<rect x="190.47" y="372.51" width="5.27" height="28.47" fill="#f46a4a"/>
<rect x="190.47" y="372.51" width="1.18" height="28.47" fill="#f3553a"/>
<rect x="191.45" y="372.51" width="1.18" height="28.47" fill="#f5795b"/>
<rect x="194.40" y="372.51" width="1.18" height="28.47" fill="#f6886c"/>
<rect x="195.38" y="372.51" width="2.32" height="28.47" fill="#f3e9ec"/>
<rect x="196.37" y="372.51" width="1.18" height="28.47" fill="#ece0ea"/>
<rect x="197.35" y="372.51" width="3.30" height="28.47" fill="#f46a4a"/>
<rect x="199.32" y="372.51" width="1.18" height="28.47" fill="#f58366"/>
<rect x="200.30" y="372.51" width="3.30" height="28.47" fill="#f7a188"/>
<rect x="202.27" y="372.51" width="1.18" height="28.47" fill="#f68d72"/>
<rect x="203.25" y="372.51" width="2.32" height="28.47" fill="#f3e9ec"/>
<rect x="205.22" y="372.51" width="2.32" height="28.47" fill="#8f6bbb"/>
<rect x="205.22" y="372.51" width="1.18" height="28.47" fill="#7d59b2"/>
<rect x="206.20" y="372.51" width="1.18" height="28.47" fill="#8460b6"/>
<rect x="207.18" y="372.51" width="2.32" height="28.47" fill="#d9cbe5"/>
<rect x="207.18" y="372.51" width="1.18" height="28.47" fill="#e8dce9"/>
<rect x="208.17" y="372.51" width="1.18" height="28.47" fill="#e5d9e8"/>
<rect x="209.15" y="372.51" width="2.32" height="28.47" fill="#8f6bbb"/>
<rect x="209.15" y="372.51" width="1.18" height="28.47" fill="#a385c6"/>
<rect x="210.13" y="372.51" width="1.18" height="28.47" fill="#8360b5"/>
<rect x="211.12" y="372.51" width="2.32" height="28.47" fill="#f9cbbc"/>
<rect x="213.08" y="372.51" width="3.30" height="28.47" fill="#f7a188"/>
<rect x="213.08" y="372.51" width="1.18" height="28.47" fill="#f8ad97"/>
<rect x="214.07" y="372.51" width="1.18" height="28.47" fill="#f8b5a1"/>
<rect x="215.05" y="372.51" width="1.18" height="28.47" fill="#f68d71"/>
<rect x="216.03" y="372.51" width="2.32" height="28.47" fill="#f46a4a"/>
<rect x="216.03" y="372.51" width="1.18" height="28.47" fill="#f34f35"/>
<rect x="41.00" y="400.68" width="2.36" height="28.47" fill="#b7a0d2"/>
<rect x="41.00" y="400.68" width="1.21" height="28.47" fill="#c5b2da"/>
<rect x="43.01" y="400.68" width="2.36" height="28.47" fill="#8f6bbb"/>
<rect x="43.01" y="400.68" width="1.21" height="28.47" fill="#8460b6"/>
<rect x="45.02" y="400.68" width="3.37" height="28.47" fill="#3b2592"/>
<rect x="45.02" y="400.68" width="1.21" height="28.47" fill="#3b2592"/>
<rect x="46.03" y="400.68" width="1.21" height="28.47" fill="#3b2592"/>
<rect x="48.04" y="400.68" width="2.36" height="28.47" fill="#b7a0d2"/>
<rect x="50.05" y="400.68" width="2.36" height="28.47" fill="#8f6bbb"/>
<rect x="50.05" y="400.68" width="1.21" height="28.47" fill="#825fb5"/>
<rect x="52.06" y="400.68" width="2.36" height="28.47" fill="#f9cbbc"/>
<rect x="54.07" y="400.68" width="2.36" height="28.47" fill="#f46a4a"/>
<rect x="56.09" y="400.68" width="1.36" height="28.47" fill="#f9cbbc"/>
<rect x="57.09" y="400.68" width="2.36" height="28.47" fill="#f3e9ec"/>
<rect x="57.09" y="400.68" width="1.21" height="28.47" fill="#e8dce9"/>
<rect x="58.10" y="400.68" width="1.21" height="28.47" fill="#ece1ea"/>
<rect x="59.10" y="400.68" width="2.36" height="28.47" fill="#f7a188"/>
<rect x="61.11" y="400.68" width="6.38" height="28.47" fill="#f46a4a"/>
<rect x="61.11" y="400.68" width="1.06" height="28.47" fill="#f6886b"/>
<rect x="63.70" y="400.68" width="1.06" height="28.47" fill="#f35137"/>
<rect x="64.56" y="400.68" width="1.06" height="28.47" fill="#f57c5e"/>
<rect x="65.42" y="400.68" width="1.06" height="28.47" fill="#f34a32"/>
<rect x="66.29" y="400.68" width="1.06" height="28.47" fill="#f5785a"/>
<rect x="67.15" y="400.68" width="2.36" height="28.47" fill="#f9cbbc"/>
<rect x="67.15" y="400.68" width="1.21" height="28.47" fill="#f7d4cb"/>
<rect x="68.15" y="400.68" width="1.21" height="28.47" fill="#f8bca9"/>
<rect x="69.16" y="400.68" width="2.36" height="28.47" fill="#b7a0d2"/>
<rect x="70.16" y="400.68" width="1.21" height="28.47" fill="#a486c7"/>
<rect x="71.17" y="400.68" width="2.36" height="28.47" fill="#f3e9ec"/>
<rect x="73.18" y="400.68" width="2.36" height="28.47" fill="#8f6bbb"/>
<rect x="73.18" y="400.68" width="1.21" height="28.47" fill="#7d59b2"/>
<rect x="74.19" y="400.68" width="1.21" height="28.47" fill="#9e7fc4"/>
<rect x="75.19" y="400.68" width="2.36" height="28.47" fill="#f9cbbc"/>
<rect x="77.20" y="400.68" width="2.36" height="28.47" fill="#f3e9ec"/>
<rect x="77.20" y="400.68" width="1.21" height="28.47" fill="#f5ddd8"/>
<rect x="78.21" y="400.68" width="1.21" height="28.47" fill="#eadfea"/>
<rect x="79.22" y="400.68" width="3.37" height="28.47" fill="#f7a188"/>
<rect x="79.22" y="400.68" width="1.21" height="28.47" fill="#f58265"/>
<rect x="82.23" y="400.68" width="8.40" height="28.47" fill="#f46a4a"/>
<rect x="82.23" y="400.68" width="1.09" height="28.47" fill="#f6886c"/>
<rect x="83.13" y="400.68" width="1.09" height="28.47" fill="#f57d5f"/>
<rect x="85.81" y="400.68" width="1.09" height="28.47" fill="#f34931"/>
<rect x="90.28" y="400.68" width="2.36" height="28.47" fill="#b7a0d2"/>
<rect x="90.28" y="400.68" width="1.21" height="28.47" fill="#a98dca"/>
<rect x="92.29" y="400.68" width="3.37" height="28.47" fill="#d9cbe5"/>
<rect x="92.29" y="400.68" width="1.21" height="28.47" fill="#e6dae8"/>
<rect x="93.30" y="400.68" width="1.21" height="28.47" fill="#c5b2da"/>
<rect x="95.31" y="400.68" width="2.36" height="28.47" fill="#8f6bbb"/>
<rect x="95.31" y="400.68" width="1.21" height="28.47" fill="#7f5cb3"/>
<rect x="97.32" y="400.68" width="3.37" height="28.47" fill="#6a47a9"/>
<rect x="98.32" y="400.68" width="1.21" height="28.47" fill="#7955b0"/>
<rect x="100.34" y="400.68" width="2.36" height="28.47" fill="#b7a0d2"/>
<rect x="100.34" y="400.68" width="1.21" height="28.47" fill="#c6b3da"/>
<rect x="101.34" y="400.68" width="1.21" height="28.47" fill="#c1acd8"/>
<rect x="102.35" y="400.68" width="3.37" height="28.47" fill="#8f6bbb"/>
<rect x="102.35" y="400.68" width="1.21" height="28.47" fill="#7f5bb3"/>
<rect x="104.36" y="400.68" width="1.21" height="28.47" fill="#7b57b1"/>
<rect x="105.36" y="400.68" width="3.37" height="28.47" fill="#b7a0d2"/>
<rect x="105.36" y="400.68" width="1.21" height="28.47" fill="#c8b6dc"/>
<rect x="108.38" y="400.68" width="3.37" height="28.47" fill="#8f6bbb"/>
<rect x="111.40" y="400.68" width="3.37" height="28.47" fill="#b7a0d2"/>
<rect x="112.40" y="400.68" width="1.21" height="28.47" fill="#aa8fcb"/>
<rect x="114.41" y="400.68" width="2.36" height="28.47" fill="#6a47a9"/>
<rect x="114.41" y="400.68" width="1.21" height="28.47" fill="#7450ae"/>
<rect x="115.42" y="400.68" width="1.21" height="28.47" fill="#4f349c"/>
<rect x="116.43" y="400.68" width="3.37" height="28.47" fill="#b7a0d2"/>
<rect x="117.43" y="400.68" width="1.21" height="28.47" fill="#c5b2da"/>
<rect x="118.44" y="400.68" width="1.21" height="28.47" fill="#c5b1da"/>
<rect x="119.44" y="400.68" width="2.36" height="28.47" fill="#8f6bbb"/>
<rect x="121.45" y="400.68" width="3.37" height="28.47" fill="#d9cbe5"/>
<rect x="121.45" y="400.68" width="1.21" height="28.47" fill="#cebddf"/>
<rect x="122.46" y="400.68" width="1.21" height="28.47" fill="#c7b4db"/>
<rect x="123.47" y="400.68" width="1.21" height="28.47" fill="#e8dce9"/>
<rect x="124.47" y="400.68" width="2.36" height="28.47" fill="#b7a0d2"/>
<rect x="125.48" y="400.68" width="1.21" height="28.47" fill="#c8b5db"/>
<rect x="126.48" y="400.68" width="3.37" height="28.47" fill="#8f6bbb"/>
<rect x="129.50" y="400.68" width="2.38" height="28.47" fill="#8f6bbb"/>
<rect x="130.52" y="400.68" width="1.22" height="28.47" fill="#a285c6"/>
<rect x="131.53" y="400.68" width="2.38" height="28.47" fill="#6a47a9"/>
<rect x="133.57" y="400.68" width="3.40" height="28.47" fill="#b7a0d2"/>
<rect x="136.62" y="400.68" width="2.38" height="28.47" fill="#8f6bbb"/>
<rect x="136.62" y="400.68" width="1.22" height="28.47" fill="#9f81c4"/>
<rect x="137.64" y="400.68" width="1.22" height="28.47" fill="#8460b6"/>
<rect x="138.66" y="400.68" width="3.40" height="28.47" fill="#b7a0d2"/>
<rect x="138.66" y="400.68" width="1.22" height="28.47" fill="#a081c5"/>
<rect x="139.67" y="400.68" width="1.22" height="28.47" fill="#aa8fcb"/>
<rect x="140.69" y="400.68" width="1.22" height="28.47" fill="#ab91cb"/>
<rect x="141.71" y="400.68" width="2.38" height="28.47" fill="#8f6bbb"/>
<rect x="142.72" y="400.68" width="1.22" height="28.47" fill="#a386c7"/>
<rect x="143.74" y="400.68" width="3.40" height="28.47" fill="#d9cbe5"/>
<rect x="143.74" y="400.68" width="1.22" height="28.47" fill="#e6dae9"/>
<rect x="144.76" y="400.68" width="1.22" height="28.47" fill="#e4d7e8"/>
<rect x="145.78" y="400.68" width="1.22" height="28.47" fill="#c6b4db"/>
<rect x="146.79" y="400.68" width="2.38" height="28.47" fill="#f3e9ec"/>
<rect x="146.79" y="400.68" width="1.22" height="28.47" fill="#f5e1df"/>
<rect x="148.83" y="400.68" width="2.38" height="28.47" fill="#b7a0d2"/>
<rect x="148.83" y="400.68" width="1.22" height="28.47" fill="#a487c7"/>
<rect x="150.86" y="400.68" width="2.38" height="28.47" fill="#f7a188"/>
<rect x="150.86" y="400.68" width="1.22" height="28.47" fill="#f68d71"/>
<rect x="151.88" y="400.68" width="1.22" height="28.47" fill="#f68f73"/>
<rect x="152.90" y="400.68" width="2.38" height="28.47" fill="#d9cbe5"/>
<rect x="152.90" y="400.68" width="1.22" height="28.47" fill="#c9b7dc"/>
<rect x="154.93" y="400.68" width="3.40" height="28.47" fill="#f3e9ec"/>
<rect x="154.93" y="400.68" width="1.22" height="28.47" fill="#e5d8e8"/>
<rect x="155.95" y="400.68" width="1.22" height="28.47" fill="#e6d9e8"/>
<rect x="156.97" y="400.68" width="1.22" height="28.47" fill="#f5dfdc"/>
<rect x="157.98" y="400.68" width="8.49" height="28.47" fill="#d9cbe5"/>
<rect x="157.98" y="400.68" width="1.10" height="28.47" fill="#c6b3da"/>
<rect x="162.50" y="400.68" width="1.10" height="28.47" fill="#c7b4db"/>
<rect x="163.41" y="400.68" width="1.10" height="28.47" fill="#c8b6dc"/>
<rect x="166.12" y="400.68" width="2.38" height="28.47" fill="#f3e9ec"/>
<rect x="166.12" y="400.68" width="1.22" height="28.47" fill="#ece1ea"/>
<rect x="168.16" y="400.68" width="3.40" height="28.47" fill="#b7a0d2"/>
<rect x="170.19" y="400.68" width="1.22" height="28.47" fill="#cab8dc"/>
<rect x="171.21" y="400.68" width="2.38" height="28.47" fill="#8f6bbb"/>
<rect x="171.21" y="400.68" width="1.22" height="28.47" fill="#8561b6"/>
<rect x="172.22" y="400.68" width="1.22" height="28.47" fill="#7b58b1"/>
<rect x="173.24" y="400.68" width="2.38" height="28.47" fill="#b7a0d2"/>
<rect x="174.26" y="400.68" width="1.22" height="28.47" fill="#aa8fcb"/>
<rect x="175.28" y="400.68" width="2.38" height="28.47" fill="#f9cbbc"/>
<rect x="175.28" y="400.68" width="1.22" height="28.47" fill="#f8b39e"/>
<rect x="177.31" y="400.68" width="3.40" height="28.47" fill="#f3e9ec"/>
<rect x="177.31" y="400.68" width="1.22" height="28.47" fill="#f5ddd9"/>
<rect x="179.34" y="400.68" width="1.22" height="28.47" fill="#ece1ea"/>
<rect x="180.36" y="400.68" width="2.38" height="28.47" fill="#6a47a9"/>
<rect x="182.40" y="400.68" width="4.42" height="28.47" fill="#8f6bbb"/>
<rect x="183.21" y="400.68" width="1.01" height="28.47" fill="#805cb4"/>
<rect x="184.02" y="400.68" width="1.01" height="28.47" fill="#835fb5"/>
<rect x="186.47" y="400.68" width="2.38" height="28.47" fill="#6a47a9"/>
<rect x="188.50" y="400.68" width="3.40" height="28.47" fill="#8f6bbb"/>
<rect x="188.50" y="400.68" width="1.22" height="28.47" fill="#7f5cb3"/>
<rect x="189.52" y="400.68" width="1.22" height="28.47" fill="#a081c5"/>
<rect x="191.55" y="400.68" width="2.38" height="28.47" fill="#6a47a9"/>
<rect x="193.59" y="400.68" width="3.40" height="28.47" fill="#8f6bbb"/>
<rect x="195.62" y="400.68" width="1.22" height="28.47" fill="#825eb5"/>
<rect x="196.64" y="400.68" width="5.44" height="28.47" fill="#f3e9ec"/>
<rect x="197.49" y="400.68" width="1.05" height="28.47" fill="#f5dedb"/>
<rect x="198.33" y="400.68" width="1.05" height="28.47" fill="#f5dfdc"/>
<rect x="200.88" y="400.68" width="1.05" height="28.47" fill="#f6d9d3"/>
<rect x="201.72" y="400.68" width="2.38" height="28.47" fill="#d9cbe5"/>
<rect x="202.74" y="400.68" width="1.22" height="28.47" fill="#c7b4db"/>
<rect x="203.76" y="400.68" width="2.38" height="28.47" fill="#f3e9ec"/>
<rect x="203.76" y="400.68" width="1.22" height="28.47" fill="#f5e1de"/>
<rect x="204.78" y="400.68" width="1.22" height="28.47" fill="#f5deda"/>
<rect x="205.79" y="400.68" width="2.38" height="28.47" fill="#b7a0d2"/>
<rect x="205.79" y="400.68" width="1.22" height="28.47" fill="#ac91cc"/>
<rect x="206.81" y="400.68" width="1.22" height="28.47" fill="#c5b2da"/>
<rect x="207.83" y="400.68" width="2.38" height="28.47" fill="#f7a188"/>
<rect x="209.86" y="400.68" width="2.38" height="28.47" fill="#d9cbe5"/>
<rect x="209.86" y="400.68" width="1.22" height="28.47" fill="#e7dbe9"/>
<rect x="210.88" y="400.68" width="1.22" height="28.47" fill="#e2d6e7"/>
<rect x="211.90" y="400.68" width="2.38" height="28.47" fill="#f9cbbc"/>
<rect x="211.90" y="400.68" width="1.22" height="28.47" fill="#f8b29d"/>
<rect x="213.93" y="400.68" width="2.38" height="28.47" fill="#b7a0d2"/>
<rect x="215.97" y="400.68" width="2.38" height="28.47" fill="#8f6bbb"/>
<rect x="41.00" y="428.85" width="1.37" height="28.47" fill="#f9cbbc"/>
<rect x="42.02" y="428.85" width="1.37" height="28.47" fill="#f7a188"/>
<rect x="43.03" y="428.85" width="2.38" height="28.47" fill="#f3e9ec"/>
<rect x="45.07" y="428.85" width="3.40" height="28.47" fill="#f46a4a"/>
<rect x="47.10" y="428.85" width="1.22" height="28.47" fill="#f34830"/>
<rect x="48.12" y="428.85" width="3.40" height="28.47" fill="#f7a188"/>
<rect x="49.14" y="428.85" width="1.22" height="28.47" fill="#f8b8a5"/>
<rect x="51.17" y="428.85" width="5.44" height="28.47" fill="#f46a4a"/>
<rect x="51.17" y="428.85" width="1.05" height="28.47" fill="#f5795b"/>
<rect x="52.87" y="428.85" width="1.05" height="28.47" fill="#f58468"/>
<rect x="53.72" y="428.85" width="1.05" height="28.47" fill="#f58468"/>
<rect x="56.26" y="428.85" width="2.38" height="28.47" fill="#f22d1c"/>
<rect x="56.26" y="428.85" width="1.22" height="28.47" fill="#f22d1c"/>
<rect x="58.29" y="428.85" width="3.40" height="28.47" fill="#f46a4a"/>
<rect x="59.31" y="428.85" width="1.22" height="28.47" fill="#f34d34"/>
<rect x="60.33" y="428.85" width="1.22" height="28.47" fill="#f57d60"/>
<rect x="61.34" y="428.85" width="2.38" height="28.47" fill="#f7a188"/>
<rect x="62.36" y="428.85" width="1.22" height="28.47" fill="#f8b29d"/>
<rect x="63.38" y="428.85" width="3.40" height="28.47" fill="#f3e9ec"/>
<rect x="63.38" y="428.85" width="1.22" height="28.47" fill="#e6dae9"/>
<rect x="64.40" y="428.85" width="1.22" height="28.47" fill="#f6d8d1"/>
<rect x="65.41" y="428.85" width="1.22" height="28.47" fill="#ece1ea"/>
<rect x="66.43" y="428.85" width="2.38" height="28.47" fill="#d9cbe5"/>
<rect x="66.43" y="428.85" width="1.22" height="28.47" fill="#d0c0e0"/>
<rect x="67.45" y="428.85" width="1.22" height="28.47" fill="#e3d7e8"/>
<rect x="68.47" y="428.85" width="2.38" height="28.47" fill="#f7a188"/>
<rect x="68.47" y="428.85" width="1.22" height="28.47" fill="#f8b39e"/>
<rect x="69.48" y="428.85" width="1.22" height="28.47" fill="#f8b8a5"/>
<rect x="70.50" y="428.85" width="2.38" height="28.47" fill="#b7a0d2"/>
<rect x="72.53" y="428.85" width="2.38" height="28.47" fill="#8f6bbb"/>
<rect x="74.57" y="428.85" width="2.38" height="28.47" fill="#b7a0d2"/>
<rect x="75.59" y="428.85" width="1.22" height="28.47" fill="#cbb9dd"/>
<rect x="76.60" y="428.85" width="2.38" height="28.47" fill="#f7a188"/>
<rect x="78.64" y="428.85" width="2.38" height="28.47" fill="#b7a0d2"/>
<rect x="78.64" y="428.85" width="1.22" height="28.47" fill="#a487c7"/>
<rect x="80.67" y="428.85" width="2.38" height="28.47" fill="#8f6bbb"/>
<rect x="81.69" y="428.85" width="1.22" height="28.47" fill="#a183c5"/>
<rect x="82.71" y="428.85" width="8.49" height="28.47" fill="#d9cbe5"/>
<rect x="82.71" y="428.85" width="1.10" height="28.47" fill="#e3d7e8"/>
<rect x="90.84" y="428.85" width="2.38" height="28.47" fill="#6a47a9"/>
<rect x="91.86" y="428.85" width="1.22" height="28.47" fill="#7b57b1"/>
<rect x="92.88" y="428.85" width="3.40" height="28.47" fill="#b7a0d2"/>
<rect x="93.90" y="428.85" width="1.22" height="28.47" fill="#a081c5"/>
<rect x="94.91" y="428.85" width="1.22" height="28.47" fill="#c8b6dc"/>
<rect x="95.93" y="428.85" width="3.40" height="28.47" fill="#8f6bbb"/>
<rect x="95.93" y="428.85" width="1.22" height="28.47" fill="#7956b0"/>
<rect x="96.95" y="428.85" width="1.22" height="28.47" fill="#a284c6"/>
<rect x="97.97" y="428.85" width="1.22" height="28.47" fill="#825eb5"/>
<rect x="98.98" y="428.85" width="3.40" height="28.47" fill="#b7a0d2"/>
<rect x="98.98" y="428.85" width="1.22" height="28.47" fill="#a88dca"/>
<rect x="100.00" y="428.85" width="1.22" height="28.47" fill="#aa8fcb"/>
<rect x="101.02" y="428.85" width="1.22" height="28.47" fill="#a588c7"/>
<rect x="102.03" y="428.85" width="3.40" height="28.47" fill="#8f6bbb"/>
<rect x="102.03" y="428.85" width="1.22" height="28.47" fill="#a081c5"/>
<rect x="103.05" y="428.85" width="1.22" height="28.47" fill="#9b7ac2"/>
<rect x="104.07" y="428.85" width="1.22" height="28.47" fill="#9c7cc2"/>
<rect x="105.09" y="428.85" width="3.40" height="28.47" fill="#b7a0d2"/>
<rect x="107.12" y="428.85" width="1.22" height="28.47" fill="#a689c8"/>
<rect x="108.14" y="428.85" width="2.38" height="28.47" fill="#8f6bbb"/>
<rect x="110.17" y="428.85" width="3.40" height="28.47" fill="#b7a0d2"/>
<rect x="113.22" y="428.85" width="3.40" height="28.47" fill="#8f6bbb"/>
<rect x="113.22" y="428.85" width="1.22" height="28.47" fill="#7a56b1"/>
<rect x="114.24" y="428.85" width="1.22" height="28.47" fill="#9f81c4"/>
<rect x="116.28" y="428.85" width="2.38" height="28.47" fill="#b7a0d2"/>
<rect x="117.29" y="428.85" width="1.22" height="28.47" fill="#c4b0d9"/>
<rect x="118.31" y="428.85" width="3.40" height="28.47" fill="#6a47a9"/>
<rect x="121.36" y="428.85" width="3.40" height="28.47" fill="#3b2592"/>
<rect x="122.38" y="428.85" width="1.22" height="28.47" fill="#3b2592"/>
<rect x="123.40" y="428.85" width="1.22" height="28.47" fill="#3b2592"/>
<rect x="124.41" y="428.85" width="3.40" height="28.47" fill="#8f6bbb"/>
<rect x="124.41" y="428.85" width="1.22" height="28.47" fill="#a689c8"/>
<rect x="127.47" y="428.85" width="2.38" height="28.47" fill="#b7a0d2"/>
<rect x="127.47" y="428.85" width="1.22" height="28.47" fill="#cbb9dd"/>
<rect x="129.50" y="428.85" width="3.37" height="28.47" fill="#8f6bbb"/>
<rect x="132.52" y="428.85" width="2.36" height="28.47" fill="#b7a0d2"/>
<rect x="133.52" y="428.85" width="1.21" height="28.47" fill="#c5b2da"/>
<rect x="134.53" y="428.85" width="3.37" height="28.47" fill="#8f6bbb"/>
<rect x="135.53" y="428.85" width="1.21" height="28.47" fill="#9b7bc2"/>
<rect x="137.55" y="428.85" width="2.36" height="28.47" fill="#b7a0d2"/>
<rect x="137.55" y="428.85" width="1.21" height="28.47" fill="#ac92cc"/>
<rect x="139.56" y="428.85" width="3.37" height="28.47" fill="#d9cbe5"/>
<rect x="139.56" y="428.85" width="1.21" height="28.47" fill="#e5d9e8"/>
<rect x="141.57" y="428.85" width="1.21" height="28.47" fill="#e7dce9"/>
<rect x="142.57" y="428.85" width="2.36" height="28.47" fill="#8f6bbb"/>
<rect x="142.57" y="428.85" width="1.21" height="28.47" fill="#7c58b2"/>
<rect x="143.58" y="428.85" width="1.21" height="28.47" fill="#7e5ab3"/>
<rect x="144.59" y="428.85" width="3.37" height="28.47" fill="#b7a0d2"/>
<rect x="146.60" y="428.85" width="1.21" height="28.47" fill="#a385c6"/>
<rect x="147.60" y="428.85" width="2.36" height="28.47" fill="#8f6bbb"/>
<rect x="148.61" y="428.85" width="1.21" height="28.47" fill="#a284c6"/>
<rect x="149.61" y="428.85" width="3.37" height="28.47" fill="#b7a0d2"/>
<rect x="149.61" y="428.85" width="1.21" height="28.47" fill="#a386c7"/>
<rect x="151.62" y="428.85" width="1.21" height="28.47" fill="#c0abd7"/>
<rect x="152.63" y="428.85" width="2.36" height="28.47" fill="#d9cbe5"/>
<rect x="152.63" y="428.85" width="1.21" height="28.47" fill="#e7dbe9"/>
<rect x="154.64" y="428.85" width="3.37" height="28.47" fill="#f3e9ec"/>
<rect x="154.64" y="428.85" width="1.21" height="28.47" fill="#e7dbe9"/>
<rect x="155.65" y="428.85" width="1.21" height="28.47" fill="#f5e0de"/>
<rect x="156.65" y="428.85" width="1.21" height="28.47" fill="#eadfea"/>
<rect x="157.66" y="428.85" width="2.36" height="28.47" fill="#f9cbbc"/>
<rect x="158.66" y="428.85" width="1.21" height="28.47" fill="#f7d7cf"/>
<rect x="159.67" y="428.85" width="6.38" height="28.47" fill="#6a47a9"/>
<rect x="159.67" y="428.85" width="1.06" height="28.47" fill="#5739a0"/>
<rect x="161.39" y="428.85" width="1.06" height="28.47" fill="#53369e"/>
<rect x="165.70" y="428.85" width="2.36" height="28.47" fill="#b7a0d2"/>
<rect x="167.72" y="428.85" width="3.37" height="28.47" fill="#d9cbe5"/>
<rect x="167.72" y="428.85" width="1.21" height="28.47" fill="#e4d8e8"/>
<rect x="169.73" y="428.85" width="1.21" height="28.47" fill="#e6dae8"/>
<rect x="170.73" y="428.85" width="2.36" height="28.47" fill="#b7a0d2"/>
<rect x="172.74" y="428.85" width="3.37" height="28.47" fill="#8f6bbb"/>
<rect x="172.74" y="428.85" width="1.21" height="28.47" fill="#815eb4"/>
<rect x="173.75" y="428.85" width="1.21" height="28.47" fill="#a486c7"/>
<rect x="174.76" y="428.85" width="1.21" height="28.47" fill="#a487c7"/>
<rect x="175.76" y="428.85" width="2.36" height="28.47" fill="#b7a0d2"/>
<rect x="175.76" y="428.85" width="1.21" height="28.47" fill="#a487c7"/>
<rect x="177.77" y="428.85" width="2.36" height="28.47" fill="#f7a188"/>
<rect x="179.78" y="428.85" width="2.36" height="28.47" fill="#f3e9ec"/>
<rect x="179.78" y="428.85" width="1.21" height="28.47" fill="#f5ddd8"/>
<rect x="181.80" y="428.85" width="2.36" height="28.47" fill="#8f6bbb"/>
<rect x="182.80" y="428.85" width="1.21" height="28.47" fill="#a385c6"/>
<rect x="183.81" y="428.85" width="3.37" height="28.47" fill="#b7a0d2"/>
<rect x="183.81" y="428.85" width="1.21" height="28.47" fill="#cab8dc"/>
<rect x="184.81" y="428.85" width="1.21" height="28.47" fill="#c7b4db"/>
<rect x="185.82" y="428.85" width="1.21" height="28.47" fill="#a689c8"/>
<rect x="186.82" y="428.85" width="2.36" height="28.47" fill="#d9cbe5"/>
<rect x="188.84" y="428.85" width="2.36" height="28.47" fill="#f3e9ec"/>
<rect x="190.85" y="428.85" width="3.37" height="28.47" fill="#8f6bbb"/>
<rect x="190.85" y="428.85" width="1.21" height="28.47" fill="#a385c6"/>
<rect x="191.85" y="428.85" width="1.21" height="28.47" fill="#8360b5"/>
<rect x="193.86" y="428.85" width="2.36" height="28.47" fill="#b7a0d2"/>
<rect x="193.86" y="428.85" width="1.21" height="28.47" fill="#a486c7"/>
<rect x="195.87" y="428.85" width="3.37" height="28.47" fill="#f3e9ec"/>
<rect x="198.89" y="428.85" width="6.38" height="28.47" fill="#6a47a9"/>
<rect x="199.75" y="428.85" width="1.06" height="28.47" fill="#7c59b2"/>
<rect x="203.20" y="428.85" width="1.06" height="28.47" fill="#7f5bb3"/>
<rect x="204.93" y="428.85" width="2.36" height="28.47" fill="#b7a0d2"/>
<rect x="204.93" y="428.85" width="1.21" height="28.47" fill="#a98dca"/>
<rect x="206.94" y="428.85" width="3.37" height="28.47" fill="#d9cbe5"/>
<rect x="207.94" y="428.85" width="1.21" height="28.47" fill="#cdbcde"/>
<rect x="208.95" y="428.85" width="1.21" height="28.47" fill="#e0d3e7"/>
<rect x="209.95" y="428.85" width="2.36" height="28.47" fill="#8f6bbb"/>
<rect x="211.97" y="428.85" width="3.37" height="28.47" fill="#b7a0d2"/>
<rect x="212.97" y="428.85" width="1.21" height="28.47" fill="#c0acd7"/>
<rect x="214.98" y="428.85" width="3.37" height="28.47" fill="#8f6bbb"/>
<rect x="260.00" y="288.60" width="3.28" height="28.47" fill="#f7a188"/>
<rect x="261.96" y="288.60" width="1.18" height="28.47" fill="#f8af99"/>
<rect x="262.93" y="288.60" width="2.31" height="28.47" fill="#f9cbbc"/>
<rect x="262.93" y="288.60" width="1.18" height="28.47" fill="#f8b39f"/>
<rect x="264.89" y="288.60" width="3.28" height="28.47" fill="#f7a188"/>
<rect x="265.87" y="288.60" width="1.18" height="28.47" fill="#f8b9a6"/>
<rect x="267.82" y="288.60" width="2.31" height="28.47" fill="#f46a4a"/>
<rect x="267.82" y="288.60" width="1.18" height="28.47" fill="#f6876b"/>
<rect x="269.78" y="288.60" width="2.31" height="28.47" fill="#f7a188"/>
<rect x="271.74" y="288.60" width="5.24" height="28.47" fill="#f22d1c"/>
<rect x="272.71" y="288.60" width="1.18" height="28.47" fill="#f22d1c"/>
<rect x="276.63" y="288.60" width="3.28" height="28.47" fill="#f46a4a"/>
<rect x="276.63" y="288.60" width="1.18" height="28.47" fill="#f3462f"/>
<rect x="277.60" y="288.60" width="1.18" height="28.47" fill="#f58467"/>
<rect x="278.58" y="288.60" width="1.18" height="28.47" fill="#f58366"/>
<rect x="279.56" y="288.60" width="2.31" height="28.47" fill="#f7a188"/>
<rect x="279.56" y="288.60" width="1.18" height="28.47" fill="#f6876a"/>
<rect x="280.54" y="288.60" width="1.18" height="28.47" fill="#f8b6a2"/>
<rect x="281.52" y="288.60" width="3.28" height="28.47" fill="#f9cbbc"/>
<rect x="282.49" y="288.60" width="1.18" height="28.47" fill="#f8b39f"/>
<rect x="283.47" y="288.60" width="1.18" height="28.47" fill="#f8bcaa"/>
<rect x="284.45" y="288.60" width="2.31" height="28.47" fill="#f7a188"/>
<rect x="286.41" y="288.60" width="3.28" height="28.47" fill="#f46a4a"/>
<rect x="288.36" y="288.60" width="1.18" height="28.47" fill="#f57b5d"/>
<rect x="289.34" y="288.60" width="2.31" height="28.47" fill="#f7a188"/>
<rect x="289.34" y="288.60" width="1.18" height="28.47" fill="#f8b7a3"/>
<rect x="290.32" y="288.60" width="1.18" height="28.47" fill="#f8ae99"/>
<rect x="291.30" y="288.60" width="3.28" height="28.47" fill="#f9cbbc"/>
<rect x="291.30" y="288.60" width="1.18" height="28.47" fill="#f8b8a4"/>
<rect x="292.27" y="288.60" width="1.18" height="28.47" fill="#f8b49f"/>
<rect x="293.25" y="288.60" width="1.18" height="28.47" fill="#f6dad5"/>
<rect x="294.23" y="288.60" width="2.31" height="28.47" fill="#f7a188"/>
<rect x="294.23" y="288.60" width="1.18" height="28.47" fill="#f58265"/>
<rect x="296.19" y="288.60" width="2.31" height="28.47" fill="#f46a4a"/>
<rect x="298.14" y="288.60" width="1.33" height="28.47" fill="#f3e9ec"/>
<rect x="299.12" y="288.60" width="2.31" height="28.47" fill="#b7a0d2"/>
<rect x="299.12" y="288.60" width="1.18" height="28.47" fill="#a78bc9"/>
<rect x="300.10" y="288.60" width="1.18" height="28.47" fill="#c0abd7"/>
<rect x="301.08" y="288.60" width="3.28" height="28.47" fill="#f3e9ec"/>
<rect x="303.03" y="288.60" width="1.18" height="28.47" fill="#e8dce9"/>
<rect x="304.01" y="288.60" width="2.31" height="28.47" fill="#f9cbbc"/>
<rect x="304.01" y="288.60" width="1.18" height="28.47" fill="#f8baa7"/>
<rect x="305.97" y="288.60" width="3.28" height="28.47" fill="#f3e9ec"/>
<rect x="305.97" y="288.60" width="1.18" height="28.47" fill="#f6dbd6"/>
<rect x="306.95" y="288.60" width="1.18" height="28.47" fill="#f7d7cf"/>
<rect x="308.90" y="288.60" width="2.31" height="28.47" fill="#f7a188"/>
<rect x="308.90" y="288.60" width="1.18" height="28.47" fill="#f8b39e"/>
<rect x="310.86" y="288.60" width="2.31" height="28.47" fill="#8f6bbb"/>
<rect x="312.81" y="288.60" width="2.31" height="28.47" fill="#f9cbbc"/>
<rect x="314.77" y="288.60" width="2.31" height="28.47" fill="#8f6bbb"/>
<rect x="314.77" y="288.60" width="1.18" height="28.47" fill="#a082c5"/>
<rect x="316.73" y="288.60" width="2.31" height="28.47" fill="#f3e9ec"/>
<rect x="316.73" y="288.60" width="1.18" height="28.47" fill="#e8dce9"/>
<rect x="318.68" y="288.60" width="6.22" height="28.47" fill="#d9cbe5"/>
<rect x="318.68" y="288.60" width="1.04" height="28.47" fill="#cdbcde"/>
<rect x="322.03" y="288.60" width="1.04" height="28.47" fill="#d0c0e0"/>
<rect x="323.71" y="288.60" width="1.04" height="28.47" fill="#d0bfe0"/>
<rect x="324.55" y="288.60" width="2.31" height="28.47" fill="#f3e9ec"/>
<rect x="324.55" y="288.60" width="1.18" height="28.47" fill="#ece1ea"/>
<rect x="326.51" y="288.60" width="3.28" height="28.47" fill="#8f6bbb"/>
<rect x="328.46" y="288.60" width="1.18" height="28.47" fill="#a284c6"/>
<rect x="329.44" y="288.60" width="2.31" height="28.47" fill="#b7a0d2"/>
<rect x="329.44" y="288.60" width="1.18" height="28.47" fill="#a081c5"/>
<rect x="331.40" y="288.60" width="2.31" height="28.47" fill="#8f6bbb"/>
<rect x="332.37" y="288.60" width="1.18" height="28.47" fill="#825eb5"/>
<rect x="333.35" y="288.60" width="2.31" height="28.47" fill="#b7a0d2"/>
<rect x="333.35" y="288.60" width="1.18" height="28.47" fill="#c9b7dc"/>
<rect x="334.33" y="288.60" width="1.18" height="28.47" fill="#ab90cb"/>
<rect x="335.31" y="288.60" width="2.31" height="28.47" fill="#f3e9ec"/>
<rect x="335.31" y="288.60" width="1.18" height="28.47" fill="#ebdfea"/>
<rect x="336.29" y="288.60" width="1.18" height="28.47" fill="#e7dce9"/>
<rect x="337.26" y="288.60" width="2.31" height="28.47" fill="#8f6bbb"/>
<rect x="337.26" y="288.60" width="1.18" height="28.47" fill="#a68ac8"/>
<rect x="339.22" y="288.60" width="2.31" height="28.47" fill="#d9cbe5"/>
<rect x="340.20" y="288.60" width="1.18" height="28.47" fill="#cbb9dd"/>
<rect x="341.18" y="288.60" width="3.28" height="28.47" fill="#f7a188"/>
<rect x="343.13" y="288.60" width="1.18" height="28.47" fill="#f8b9a6"/>
<rect x="344.11" y="288.60" width="2.31" height="28.47" fill="#f3e9ec"/>
<rect x="345.09" y="288.60" width="1.18" height="28.47" fill="#f5e1df"/>
<rect x="346.07" y="288.60" width="3.28" height="28.47" fill="#f7a188"/>
<rect x="349.00" y="288.60" width="3.32" height="28.47" fill="#f7a188"/>
<rect x="349.00" y="288.60" width="1.19" height="28.47" fill="#f6896d"/>
<rect x="351.97" y="288.60" width="2.33" height="28.47" fill="#f9cbbc"/>
<rect x="351.97" y="288.60" width="1.19" height="28.47" fill="#f8b49f"/>
<rect x="352.96" y="288.60" width="1.19" height="28.47" fill="#f7d7ce"/>
<rect x="353.94" y="288.60" width="2.33" height="28.47" fill="#f3e9ec"/>
<rect x="355.92" y="288.60" width="3.32" height="28.47" fill="#f7a188"/>
<rect x="355.92" y="288.60" width="1.19" height="28.47" fill="#f68a6e"/>
<rect x="358.89" y="288.60" width="2.33" height="28.47" fill="#f46a4a"/>
<rect x="359.88" y="288.60" width="1.19" height="28.47" fill="#f58164"/>
<rect x="360.87" y="288.60" width="2.33" height="28.47" fill="#f3e9ec"/>
<rect x="360.87" y="288.60" width="1.19" height="28.47" fill="#e7dbe9"/>
<rect x="362.84" y="288.60" width="3.32" height="28.47" fill="#f9cbbc"/>
<rect x="362.84" y="288.60" width="1.19" height="28.47" fill="#f7d5cd"/>
<rect x="363.83" y="288.60" width="1.19" height="28.47" fill="#f6d9d2"/>
<rect x="364.82" y="288.60" width="1.19" height="28.47" fill="#f6dcd7"/>
<rect x="365.81" y="288.60" width="2.33" height="28.47" fill="#f7a188"/>
<rect x="367.79" y="288.60" width="3.32" height="28.47" fill="#f46a4a"/>
<rect x="367.79" y="288.60" width="1.19" height="28.47" fill="#f57a5c"/>
<rect x="368.78" y="288.60" width="1.19" height="28.47" fill="#f3563b"/>
<rect x="369.77" y="288.60" width="1.19" height="28.47" fill="#f58062"/>
<rect x="370.76" y="288.60" width="4.31" height="28.47" fill="#f7a188"/>
<rect x="371.74" y="288.60" width="1.19" height="28.47" fill="#f8b09a"/>
<rect x="372.73" y="288.60" width="1.19" height="28.47" fill="#f8b39e"/>
<rect x="373.72" y="288.60" width="1.19" height="28.47" fill="#f6876b"/>
<rect x="374.71" y="288.60" width="2.33" height="28.47" fill="#f9cbbc"/>
<rect x="376.69" y="288.60" width="5.29" height="28.47" fill="#f46a4a"/>
<rect x="377.68" y="288.60" width="1.19" height="28.47" fill="#f34730"/>
<rect x="378.67" y="288.60" width="1.19" height="28.47" fill="#f58568"/>
<rect x="381.63" y="288.60" width="3.32" height="28.47" fill="#f7a188"/>
<rect x="384.60" y="288.60" width="2.33" height="28.47" fill="#f3e9ec"/>
<rect x="386.58" y="288.60" width="3.32" height="28.47" fill="#d9cbe5"/>
<rect x="386.58" y="288.60" width="1.19" height="28.47" fill="#c6b3da"/>
<rect x="387.57" y="288.60" width="1.19" height="28.47" fill="#e3d6e8"/>
<rect x="388.56" y="288.60" width="1.19" height="28.47" fill="#e7dbe9"/>
<rect x="389.54" y="288.60" width="2.33" height="28.47" fill="#f3e9ec"/>
<rect x="389.54" y="288.60" width="1.19" height="28.47" fill="#e5d8e8"/>
<rect x="391.52" y="288.60" width="2.33" height="28.47" fill="#b7a0d2"/>
<rect x="391.52" y="288.60" width="1.19" height="28.47" fill="#a385c6"/>
<rect x="393.50" y="288.60" width="3.32" height="28.47" fill="#f3e9ec"/>
<rect x="395.48" y="288.60" width="1.19" height="28.47" fill="#f5deda"/>
<rect x="396.47" y="288.60" width="2.33" height="28.47" fill="#d9cbe5"/>
<rect x="398.44" y="288.60" width="3.32" height="28.47" fill="#f7a188"/>
<rect x="398.44" y="288.60" width="1.19" height="28.47" fill="#f8ae98"/>
<rect x="401.41" y="288.60" width="2.33" height="28.47" fill="#8f6bbb"/>
<rect x="401.41" y="288.60" width="1.19" height="28.47" fill="#7e5bb3"/>
<rect x="403.39" y="288.60" width="3.32" height="28.47" fill="#d9cbe5"/>
<rect x="405.37" y="288.60" width="1.19" height="28.47" fill="#cebddf"/>
<rect x="406.36" y="288.60" width="2.33" height="28.47" fill="#b7a0d2"/>
<rect x="406.36" y="288.60" width="1.19" height="28.47" fill="#c5b2da"/>
<rect x="408.33" y="288.60" width="2.33" height="28.47" fill="#6a47a9"/>
<rect x="408.33" y="288.60" width="1.19" height="28.47" fill="#7855b0"/>
<rect x="410.31" y="288.60" width="2.33" height="28.47" fill="#d9cbe5"/>
<rect x="410.31" y="288.60" width="1.19" height="28.47" fill="#e4d7e8"/>
<rect x="412.29" y="288.60" width="3.32" height="28.47" fill="#8f6bbb"/>
<rect x="415.26" y="288.60" width="3.32" height="28.47" fill="#b7a0d2"/>
<rect x="417.23" y="288.60" width="1.19" height="28.47" fill="#c1add8"/>
<rect x="418.22" y="288.60" width="2.33" height="28.47" fill="#8f6bbb"/>
<rect x="418.22" y="288.60" width="1.19" height="28.47" fill="#9e7fc4"/>
<rect x="419.21" y="288.60" width="1.19" height="28.47" fill="#9d7ec3"/>
<rect x="420.20" y="288.60" width="2.33" height="28.47" fill="#d9cbe5"/>
<rect x="421.19" y="288.60" width="1.19" height="28.47" fill="#e4d8e8"/>
<rect x="422.18" y="288.60" width="2.33" height="28.47" fill="#f3e9ec"/>
<rect x="422.18" y="288.60" width="1.19" height="28.47" fill="#e7dbe9"/>
<rect x="423.17" y="288.60" width="1.19" height="28.47" fill="#e6dae9"/>
<rect x="424.16" y="288.60" width="2.33" height="28.47" fill="#b7a0d2"/>
<rect x="426.13" y="288.60" width="3.32" height="28.47" fill="#8f6bbb"/>
<rect x="426.13" y="288.60" width="1.19" height="28.47" fill="#8662b6"/>
<rect x="429.10" y="288.60" width="2.33" height="28.47" fill="#b7a0d2"/>
<rect x="429.10" y="288.60" width="1.19" height="28.47" fill="#ad92cc"/>
<rect x="430.09" y="288.60" width="1.19" height="28.47" fill="#a082c5"/>
<rect x="431.08" y="288.60" width="3.32" height="28.47" fill="#8f6bbb"/>
<rect x="432.07" y="288.60" width="1.19" height="28.47" fill="#8460b6"/>
<rect x="433.06" y="288.60" width="1.19" height="28.47" fill="#9e7fc4"/>
<rect x="434.04" y="288.60" width="2.33" height="28.47" fill="#d9cbe5"/>
<rect x="434.04" y="288.60" width="1.19" height="28.47" fill="#e7dbe9"/>
<rect x="436.02" y="288.60" width="2.33" height="28.47" fill="#f3e9ec"/>
<rect x="260.00" y="316.77" width="3.32" height="28.47" fill="#b7a0d2"/>
<rect x="261.98" y="316.77" width="1.19" height="28.47" fill="#aa8fcb"/>
<rect x="262.97" y="316.77" width="2.33" height="28.47" fill="#f46a4a"/>
<rect x="262.97" y="316.77" width="1.19" height="28.47" fill="#f57a5c"/>
<rect x="263.96" y="316.77" width="1.19" height="28.47" fill="#f6876b"/>
<rect x="264.94" y="316.77" width="2.33" height="28.47" fill="#f7a188"/>
<rect x="266.92" y="316.77" width="2.33" height="28.47" fill="#f9cbbc"/>
<rect x="268.90" y="316.77" width="2.33" height="28.47" fill="#f46a4a"/>
<rect x="268.90" y="316.77" width="1.19" height="28.47" fill="#f34e35"/>
<rect x="270.88" y="316.77" width="2.33" height="28.47" fill="#f3e9ec"/>
<rect x="272.86" y="316.77" width="3.32" height="28.47" fill="#d9cbe5"/>
<rect x="272.86" y="316.77" width="1.19" height="28.47" fill="#c8b5db"/>
<rect x="273.84" y="316.77" width="1.19" height="28.47" fill="#e7dbe9"/>
<rect x="274.83" y="316.77" width="1.19" height="28.47" fill="#ccbbde"/>
<rect x="275.82" y="316.77" width="2.33" height="28.47" fill="#8f6bbb"/>
<rect x="275.82" y="316.77" width="1.19" height="28.47" fill="#9f80c4"/>
<rect x="277.80" y="316.77" width="3.32" height="28.47" fill="#f7a188"/>
<rect x="278.79" y="316.77" width="1.19" height="28.47" fill="#f68e73"/>
<rect x="280.77" y="316.77" width="2.33" height="28.47" fill="#f9cbbc"/>
<rect x="280.77" y="316.77" width="1.19" height="28.47" fill="#f7d3c8"/>
<rect x="282.74" y="316.77" width="2.33" height="28.47" fill="#f7a188"/>
<rect x="282.74" y="316.77" width="1.19" height="28.47" fill="#f8b39f"/>
<rect x="283.73" y="316.77" width="1.19" height="28.47" fill="#f8b9a5"/>
<rect x="284.72" y="316.77" width="3.32" height="28.47" fill="#f46a4a"/>
<rect x="285.71" y="316.77" width="1.19" height="28.47" fill="#f34e35"/>
<rect x="286.70" y="316.77" width="1.19" height="28.47" fill="#f58063"/>
<rect x="287.69" y="316.77" width="3.32" height="28.47" fill="#f7a188"/>
<rect x="287.69" y="316.77" width="1.19" height="28.47" fill="#f8b6a2"/>
<rect x="288.68" y="316.77" width="1.19" height="28.47" fill="#f68f74"/>
<rect x="290.66" y="316.77" width="2.33" height="28.47" fill="#f9cbbc"/>
<rect x="292.63" y="316.77" width="3.32" height="28.47" fill="#f3e9ec"/>
<rect x="293.62" y="316.77" width="1.19" height="28.47" fill="#e8dde9"/>
<rect x="294.61" y="316.77" width="1.19" height="28.47" fill="#e6dae8"/>
<rect x="295.60" y="316.77" width="2.33" height="28.47" fill="#b7a0d2"/>
<rect x="295.60" y="316.77" width="1.19" height="28.47" fill="#c6b3da"/>
<rect x="297.58" y="316.77" width="3.32" height="28.47" fill="#f9cbbc"/>
<rect x="297.58" y="316.77" width="1.19" height="28.47" fill="#f6dbd5"/>
<rect x="298.57" y="316.77" width="1.19" height="28.47" fill="#f7d7cf"/>
<rect x="299.56" y="316.77" width="1.19" height="28.47" fill="#f6dcd7"/>
<rect x="300.54" y="316.77" width="5.29" height="28.47" fill="#f46a4a"/>
<rect x="301.53" y="316.77" width="1.19" height="28.47" fill="#f57c5f"/>
<rect x="303.51" y="316.77" width="1.19" height="28.47" fill="#f3563b"/>
<rect x="304.50" y="316.77" width="1.19" height="28.47" fill="#f3563b"/>
<rect x="305.49" y="316.77" width="3.32" height="28.47" fill="#f22d1c"/>
<rect x="305.49" y="316.77" width="1.19" height="28.47" fill="#f34730"/>
<rect x="308.46" y="316.77" width="2.33" height="28.47" fill="#f46a4a"/>
<rect x="308.46" y="316.77" width="1.19" height="28.47" fill="#f58164"/>
<rect x="309.44" y="316.77" width="1.19" height="28.47" fill="#f35137"/>
<rect x="310.43" y="316.77" width="2.33" height="28.47" fill="#f3e9ec"/>
<rect x="312.41" y="316.77" width="2.33" height="28.47" fill="#f7a188"/>
<rect x="314.39" y="316.77" width="1.34" height="28.47" fill="#f3e9ec"/>
<rect x="315.38" y="316.77" width="3.32" height="28.47" fill="#b7a0d2"/>
<rect x="315.38" y="316.77" width="1.19" height="28.47" fill="#c9b7dc"/>
<rect x="316.37" y="316.77" width="1.19" height="28.47" fill="#c0acd7"/>
<rect x="317.36" y="316.77" width="1.19" height="28.47" fill="#c2aed8"/>
<rect x="318.34" y="316.77" width="2.33" height="28.47" fill="#f3e9ec"/>
<rect x="319.33" y="316.77" width="1.19" height="28.47" fill="#f5e1df"/>
<rect x="320.32" y="316.77" width="3.32" height="28.47" fill="#d9cbe5"/>
<rect x="320.32" y="316.77" width="1.19" height="28.47" fill="#e9dde9"/>
<rect x="321.31" y="316.77" width="1.19" height="28.47" fill="#ccbbde"/>
<rect x="322.30" y="316.77" width="1.19" height="28.47" fill="#e2d5e7"/>
<rect x="323.29" y="316.77" width="2.33" height="28.47" fill="#f9cbbc"/>
<rect x="323.29" y="316.77" width="1.19" height="28.47" fill="#f8bfad"/>
<rect x="325.27" y="316.77" width="3.32" height="28.47" fill="#f3e9ec"/>
<rect x="325.27" y="316.77" width="1.19" height="28.47" fill="#e9dde9"/>
<rect x="326.26" y="316.77" width="1.19" height="28.47" fill="#f5dedb"/>
<rect x="328.23" y="316.77" width="2.33" height="28.47" fill="#8f6bbb"/>
<rect x="330.21" y="316.77" width="3.32" height="28.47" fill="#f9cbbc"/>
<rect x="330.21" y="316.77" width="1.19" height="28.47" fill="#f8bcaa"/>
<rect x="332.19" y="316.77" width="1.19" height="28.47" fill="#f8b9a5"/>
<rect x="333.18" y="316.77" width="2.33" height="28.47" fill="#f3e9ec"/>
<rect x="335.16" y="316.77" width="3.32" height="28.47" fill="#f9cbbc"/>
<rect x="336.14" y="316.77" width="1.19" height="28.47" fill="#f7d7cf"/>
<rect x="337.13" y="316.77" width="1.19" height="28.47" fill="#f7d7d0"/>
<rect x="338.12" y="316.77" width="2.33" height="28.47" fill="#f22d1c"/>
<rect x="338.12" y="316.77" width="1.19" height="28.47" fill="#f34d34"/>
<rect x="340.10" y="316.77" width="2.33" height="28.47" fill="#b7a0d2"/>
<rect x="340.10" y="316.77" width="1.19" height="28.47" fill="#a689c8"/>
<rect x="341.09" y="316.77" width="1.19" height="28.47" fill="#a284c6"/>
<rect x="342.08" y="316.77" width="2.33" height="28.47" fill="#f3e9ec"/>
<rect x="342.08" y="316.77" width="1.19" height="28.47" fill="#f6dad4"/>
<rect x="343.07" y="316.77" width="1.19" height="28.47" fill="#f6dad5"/>
<rect x="344.06" y="316.77" width="3.32" height="28.47" fill="#b7a0d2"/>
<rect x="345.04" y="316.77" width="1.19" height="28.47" fill="#c1add8"/>
<rect x="346.03" y="316.77" width="1.19" height="28.47" fill="#c3afd9"/>
<rect x="347.02" y="316.77" width="2.33" height="28.47" fill="#f7a188"/>
<rect x="349.00" y="316.77" width="3.25" height="28.47" fill="#f7a188"/>
<rect x="351.90" y="316.77" width="2.28" height="28.47" fill="#f46a4a"/>
<rect x="353.84" y="316.77" width="3.25" height="28.47" fill="#f46a4a"/>
<rect x="353.84" y="316.77" width="1.17" height="28.47" fill="#f57b5e"/>
<rect x="356.74" y="316.77" width="2.28" height="28.47" fill="#f7a188"/>
<rect x="357.71" y="316.77" width="1.17" height="28.47" fill="#f6886c"/>
<rect x="358.67" y="316.77" width="3.25" height="28.47" fill="#f46a4a"/>
<rect x="358.67" y="316.77" width="1.17" height="28.47" fill="#f35036"/>
<rect x="361.58" y="316.77" width="2.28" height="28.47" fill="#f7a188"/>
<rect x="362.54" y="316.77" width="1.17" height="28.47" fill="#f6886c"/>
<rect x="363.51" y="316.77" width="2.28" height="28.47" fill="#f3e9ec"/>
<rect x="364.48" y="316.77" width="1.17" height="28.47" fill="#f7d7d0"/>
<rect x="365.45" y="316.77" width="2.28" height="28.47" fill="#8f6bbb"/>
<rect x="366.41" y="316.77" width="1.17" height="28.47" fill="#a386c7"/>
<rect x="367.38" y="316.77" width="2.28" height="28.47" fill="#b7a0d2"/>
<rect x="367.38" y="316.77" width="1.17" height="28.47" fill="#a98dca"/>
<rect x="368.35" y="316.77" width="1.17" height="28.47" fill="#9f80c4"/>
<rect x="369.32" y="316.77" width="2.28" height="28.47" fill="#8f6bbb"/>
<rect x="369.32" y="316.77" width="1.17" height="28.47" fill="#7b57b1"/>
<rect x="371.25" y="316.77" width="2.28" height="28.47" fill="#b7a0d2"/>
<rect x="371.25" y="316.77" width="1.17" height="28.47" fill="#9f80c4"/>
<rect x="372.22" y="316.77" width="1.17" height="28.47" fill="#c2aed8"/>
<rect x="373.18" y="316.77" width="2.28" height="28.47" fill="#f9cbbc"/>
<rect x="374.15" y="316.77" width="1.17" height="28.47" fill="#f6d8d1"/>
<rect x="375.12" y="316.77" width="2.28" height="28.47" fill="#f3e9ec"/>
<rect x="377.05" y="316.77" width="2.28" height="28.47" fill="#d9cbe5"/>
<rect x="377.05" y="316.77" width="1.17" height="28.47" fill="#e3d6e8"/>
<rect x="378.02" y="316.77" width="1.17" height="28.47" fill="#e2d5e7"/>
<rect x="378.99" y="316.77" width="2.28" height="28.47" fill="#f9cbbc"/>
<rect x="379.96" y="316.77" width="1.17" height="28.47" fill="#f7d5cc"/>
<rect x="380.92" y="316.77" width="3.25" height="28.47" fill="#f3e9ec"/>
<rect x="380.92" y="316.77" width="1.17" height="28.47" fill="#e8dce9"/>
<rect x="382.86" y="316.77" width="1.17" height="28.47" fill="#e8dce9"/>
<rect x="383.83" y="316.77" width="2.28" height="28.47" fill="#8f6bbb"/>
<rect x="383.83" y="316.77" width="1.17" height="28.47" fill="#7e5bb3"/>
<rect x="384.79" y="316.77" width="1.17" height="28.47" fill="#825fb5"/>
<rect x="385.76" y="316.77" width="3.25" height="28.47" fill="#b7a0d2"/>
<rect x="385.76" y="316.77" width="1.17" height="28.47" fill="#c5b1da"/>
<rect x="387.70" y="316.77" width="1.17" height="28.47" fill="#aa8fca"/>
<rect x="388.66" y="316.77" width="2.28" height="28.47" fill="#8f6bbb"/>
<rect x="388.66" y="316.77" width="1.17" height="28.47" fill="#a081c5"/>
<rect x="390.60" y="316.77" width="2.28" height="28.47" fill="#6a47a9"/>
<rect x="390.60" y="316.77" width="1.17" height="28.47" fill="#4e339b"/>
<rect x="391.57" y="316.77" width="1.17" height="28.47" fill="#593aa0"/>
<rect x="392.53" y="316.77" width="2.28" height="28.47" fill="#b7a0d2"/>
<rect x="392.53" y="316.77" width="1.17" height="28.47" fill="#a081c5"/>
<rect x="393.50" y="316.77" width="1.17" height="28.47" fill="#cbb9dd"/>
<rect x="394.47" y="316.77" width="3.25" height="28.47" fill="#8f6bbb"/>
<rect x="395.43" y="316.77" width="1.17" height="28.47" fill="#8460b5"/>
<rect x="396.40" y="316.77" width="1.17" height="28.47" fill="#a081c5"/>
<rect x="397.37" y="316.77" width="2.28" height="28.47" fill="#d9cbe5"/>
<rect x="398.34" y="316.77" width="1.17" height="28.47" fill="#cbb9dd"/>
<rect x="399.30" y="316.77" width="2.28" height="28.47" fill="#b7a0d2"/>
<rect x="401.24" y="316.77" width="3.25" height="28.47" fill="#d9cbe5"/>
<rect x="401.24" y="316.77" width="1.17" height="28.47" fill="#cbbadd"/>
<rect x="403.17" y="316.77" width="1.17" height="28.47" fill="#c9b7dc"/>
<rect x="404.14" y="316.77" width="2.28" height="28.47" fill="#f7a188"/>
<rect x="404.14" y="316.77" width="1.17" height="28.47" fill="#f6866a"/>
<rect x="405.11" y="316.77" width="1.17" height="28.47" fill="#f8b6a3"/>
<rect x="406.08" y="316.77" width="2.28" height="28.47" fill="#f9cbbc"/>
<rect x="408.01" y="316.77" width="3.25" height="28.47" fill="#f3e9ec"/>
<rect x="408.01" y="316.77" width="1.17" height="28.47" fill="#f6d8d1"/>
<rect x="408.98" y="316.77" width="1.17" height="28.47" fill="#f5dfdc"/>
<rect x="409.95" y="316.77" width="1.17" height="28.47" fill="#f5e0dd"/>
<rect x="410.91" y="316.77" width="2.28" height="28.47" fill="#b7a0d2"/>
<rect x="412.85" y="316.77" width="2.28" height="28.47" fill="#d9cbe5"/>
<rect x="412.85" y="316.77" width="1.17" height="28.47" fill="#e4d8e8"/>
<rect x="414.78" y="316.77" width="3.25" height="28.47" fill="#f9cbbc"/>
<rect x="415.75" y="316.77" width="1.17" height="28.47" fill="#f8bdab"/>
<rect x="417.68" y="316.77" width="2.28" height="28.47" fill="#f3e9ec"/>
<rect x="419.62" y="316.77" width="2.28" height="28.47" fill="#d9cbe5"/>
<rect x="421.55" y="316.77" width="3.25" height="28.47" fill="#b7a0d2"/>
<rect x="422.52" y="316.77" width="1.17" height="28.47" fill="#ab8fcb"/>
<rect x="424.46" y="316.77" width="3.25" height="28.47" fill="#f22d1c"/>
<rect x="424.46" y="316.77" width="1.17" height="28.47" fill="#f22d1c"/>
<rect x="427.36" y="316.77" width="2.28" height="28.47" fill="#f9cbbc"/>
<rect x="427.36" y="316.77" width="1.17" height="28.47" fill="#f6dbd6"/>
<rect x="428.33" y="316.77" width="1.17" height="28.47" fill="#f8b8a4"/>
<rect x="429.29" y="316.77" width="2.28" height="28.47" fill="#b7a0d2"/>
<rect x="429.29" y="316.77" width="1.17" height="28.47" fill="#c0abd7"/>
<rect x="431.23" y="316.77" width="3.25" height="28.47" fill="#d9cbe5"/>
<rect x="434.13" y="316.77" width="2.28" height="28.47" fill="#f3e9ec"/>
<rect x="436.07" y="316.77" width="2.28" height="28.47" fill="#b7a0d2"/>
<rect x="260.00" y="344.94" width="3.28" height="28.47" fill="#d9cbe5"/>
<rect x="260.00" y="344.94" width="1.18" height="28.47" fill="#cdbcde"/>
<rect x="262.93" y="344.94" width="2.31" height="28.47" fill="#f3e9ec"/>
<rect x="262.93" y="344.94" width="1.18" height="28.47" fill="#ebe0ea"/>
<rect x="263.91" y="344.94" width="1.18" height="28.47" fill="#e5d9e8"/>
<rect x="264.89" y="344.94" width="2.31" height="28.47" fill="#f7a188"/>
<rect x="264.89" y="344.94" width="1.18" height="28.47" fill="#f58265"/>
<rect x="265.87" y="344.94" width="1.18" height="28.47" fill="#f8b6a2"/>
<rect x="266.85" y="344.94" width="3.28" height="28.47" fill="#f3e9ec"/>
<rect x="266.85" y="344.94" width="1.18" height="28.47" fill="#e5d9e8"/>
<rect x="268.80" y="344.94" width="1.18" height="28.47" fill="#e6dae8"/>
<rect x="269.78" y="344.94" width="2.31" height="28.47" fill="#b7a0d2"/>
<rect x="269.78" y="344.94" width="1.18" height="28.47" fill="#aa8fca"/>
<rect x="271.74" y="344.94" width="2.31" height="28.47" fill="#f3e9ec"/>
<rect x="271.74" y="344.94" width="1.18" height="28.47" fill="#f6dad3"/>
<rect x="273.69" y="344.94" width="2.31" height="28.47" fill="#d9cbe5"/>
<rect x="275.65" y="344.94" width="2.31" height="28.47" fill="#8f6bbb"/>
<rect x="276.63" y="344.94" width="1.18" height="28.47" fill="#7d5ab2"/>
<rect x="277.60" y="344.94" width="2.31" height="28.47" fill="#f3e9ec"/>
<rect x="279.56" y="344.94" width="3.28" height="28.47" fill="#f9cbbc"/>
<rect x="281.52" y="344.94" width="1.18" height="28.47" fill="#f8b4a0"/>
<rect x="282.49" y="344.94" width="2.31" height="28.47" fill="#f3e9ec"/>
<rect x="284.45" y="344.94" width="6.22" height="28.47" fill="#f9cbbc"/>
<rect x="284.45" y="344.94" width="1.04" height="28.47" fill="#f8b8a4"/>
<rect x="290.32" y="344.94" width="3.28" height="28.47" fill="#f7a188"/>
<rect x="290.32" y="344.94" width="1.18" height="28.47" fill="#f8b39e"/>
<rect x="291.30" y="344.94" width="1.18" height="28.47" fill="#f68d71"/>
<rect x="293.25" y="344.94" width="3.28" height="28.47" fill="#f46a4a"/>
<rect x="296.19" y="344.94" width="5.24" height="28.47" fill="#f7a188"/>
<rect x="296.19" y="344.94" width="1.18" height="28.47" fill="#f8af9a"/>
<rect x="299.12" y="344.94" width="1.18" height="28.47" fill="#f58366"/>
<rect x="301.08" y="344.94" width="4.26" height="28.47" fill="#f46a4a"/>
<rect x="301.08" y="344.94" width="1.18" height="28.47" fill="#f35a3e"/>
<rect x="302.05" y="344.94" width="1.18" height="28.47" fill="#f6876b"/>
<rect x="303.03" y="344.94" width="1.18" height="28.47" fill="#f58467"/>
<rect x="304.01" y="344.94" width="1.18" height="28.47" fill="#f57b5d"/>
<rect x="304.99" y="344.94" width="2.31" height="28.47" fill="#f3e9ec"/>
<rect x="306.95" y="344.94" width="3.28" height="28.47" fill="#f7a188"/>
<rect x="307.92" y="344.94" width="1.18" height="28.47" fill="#f68e72"/>
<rect x="309.88" y="344.94" width="2.31" height="28.47" fill="#f3e9ec"/>
<rect x="309.88" y="344.94" width="1.18" height="28.47" fill="#e6dae8"/>
<rect x="310.86" y="344.94" width="1.18" height="28.47" fill="#e8dde9"/>
<rect x="311.84" y="344.94" width="6.22" height="28.47" fill="#f46a4a"/>
<rect x="311.84" y="344.94" width="1.04" height="28.47" fill="#f34730"/>
<rect x="312.67" y="344.94" width="1.04" height="28.47" fill="#f3563b"/>
<rect x="313.51" y="344.94" width="1.04" height="28.47" fill="#f35137"/>
<rect x="315.19" y="344.94" width="1.04" height="28.47" fill="#f3573b"/>
<rect x="316.86" y="344.94" width="1.04" height="28.47" fill="#f6896d"/>
<rect x="317.70" y="344.94" width="2.31" height="28.47" fill="#f7a188"/>
<rect x="317.70" y="344.94" width="1.18" height="28.47" fill="#f8b09b"/>
<rect x="319.66" y="344.94" width="3.28" height="28.47" fill="#f22d1c"/>
<rect x="319.66" y="344.94" width="1.18" height="28.47" fill="#f34d34"/>
<rect x="321.62" y="344.94" width="1.18" height="28.47" fill="#f22d1c"/>
<rect x="322.59" y="344.94" width="2.31" height="28.47" fill="#f7a188"/>
<rect x="322.59" y="344.94" width="1.18" height="28.47" fill="#f8b4a0"/>
<rect x="324.55" y="344.94" width="4.26" height="28.47" fill="#f46a4a"/>
<rect x="324.55" y="344.94" width="1.18" height="28.47" fill="#f34831"/>
<rect x="326.51" y="344.94" width="1.18" height="28.47" fill="#f34730"/>
<rect x="328.46" y="344.94" width="3.28" height="28.47" fill="#f22d1c"/>
<rect x="329.44" y="344.94" width="1.18" height="28.47" fill="#f22d1c"/>
<rect x="331.40" y="344.94" width="2.31" height="28.47" fill="#f7a188"/>
<rect x="333.35" y="344.94" width="2.31" height="28.47" fill="#f3e9ec"/>
<rect x="334.33" y="344.94" width="1.18" height="28.47" fill="#e9dde9"/>
<rect x="335.31" y="344.94" width="3.28" height="28.47" fill="#f7a188"/>
<rect x="338.24" y="344.94" width="2.31" height="28.47" fill="#f3e9ec"/>
<rect x="340.20" y="344.94" width="2.31" height="28.47" fill="#b7a0d2"/>
<rect x="342.15" y="344.94" width="3.28" height="28.47" fill="#8f6bbb"/>
<rect x="342.15" y="344.94" width="1.18" height="28.47" fill="#9a7ac1"/>
<rect x="345.09" y="344.94" width="2.31" height="28.47" fill="#d9cbe5"/>
<rect x="347.04" y="344.94" width="2.31" height="28.47" fill="#b7a0d2"/>
<rect x="347.04" y="344.94" width="1.18" height="28.47" fill="#cbb9dd"/>
<rect x="348.02" y="344.94" width="1.18" height="28.47" fill="#c1add8"/>
<rect x="349.00" y="344.94" width="2.35" height="28.47" fill="#b7a0d2"/>
<rect x="351.00" y="344.94" width="2.35" height="28.47" fill="#d9cbe5"/>
<rect x="352.00" y="344.94" width="1.20" height="28.47" fill="#e0d3e7"/>
<rect x="353.00" y="344.94" width="3.35" height="28.47" fill="#8f6bbb"/>
<rect x="355.00" y="344.94" width="1.20" height="28.47" fill="#a589c8"/>
<rect x="356.00" y="344.94" width="2.35" height="28.47" fill="#f3e9ec"/>
<rect x="356.00" y="344.94" width="1.20" height="28.47" fill="#e6d9e8"/>
<rect x="357.00" y="344.94" width="1.20" height="28.47" fill="#f5deda"/>
<rect x="358.00" y="344.94" width="2.35" height="28.47" fill="#8f6bbb"/>
<rect x="359.00" y="344.94" width="1.20" height="28.47" fill="#9c7dc3"/>
<rect x="360.00" y="344.94" width="3.35" height="28.47" fill="#f9cbbc"/>
<rect x="360.00" y="344.94" width="1.20" height="28.47" fill="#f6dad4"/>
<rect x="362.00" y="344.94" width="1.20" height="28.47" fill="#f7d7d0"/>
<rect x="363.00" y="344.94" width="2.35" height="28.47" fill="#f7a188"/>
<rect x="364.00" y="344.94" width="1.20" height="28.47" fill="#f8ae98"/>
<rect x="365.00" y="344.94" width="3.35" height="28.47" fill="#f9cbbc"/>
<rect x="367.00" y="344.94" width="1.20" height="28.47" fill="#f6d8d1"/>
<rect x="368.00" y="344.94" width="2.35" height="28.47" fill="#f3e9ec"/>
<rect x="368.00" y="344.94" width="1.20" height="28.47" fill="#f5ddd9"/>
<rect x="369.00" y="344.94" width="1.20" height="28.47" fill="#f5e0dd"/>
<rect x="370.00" y="344.94" width="3.35" height="28.47" fill="#d9cbe5"/>
<rect x="370.00" y="344.94" width="1.20" height="28.47" fill="#e4d7e8"/>
<rect x="372.00" y="344.94" width="1.20" height="28.47" fill="#d0bfe0"/>
<rect x="373.00" y="344.94" width="3.35" height="28.47" fill="#8f6bbb"/>
<rect x="373.00" y="344.94" width="1.20" height="28.47" fill="#9b7bc2"/>
<rect x="374.00" y="344.94" width="1.20" height="28.47" fill="#8460b6"/>
<rect x="376.00" y="344.94" width="3.35" height="28.47" fill="#b7a0d2"/>
<rect x="377.00" y="344.94" width="1.20" height="28.47" fill="#cab8dc"/>
<rect x="379.00" y="344.94" width="2.35" height="28.47" fill="#f3e9ec"/>
<rect x="379.00" y="344.94" width="1.20" height="28.47" fill="#e7dbe9"/>
<rect x="381.00" y="344.94" width="2.35" height="28.47" fill="#b7a0d2"/>
<rect x="381.00" y="344.94" width="1.20" height="28.47" fill="#cbbadd"/>
<rect x="382.00" y="344.94" width="1.20" height="28.47" fill="#c7b5db"/>
<rect x="383.00" y="344.94" width="4.35" height="28.47" fill="#6a47a9"/>
<rect x="385.00" y="344.94" width="1.20" height="28.47" fill="#583aa0"/>
<rect x="386.00" y="344.94" width="1.20" height="28.47" fill="#53369e"/>
<rect x="387.00" y="344.94" width="2.35" height="28.47" fill="#d9cbe5"/>
<rect x="387.00" y="344.94" width="1.20" height="28.47" fill="#c5b2da"/>
<rect x="388.00" y="344.94" width="1.20" height="28.47" fill="#c8b6dc"/>
<rect x="389.00" y="344.94" width="2.35" height="28.47" fill="#f3e9ec"/>
<rect x="389.00" y="344.94" width="1.20" height="28.47" fill="#f5ddd9"/>
<rect x="390.00" y="344.94" width="1.20" height="28.47" fill="#e5d8e8"/>
<rect x="391.00" y="344.94" width="3.35" height="28.47" fill="#8f6bbb"/>
<rect x="391.00" y="344.94" width="1.20" height="28.47" fill="#a284c6"/>
<rect x="393.00" y="344.94" width="1.20" height="28.47" fill="#8461b6"/>
<rect x="394.00" y="344.94" width="4.35" height="28.47" fill="#b7a0d2"/>
<rect x="396.00" y="344.94" width="1.20" height="28.47" fill="#a78bc9"/>
<rect x="397.00" y="344.94" width="1.20" height="28.47" fill="#c9b7dc"/>
<rect x="398.00" y="344.94" width="4.35" height="28.47" fill="#3b2592"/>
<rect x="399.00" y="344.94" width="1.20" height="28.47" fill="#3b2592"/>
<rect x="402.00" y="344.94" width="3.35" height="28.47" fill="#f3e9ec"/>
<rect x="405.00" y="344.94" width="2.35" height="28.47" fill="#8f6bbb"/>
<rect x="407.00" y="344.94" width="3.35" height="28.47" fill="#d9cbe5"/>
<rect x="407.00" y="344.94" width="1.20" height="28.47" fill="#ccbade"/>
<rect x="408.00" y="344.94" width="1.20" height="28.47" fill="#c6b2da"/>
<rect x="409.00" y="344.94" width="1.20" height="28.47" fill="#c6b3da"/>
<rect x="410.00" y="344.94" width="2.35" height="28.47" fill="#f3e9ec"/>
<rect x="411.00" y="344.94" width="1.20" height="28.47" fill="#e8dde9"/>
<rect x="412.00" y="344.94" width="3.35" height="28.47" fill="#d9cbe5"/>
<rect x="413.00" y="344.94" width="1.20" height="28.47" fill="#e1d4e7"/>
<rect x="415.00" y="344.94" width="2.35" height="28.47" fill="#8f6bbb"/>
<rect x="415.00" y="344.94" width="1.20" height="28.47" fill="#7956b0"/>
<rect x="416.00" y="344.94" width="1.20" height="28.47" fill="#a68ac8"/>
<rect x="417.00" y="344.94" width="2.35" height="28.47" fill="#d9cbe5"/>
<rect x="418.00" y="344.94" width="1.20" height="28.47" fill="#cdbbde"/>
<rect x="419.00" y="344.94" width="2.35" height="28.47" fill="#f9cbbc"/>
<rect x="419.00" y="344.94" width="1.20" height="28.47" fill="#f7d3c9"/>
<rect x="421.00" y="344.94" width="2.35" height="28.47" fill="#8f6bbb"/>
<rect x="421.00" y="344.94" width="1.20" height="28.47" fill="#825eb4"/>
<rect x="423.00" y="344.94" width="2.35" height="28.47" fill="#d9cbe5"/>
<rect x="423.00" y="344.94" width="1.20" height="28.47" fill="#d0bfe0"/>
<rect x="424.00" y="344.94" width="1.20" height="28.47" fill="#c8b6dc"/>
<rect x="425.00" y="344.94" width="3.35" height="28.47" fill="#f3e9ec"/>
<rect x="425.00" y="344.94" width="1.20" height="28.47" fill="#ebe0ea"/>
<rect x="426.00" y="344.94" width="1.20" height="28.47" fill="#e4d8e8"/>
<rect x="428.00" y="344.94" width="2.35" height="28.47" fill="#f9cbbc"/>
<rect x="428.00" y="344.94" width="1.20" height="28.47" fill="#f7d5cc"/>
<rect x="429.00" y="344.94" width="1.20" height="28.47" fill="#f5ddd9"/>
<rect x="430.00" y="344.94" width="2.35" height="28.47" fill="#8f6bbb"/>
<rect x="432.00" y="344.94" width="3.35" height="28.47" fill="#d9cbe5"/>
<rect x="434.00" y="344.94" width="1.20" height="28.47" fill="#ccbade"/>
<rect x="435.00" y="344.94" width="3.35" height="28.47" fill="#8f6bbb"/>
<rect x="435.00" y="344.94" width="1.20" height="28.47" fill="#815db4"/>
<rect x="436.00" y="344.94" width="1.20" height="28.47" fill="#9e7fc4"/>
<rect x="437.00" y="344.94" width="1.20" height="28.47" fill="#8561b6"/>
<rect x="260.00" y="373.11" width="3.35" height="28.47" fill="#8f6bbb"/>
<rect x="263.00" y="373.11" width="2.35" height="28.47" fill="#6a47a9"/>
<rect x="263.00" y="373.11" width="1.20" height="28.47" fill="#7653af"/>
<rect x="265.00" y="373.11" width="2.35" height="28.47" fill="#8f6bbb"/>
<rect x="266.00" y="373.11" width="1.20" height="28.47" fill="#9b7bc2"/>
<rect x="267.00" y="373.11" width="3.35" height="28.47" fill="#b7a0d2"/>
<rect x="268.00" y="373.11" width="1.20" height="28.47" fill="#a689c8"/>
<rect x="270.00" y="373.11" width="2.35" height="28.47" fill="#8f6bbb"/>
<rect x="271.00" y="373.11" width="1.20" height="28.47" fill="#7a56b1"/>
<rect x="272.00" y="373.11" width="2.35" height="28.47" fill="#f7a188"/>
<rect x="272.00" y="373.11" width="1.20" height="28.47" fill="#f68e72"/>
<rect x="273.00" y="373.11" width="1.20" height="28.47" fill="#f8b39e"/>
<rect x="274.00" y="373.11" width="2.35" height="28.47" fill="#f3e9ec"/>
<rect x="275.00" y="373.11" width="1.20" height="28.47" fill="#e7dbe9"/>
<rect x="276.00" y="373.11" width="2.35" height="28.47" fill="#f7a188"/>
<rect x="278.00" y="373.11" width="3.35" height="28.47" fill="#f3e9ec"/>
<rect x="281.00" y="373.11" width="2.35" height="28.47" fill="#d9cbe5"/>
<rect x="283.00" y="373.11" width="3.35" height="28.47" fill="#f3e9ec"/>
<rect x="283.00" y="373.11" width="1.20" height="28.47" fill="#eadfea"/>
<rect x="284.00" y="373.11" width="1.20" height="28.47" fill="#e5d9e8"/>
<rect x="285.00" y="373.11" width="1.20" height="28.47" fill="#f5e1df"/>
<rect x="286.00" y="373.11" width="2.35" height="28.47" fill="#8f6bbb"/>
<rect x="286.00" y="373.11" width="1.20" height="28.47" fill="#9d7dc3"/>
<rect x="287.00" y="373.11" width="1.20" height="28.47" fill="#835fb5"/>
<rect x="288.00" y="373.11" width="3.35" height="28.47" fill="#b7a0d2"/>
<rect x="291.00" y="373.11" width="2.35" height="28.47" fill="#8f6bbb"/>
<rect x="291.00" y="373.11" width="1.20" height="28.47" fill="#7a57b1"/>
<rect x="293.00" y="373.11" width="2.35" height="28.47" fill="#d9cbe5"/>
<rect x="294.00" y="373.11" width="1.20" height="28.47" fill="#c6b3da"/>
<rect x="295.00" y="373.11" width="2.35" height="28.47" fill="#b7a0d2"/>
<rect x="296.00" y="373.11" width="1.20" height="28.47" fill="#c2aed8"/>
<rect x="297.00" y="373.11" width="2.35" height="28.47" fill="#f9cbbc"/>
<rect x="297.00" y="373.11" width="1.20" height="28.47" fill="#f8b7a3"/>
<rect x="299.00" y="373.11" width="3.35" height="28.47" fill="#d9cbe5"/>
<rect x="299.00" y="373.11" width="1.20" height="28.47" fill="#e2d5e7"/>
<rect x="300.00" y="373.11" width="1.20" height="28.47" fill="#e3d6e8"/>
<rect x="302.00" y="373.11" width="2.35" height="28.47" fill="#f3e9ec"/>
<rect x="304.00" y="373.11" width="3.35" height="28.47" fill="#d9cbe5"/>
<rect x="304.00" y="373.11" width="1.20" height="28.47" fill="#cbb9dd"/>
<rect x="306.00" y="373.11" width="1.20" height="28.47" fill="#d0bfe0"/>
<rect x="307.00" y="373.11" width="3.35" height="28.47" fill="#b7a0d2"/>
<rect x="307.00" y="373.11" width="1.20" height="28.47" fill="#cbb9dd"/>
<rect x="310.00" y="373.11" width="2.35" height="28.47" fill="#f3e9ec"/>
<rect x="312.00" y="373.11" width="2.35" height="28.47" fill="#8f6bbb"/>
<rect x="312.00" y="373.11" width="1.20" height="28.47" fill="#7e5bb3"/>
<rect x="314.00" y="373.11" width="4.35" height="28.47" fill="#3b2592"/>
<rect x="314.00" y="373.11" width="1.20" height="28.47" fill="#52369d"/>
<rect x="316.00" y="373.11" width="1.20" height="28.47" fill="#3b2592"/>
<rect x="317.00" y="373.11" width="1.20" height="28.47" fill="#5739a0"/>
<rect x="318.00" y="373.11" width="3.35" height="28.47" fill="#8f6bbb"/>
<rect x="318.00" y="373.11" width="1.20" height="28.47" fill="#a68ac8"/>
<rect x="319.00" y="373.11" width="1.20" height="28.47" fill="#7e5bb3"/>
<rect x="320.00" y="373.11" width="1.20" height="28.47" fill="#9c7cc2"/>
<rect x="321.00" y="373.11" width="3.35" height="28.47" fill="#6a47a9"/>
<rect x="321.00" y="373.11" width="1.20" height="28.47" fill="#51359d"/>
<rect x="322.00" y="373.11" width="1.20" height="28.47" fill="#5a3ba1"/>
<rect x="324.00" y="373.11" width="3.35" height="28.47" fill="#8f6bbb"/>
<rect x="327.00" y="373.11" width="2.35" height="28.47" fill="#f7a188"/>
<rect x="329.00" y="373.11" width="3.35" height="28.47" fill="#f3e9ec"/>
<rect x="332.00" y="373.11" width="2.35" height="28.47" fill="#d9cbe5"/>
<rect x="332.00" y="373.11" width="1.20" height="28.47" fill="#e1d4e7"/>
<rect x="333.00" y="373.11" width="1.20" height="28.47" fill="#d0c0e0"/>
<rect x="334.00" y="373.11" width="2.35" height="28.47" fill="#d9cbe5"/>
<rect x="334.00" y="373.11" width="1.20" height="28.47" fill="#cfbedf"/>
<rect x="335.00" y="373.11" width="1.20" height="28.47" fill="#e6dae8"/>
<rect x="336.00" y="373.11" width="3.35" height="28.47" fill="#f3e9ec"/>
<rect x="339.00" y="373.11" width="4.35" height="28.47" fill="#f22d1c"/>
<rect x="339.00" y="373.11" width="1.20" height="28.47" fill="#f3432d"/>
<rect x="341.00" y="373.11" width="1.20" height="28.47" fill="#f22d1c"/>
<rect x="342.00" y="373.11" width="1.20" height="28.47" fill="#f3412b"/>
<rect x="343.00" y="373.11" width="6.35" height="28.47" fill="#f46a4a"/>
<rect x="343.00" y="373.11" width="1.06" height="28.47" fill="#f57e61"/>
<rect x="343.86" y="373.11" width="1.06" height="28.47" fill="#f5795b"/>
<rect x="344.71" y="373.11" width="1.06" height="28.47" fill="#f57d5f"/>
<rect x="345.57" y="373.11" width="1.06" height="28.47" fill="#f3583c"/>
<rect x="347.29" y="373.11" width="1.06" height="28.47" fill="#f68a6e"/>
<rect x="349.00" y="373.11" width="3.35" height="28.47" fill="#f9cbbc"/>
<rect x="349.00" y="373.11" width="1.20" height="28.47" fill="#f8b9a5"/>
<rect x="350.00" y="373.11" width="1.20" height="28.47" fill="#f8b29d"/>
<rect x="352.00" y="373.11" width="2.35" height="28.47" fill="#f7a188"/>
<rect x="354.00" y="373.11" width="2.35" height="28.47" fill="#f9cbbc"/>
<rect x="355.00" y="373.11" width="1.20" height="28.47" fill="#f8baa7"/>
<rect x="356.00" y="373.11" width="4.35" height="28.47" fill="#f7a188"/>
<rect x="356.00" y="373.11" width="1.20" height="28.47" fill="#f8b6a2"/>
<rect x="357.00" y="373.11" width="1.20" height="28.47" fill="#f68b6f"/>
<rect x="359.00" y="373.11" width="1.20" height="28.47" fill="#f8b9a6"/>
<rect x="360.00" y="373.11" width="2.35" height="28.47" fill="#f46a4a"/>
<rect x="362.00" y="373.11" width="3.35" height="28.47" fill="#f9cbbc"/>
<rect x="363.00" y="373.11" width="1.20" height="28.47" fill="#f7d6cd"/>
<rect x="364.00" y="373.11" width="1.20" height="28.47" fill="#f8bca9"/>
<rect x="365.00" y="373.11" width="2.35" height="28.47" fill="#f7a188"/>
<rect x="365.00" y="373.11" width="1.20" height="28.47" fill="#f8b29d"/>
<rect x="367.00" y="373.11" width="4.35" height="28.47" fill="#f46a4a"/>
<rect x="370.00" y="373.11" width="1.20" height="28.47" fill="#f58568"/>
<rect x="371.00" y="373.11" width="3.35" height="28.47" fill="#f7a188"/>
<rect x="371.00" y="373.11" width="1.20" height="28.47" fill="#f6896d"/>
<rect x="373.00" y="373.11" width="1.20" height="28.47" fill="#f8b6a2"/>
<rect x="374.00" y="373.11" width="2.35" height="28.47" fill="#f3e9ec"/>
<rect x="374.00" y="373.11" width="1.20" height="28.47" fill="#f5e0de"/>
<rect x="375.00" y="373.11" width="1.20" height="28.47" fill="#f6d9d2"/>
<rect x="376.00" y="373.11" width="4.35" height="28.47" fill="#b7a0d2"/>
<rect x="376.00" y="373.11" width="1.20" height="28.47" fill="#a689c8"/>
<rect x="380.00" y="373.11" width="2.35" height="28.47" fill="#f3e9ec"/>
<rect x="381.00" y="373.11" width="1.20" height="28.47" fill="#e6dae9"/>
<rect x="382.00" y="373.11" width="2.35" height="28.47" fill="#f7a188"/>
<rect x="383.00" y="373.11" width="1.20" height="28.47" fill="#f8b7a3"/>
<rect x="384.00" y="373.11" width="3.35" height="28.47" fill="#f9cbbc"/>
<rect x="387.00" y="373.11" width="2.35" height="28.47" fill="#b7a0d2"/>
<rect x="389.00" y="373.11" width="2.35" height="28.47" fill="#f3e9ec"/>
<rect x="390.00" y="373.11" width="1.20" height="28.47" fill="#e8dce9"/>
<rect x="391.00" y="373.11" width="3.35" height="28.47" fill="#f46a4a"/>
<rect x="391.00" y="373.11" width="1.20" height="28.47" fill="#f68a6e"/>
<rect x="394.00" y="373.11" width="4.35" height="28.47" fill="#f46a4a"/>
<rect x="394.00" y="373.11" width="1.20" height="28.47" fill="#f3472f"/>
<rect x="395.00" y="373.11" width="1.20" height="28.47" fill="#f57d60"/>
<rect x="396.00" y="373.11" width="1.20" height="28.47" fill="#f58569"/>
<rect x="397.00" y="373.11" width="1.20" height="28.47" fill="#f57a5c"/>
<rect x="398.00" y="373.11" width="4.35" height="28.47" fill="#f7a188"/>
<rect x="399.00" y="373.11" width="1.20" height="28.47" fill="#f58568"/>
<rect x="402.00" y="373.11" width="3.35" height="28.47" fill="#f46a4a"/>
<rect x="403.00" y="373.11" width="1.20" height="28.47" fill="#f6886b"/>
<rect x="405.00" y="373.11" width="4.35" height="28.47" fill="#f22d1c"/>
<rect x="405.00" y="373.11" width="1.20" height="28.47" fill="#f22d1c"/>
<rect x="408.00" y="373.11" width="1.20" height="28.47" fill="#f35238"/>
<rect x="409.00" y="373.11" width="2.35" height="28.47" fill="#f46a4a"/>
<rect x="409.00" y="373.11" width="1.20" height="28.47" fill="#f34a32"/>
<rect x="410.00" y="373.11" width="1.20" height="28.47" fill="#f58366"/>
<rect x="411.00" y="373.11" width="3.35" height="28.47" fill="#f7a188"/>
<rect x="411.00" y="373.11" width="1.20" height="28.47" fill="#f8b49f"/>
<rect x="412.00" y="373.11" width="1.20" height="28.47" fill="#f68e73"/>
<rect x="413.00" y="373.11" width="1.20" height="28.47" fill="#f68b70"/>
<rect x="414.00" y="373.11" width="2.35" height="28.47" fill="#f46a4a"/>
<rect x="415.00" y="373.11" width="1.20" height="28.47" fill="#f57f61"/>
<rect x="416.00" y="373.11" width="3.35" height="28.47" fill="#f7a188"/>
<rect x="416.00" y="373.11" width="1.20" height="28.47" fill="#f6896d"/>
<rect x="418.00" y="373.11" width="1.20" height="28.47" fill="#f8b9a6"/>
<rect x="419.00" y="373.11" width="2.35" height="28.47" fill="#f3e9ec"/>
<rect x="419.00" y="373.11" width="1.20" height="28.47" fill="#e7dbe9"/>
<rect x="420.00" y="373.11" width="1.20" height="28.47" fill="#f5ddd8"/>
<rect x="421.00" y="373.11" width="3.35" height="28.47" fill="#d9cbe5"/>
<rect x="424.00" y="373.11" width="2.35" height="28.47" fill="#b7a0d2"/>
<rect x="424.00" y="373.11" width="1.20" height="28.47" fill="#a98dca"/>
<rect x="426.00" y="373.11" width="3.35" height="28.47" fill="#d9cbe5"/>
<rect x="427.00" y="373.11" width="1.20" height="28.47" fill="#cfbedf"/>
<rect x="429.00" y="373.11" width="2.35" height="28.47" fill="#b7a0d2"/>
<rect x="429.00" y="373.11" width="1.20" height="28.47" fill="#c1add8"/>
<rect x="431.00" y="373.11" width="2.35" height="28.47" fill="#f3e9ec"/>
<rect x="431.00" y="373.11" width="1.20" height="28.47" fill="#f6d9d3"/>
<rect x="432.00" y="373.11" width="1.20" height="28.47" fill="#e8dce9"/>
<rect x="433.00" y="373.11" width="2.35" height="28.47" fill="#f9cbbc"/>
<rect x="434.00" y="373.11" width="1.20" height="28.47" fill="#f7d5cc"/>
<rect x="435.00" y="373.11" width="3.35" height="28.47" fill="#f3e9ec"/>
<rect x="435.00" y="373.11" width="1.20" height="28.47" fill="#e8dce9"/>
<rect x="260.00" y="401.28" width="2.33" height="28.47" fill="#f9cbbc"/>
<rect x="260.99" y="401.28" width="1.19" height="28.47" fill="#f8b8a4"/>
<rect x="261.98" y="401.28" width="2.33" height="28.47" fill="#6a47a9"/>
<rect x="261.98" y="401.28" width="1.19" height="28.47" fill="#5e3ea3"/>
<rect x="262.97" y="401.28" width="1.19" height="28.47" fill="#7753af"/>
<rect x="263.96" y="401.28" width="2.33" height="28.47" fill="#b7a0d2"/>
<rect x="265.93" y="401.28" width="2.33" height="28.47" fill="#d9cbe5"/>
<rect x="265.93" y="401.28" width="1.19" height="28.47" fill="#c7b4db"/>
<rect x="267.91" y="401.28" width="3.32" height="28.47" fill="#b7a0d2"/>
<rect x="267.91" y="401.28" width="1.19" height="28.47" fill="#ab90cb"/>
<rect x="268.90" y="401.28" width="1.19" height="28.47" fill="#a386c7"/>
<rect x="269.89" y="401.28" width="1.19" height="28.47" fill="#a98eca"/>
<rect x="270.88" y="401.28" width="2.33" height="28.47" fill="#8f6bbb"/>
<rect x="270.88" y="401.28" width="1.19" height="28.47" fill="#9b7bc2"/>
<rect x="272.86" y="401.28" width="2.33" height="28.47" fill="#d9cbe5"/>
<rect x="272.86" y="401.28" width="1.19" height="28.47" fill="#e3d7e8"/>
<rect x="273.84" y="401.28" width="1.19" height="28.47" fill="#cebedf"/>
<rect x="274.83" y="401.28" width="3.32" height="28.47" fill="#8f6bbb"/>
<rect x="275.82" y="401.28" width="1.19" height="28.47" fill="#9e7fc3"/>
<rect x="277.80" y="401.28" width="7.27" height="28.47" fill="#f3e9ec"/>
<rect x="279.53" y="401.28" width="1.07" height="28.47" fill="#f6dbd5"/>
<rect x="280.40" y="401.28" width="1.07" height="28.47" fill="#f5dfdc"/>
<rect x="282.13" y="401.28" width="1.07" height="28.47" fill="#f5e0de"/>
<rect x="284.72" y="401.28" width="2.33" height="28.47" fill="#d9cbe5"/>
<rect x="284.72" y="401.28" width="1.19" height="28.47" fill="#c6b3da"/>
<rect x="285.71" y="401.28" width="1.19" height="28.47" fill="#e1d5e7"/>
<rect x="286.70" y="401.28" width="2.33" height="28.47" fill="#f7a188"/>
<rect x="287.69" y="401.28" width="1.19" height="28.47" fill="#f8b29d"/>
<rect x="288.68" y="401.28" width="2.33" height="28.47" fill="#d9cbe5"/>
<rect x="288.68" y="401.28" width="1.19" height="28.47" fill="#cebddf"/>
<rect x="290.66" y="401.28" width="3.32" height="28.47" fill="#f3e9ec"/>
<rect x="293.62" y="401.28" width="2.33" height="28.47" fill="#b7a0d2"/>
<rect x="293.62" y="401.28" width="1.19" height="28.47" fill="#c4b0d9"/>
<rect x="295.60" y="401.28" width="3.32" height="28.47" fill="#8f6bbb"/>
<rect x="296.59" y="401.28" width="1.19" height="28.47" fill="#7f5bb3"/>
<rect x="297.58" y="401.28" width="1.19" height="28.47" fill="#9d7dc3"/>
<rect x="298.57" y="401.28" width="2.33" height="28.47" fill="#d9cbe5"/>
<rect x="299.56" y="401.28" width="1.19" height="28.47" fill="#cfbedf"/>
<rect x="300.54" y="401.28" width="3.32" height="28.47" fill="#b7a0d2"/>
<rect x="300.54" y="401.28" width="1.19" height="28.47" fill="#c3afd9"/>
<rect x="302.52" y="401.28" width="1.19" height="28.47" fill="#c7b4db"/>
<rect x="303.51" y="401.28" width="2.33" height="28.47" fill="#8f6bbb"/>
<rect x="305.49" y="401.28" width="3.32" height="28.47" fill="#d9cbe5"/>
<rect x="305.49" y="401.28" width="1.19" height="28.47" fill="#e3d6e8"/>
<rect x="306.48" y="401.28" width="1.19" height="28.47" fill="#cebddf"/>
<rect x="308.46" y="401.28" width="3.32" height="28.47" fill="#f3e9ec"/>
<rect x="311.42" y="401.28" width="4.31" height="28.47" fill="#d9cbe5"/>
<rect x="315.38" y="401.28" width="3.32" height="28.47" fill="#f7a188"/>
<rect x="315.38" y="401.28" width="1.19" height="28.47" fill="#f8b8a4"/>
<rect x="318.34" y="401.28" width="4.31" height="28.47" fill="#f9cbbc"/>
<rect x="318.34" y="401.28" width="1.19" height="28.47" fill="#f8beac"/>
<rect x="320.32" y="401.28" width="1.19" height="28.47" fill="#f6dcd7"/>
<rect x="321.31" y="401.28" width="1.19" height="28.47" fill="#f8bca9"/>
<rect x="322.30" y="401.28" width="2.33" height="28.47" fill="#b7a0d2"/>
<rect x="324.28" y="401.28" width="3.32" height="28.47" fill="#f7a188"/>
<rect x="324.28" y="401.28" width="1.19" height="28.47" fill="#f58568"/>
<rect x="327.24" y="401.28" width="2.33" height="28.47" fill="#f3e9ec"/>
<rect x="327.24" y="401.28" width="1.19" height="28.47" fill="#f5dfdc"/>
<rect x="328.23" y="401.28" width="1.19" height="28.47" fill="#f6dcd7"/>
<rect x="329.22" y="401.28" width="3.32" height="28.47" fill="#d9cbe5"/>
<rect x="332.19" y="401.28" width="3.32" height="28.47" fill="#f22d1c"/>
<rect x="332.19" y="401.28" width="1.19" height="28.47" fill="#f3422c"/>
<rect x="335.16" y="401.28" width="2.33" height="28.47" fill="#f7a188"/>
<rect x="335.16" y="401.28" width="1.19" height="28.47" fill="#f58568"/>
<rect x="336.14" y="401.28" width="1.19" height="28.47" fill="#f68a6e"/>
<rect x="337.13" y="401.28" width="3.32" height="28.47" fill="#f3e9ec"/>
<rect x="338.12" y="401.28" width="1.19" height="28.47" fill="#f6d8d1"/>
<rect x="339.11" y="401.28" width="1.19" height="28.47" fill="#f5e0de"/>
<rect x="340.10" y="401.28" width="2.33" height="28.47" fill="#d9cbe5"/>
<rect x="340.10" y="401.28" width="1.19" height="28.47" fill="#c8b5db"/>
<rect x="342.08" y="401.28" width="2.33" height="28.47" fill="#f3e9ec"/>
<rect x="342.08" y="401.28" width="1.19" height="28.47" fill="#e5d9e8"/>
<rect x="343.07" y="401.28" width="1.19" height="28.47" fill="#f6dcd7"/>
<rect x="344.06" y="401.28" width="5.29" height="28.47" fill="#8f6bbb"/>
<rect x="344.06" y="401.28" width="1.19" height="28.47" fill="#a689c8"/>
<rect x="346.03" y="401.28" width="1.19" height="28.47" fill="#805db4"/>
<rect x="347.02" y="401.28" width="1.19" height="28.47" fill="#825fb5"/>
<rect x="348.01" y="401.28" width="1.19" height="28.47" fill="#9c7cc2"/>
<rect x="349.00" y="401.28" width="2.37" height="28.47" fill="#8f6bbb"/>
<rect x="351.02" y="401.28" width="2.37" height="28.47" fill="#f3e9ec"/>
<rect x="352.03" y="401.28" width="1.21" height="28.47" fill="#e5d9e8"/>
<rect x="353.05" y="401.28" width="3.38" height="28.47" fill="#f9cbbc"/>
<rect x="354.06" y="401.28" width="1.21" height="28.47" fill="#f8bba8"/>
<rect x="355.07" y="401.28" width="1.21" height="28.47" fill="#f7d6ce"/>
<rect x="356.08" y="401.28" width="2.37" height="28.47" fill="#b7a0d2"/>
<rect x="356.08" y="401.28" width="1.21" height="28.47" fill="#ac91cb"/>
<rect x="357.09" y="401.28" width="1.21" height="28.47" fill="#c2aed8"/>
<rect x="358.10" y="401.28" width="3.38" height="28.47" fill="#d9cbe5"/>
<rect x="358.10" y="401.28" width="1.21" height="28.47" fill="#e2d6e7"/>
<rect x="359.11" y="401.28" width="1.21" height="28.47" fill="#cfbedf"/>
<rect x="360.12" y="401.28" width="1.21" height="28.47" fill="#e5d9e8"/>
<rect x="361.14" y="401.28" width="3.38" height="28.47" fill="#8f6bbb"/>
<rect x="361.14" y="401.28" width="1.21" height="28.47" fill="#9d7ec3"/>
<rect x="364.17" y="401.28" width="1.36" height="28.47" fill="#f3e9ec"/>
<rect x="365.18" y="401.28" width="3.38" height="28.47" fill="#f46a4a"/>
<rect x="365.18" y="401.28" width="1.21" height="28.47" fill="#f6896d"/>
<rect x="366.19" y="401.28" width="1.21" height="28.47" fill="#f68a6e"/>
<rect x="367.20" y="401.28" width="1.21" height="28.47" fill="#f3462f"/>
<rect x="368.22" y="401.28" width="2.37" height="28.47" fill="#f7a188"/>
<rect x="369.23" y="401.28" width="1.21" height="28.47" fill="#f8b29d"/>
<rect x="370.24" y="401.28" width="4.40" height="28.47" fill="#f46a4a"/>
<rect x="373.27" y="401.28" width="1.21" height="28.47" fill="#f35137"/>
<rect x="374.28" y="401.28" width="3.38" height="28.47" fill="#f7a188"/>
<rect x="375.30" y="401.28" width="1.21" height="28.47" fill="#f68d71"/>
<rect x="376.31" y="401.28" width="1.21" height="28.47" fill="#f8b8a4"/>
<rect x="377.32" y="401.28" width="2.37" height="28.47" fill="#f46a4a"/>
<rect x="377.32" y="401.28" width="1.21" height="28.47" fill="#f35339"/>
<rect x="378.33" y="401.28" width="1.21" height="28.47" fill="#f3553a"/>
<rect x="379.34" y="401.28" width="3.38" height="28.47" fill="#f9cbbc"/>
<rect x="380.35" y="401.28" width="1.21" height="28.47" fill="#f7d6cd"/>
<rect x="381.36" y="401.28" width="1.21" height="28.47" fill="#f8bca9"/>
<rect x="382.38" y="401.28" width="4.40" height="28.47" fill="#f7a188"/>
<rect x="382.38" y="401.28" width="1.21" height="28.47" fill="#f6866a"/>
<rect x="384.40" y="401.28" width="1.21" height="28.47" fill="#f8b19c"/>
<rect x="386.42" y="401.28" width="2.37" height="28.47" fill="#f22d1c"/>
<rect x="388.44" y="401.28" width="2.37" height="28.47" fill="#f7a188"/>
<rect x="388.44" y="401.28" width="1.21" height="28.47" fill="#f8ac95"/>
<rect x="389.45" y="401.28" width="1.21" height="28.47" fill="#f58063"/>
<rect x="390.47" y="401.28" width="4.40" height="28.47" fill="#f46a4a"/>
<rect x="390.47" y="401.28" width="1.21" height="28.47" fill="#f58265"/>
<rect x="394.51" y="401.28" width="3.38" height="28.47" fill="#f7a188"/>
<rect x="394.51" y="401.28" width="1.21" height="28.47" fill="#f6876b"/>
<rect x="395.52" y="401.28" width="1.21" height="28.47" fill="#f8b7a3"/>
<rect x="397.55" y="401.28" width="2.37" height="28.47" fill="#f46a4a"/>
<rect x="398.56" y="401.28" width="1.21" height="28.47" fill="#f58265"/>
<rect x="399.57" y="401.28" width="3.38" height="28.47" fill="#f9cbbc"/>
<rect x="399.57" y="401.28" width="1.21" height="28.47" fill="#f7d4ca"/>
<rect x="400.58" y="401.28" width="1.21" height="28.47" fill="#f6d8d0"/>
<rect x="402.60" y="401.28" width="4.40" height="28.47" fill="#f3e9ec"/>
<rect x="402.60" y="401.28" width="1.21" height="28.47" fill="#f6dbd5"/>
<rect x="403.61" y="401.28" width="1.21" height="28.47" fill="#f5dfdb"/>
<rect x="406.65" y="401.28" width="3.38" height="28.47" fill="#f7a188"/>
<rect x="406.65" y="401.28" width="1.21" height="28.47" fill="#f8b6a2"/>
<rect x="407.66" y="401.28" width="1.21" height="28.47" fill="#f58164"/>
<rect x="408.67" y="401.28" width="1.21" height="28.47" fill="#f8ac96"/>
<rect x="409.68" y="401.28" width="3.38" height="28.47" fill="#f46a4a"/>
<rect x="409.68" y="401.28" width="1.21" height="28.47" fill="#f34a32"/>
<rect x="411.70" y="401.28" width="1.21" height="28.47" fill="#f6896c"/>
<rect x="412.72" y="401.28" width="1.36" height="28.47" fill="#f7a188"/>
<rect x="413.73" y="401.28" width="2.37" height="28.47" fill="#f3e9ec"/>
<rect x="415.75" y="401.28" width="2.37" height="28.47" fill="#d9cbe5"/>
<rect x="415.75" y="401.28" width="1.21" height="28.47" fill="#cfbedf"/>
<rect x="416.76" y="401.28" width="1.21" height="28.47" fill="#e8dce9"/>
<rect x="417.77" y="401.28" width="2.37" height="28.47" fill="#b7a0d2"/>
<rect x="419.80" y="401.28" width="3.38" height="28.47" fill="#8f6bbb"/>
<rect x="421.82" y="401.28" width="1.21" height="28.47" fill="#a285c6"/>
<rect x="422.83" y="401.28" width="2.37" height="28.47" fill="#f3e9ec"/>
<rect x="422.83" y="401.28" width="1.21" height="28.47" fill="#e8dde9"/>
<rect x="424.85" y="401.28" width="2.37" height="28.47" fill="#f7a188"/>
<rect x="424.85" y="401.28" width="1.21" height="28.47" fill="#f58164"/>
<rect x="426.88" y="401.28" width="3.38" height="28.47" fill="#f9cbbc"/>
<rect x="429.91" y="401.28" width="3.38" height="28.47" fill="#f46a4a"/>
<rect x="431.93" y="401.28" width="1.21" height="28.47" fill="#f57f62"/>
<rect x="432.94" y="401.28" width="3.38" height="28.47" fill="#f7a188"/>
<rect x="432.94" y="401.28" width="1.21" height="28.47" fill="#f6886c"/>
<rect x="435.98" y="401.28" width="2.37" height="28.47" fill="#f46a4a"/>
<rect x="435.98" y="401.28" width="1.21" height="28.47" fill="#f5795b"/>
<rect x="436.99" y="401.28" width="1.21" height="28.47" fill="#f35037"/>
<rect x="260.00" y="429.45" width="3.38" height="28.47" fill="#f7a188"/>
<rect x="260.00" y="429.45" width="1.21" height="28.47" fill="#f8b19c"/>
<rect x="262.02" y="429.45" width="1.21" height="28.47" fill="#f8b19c"/>
<rect x="263.03" y="429.45" width="2.37" height="28.47" fill="#f3e9ec"/>
<rect x="264.05" y="429.45" width="1.21" height="28.47" fill="#eadfea"/>
<rect x="265.06" y="429.45" width="2.37" height="28.47" fill="#d9cbe5"/>
<rect x="265.06" y="429.45" width="1.21" height="28.47" fill="#e6dae9"/>
<rect x="267.08" y="429.45" width="3.38" height="28.47" fill="#b7a0d2"/>
<rect x="267.08" y="429.45" width="1.21" height="28.47" fill="#a98eca"/>
<rect x="268.09" y="429.45" width="1.21" height="28.47" fill="#c6b4db"/>
<rect x="270.11" y="429.45" width="2.37" height="28.47" fill="#f3e9ec"/>
<rect x="270.11" y="429.45" width="1.21" height="28.47" fill="#f5e1e0"/>
<rect x="271.12" y="429.45" width="1.21" height="28.47" fill="#e8dce9"/>
<rect x="272.14" y="429.45" width="3.38" height="28.47" fill="#8f6bbb"/>
<rect x="273.15" y="429.45" width="1.21" height="28.47" fill="#835fb5"/>
<rect x="274.16" y="429.45" width="1.21" height="28.47" fill="#9e7fc4"/>
<rect x="275.17" y="429.45" width="2.37" height="28.47" fill="#f7a188"/>
<rect x="277.19" y="429.45" width="2.37" height="28.47" fill="#f3e9ec"/>
<rect x="278.20" y="429.45" width="1.21" height="28.47" fill="#f5e0dd"/>
<rect x="279.22" y="429.45" width="7.43" height="28.47" fill="#3b2592"/>
<rect x="280.10" y="429.45" width="1.08" height="28.47" fill="#4f339c"/>
<rect x="280.99" y="429.45" width="1.08" height="28.47" fill="#3b2592"/>
<rect x="284.53" y="429.45" width="1.08" height="28.47" fill="#54379e"/>
<rect x="286.30" y="429.45" width="2.37" height="28.47" fill="#6a47a9"/>
<rect x="288.32" y="429.45" width="3.38" height="28.47" fill="#8f6bbb"/>
<rect x="288.32" y="429.45" width="1.21" height="28.47" fill="#815db4"/>
<rect x="291.35" y="429.45" width="2.37" height="28.47" fill="#b7a0d2"/>
<rect x="291.35" y="429.45" width="1.21" height="28.47" fill="#a486c7"/>
<rect x="293.37" y="429.45" width="3.38" height="28.47" fill="#6a47a9"/>
<rect x="296.41" y="429.45" width="2.37" height="28.47" fill="#b7a0d2"/>
<rect x="296.41" y="429.45" width="1.21" height="28.47" fill="#c3afd9"/>
<rect x="297.42" y="429.45" width="1.21" height="28.47" fill="#ad93cc"/>
<rect x="298.43" y="429.45" width="3.38" height="28.47" fill="#d9cbe5"/>
<rect x="299.44" y="429.45" width="1.21" height="28.47" fill="#cab9dd"/>
<rect x="300.45" y="429.45" width="1.21" height="28.47" fill="#e5d9e8"/>
<rect x="301.47" y="429.45" width="2.37" height="28.47" fill="#6a47a9"/>
<rect x="302.48" y="429.45" width="1.21" height="28.47" fill="#7b58b1"/>
<rect x="303.49" y="429.45" width="3.38" height="28.47" fill="#8f6bbb"/>
<rect x="305.51" y="429.45" width="1.21" height="28.47" fill="#8460b6"/>
<rect x="306.52" y="429.45" width="2.37" height="28.47" fill="#6a47a9"/>
<rect x="306.52" y="429.45" width="1.21" height="28.47" fill="#5c3da2"/>
<rect x="307.53" y="429.45" width="1.21" height="28.47" fill="#51359d"/>
<rect x="308.55" y="429.45" width="3.38" height="28.47" fill="#f3e9ec"/>
<rect x="308.55" y="429.45" width="1.21" height="28.47" fill="#e5d9e8"/>
<rect x="310.57" y="429.45" width="1.21" height="28.47" fill="#f6dad4"/>
<rect x="311.58" y="429.45" width="2.37" height="28.47" fill="#f7a188"/>
<rect x="311.58" y="429.45" width="1.21" height="28.47" fill="#f68e73"/>
<rect x="312.59" y="429.45" width="1.21" height="28.47" fill="#f58265"/>
<rect x="313.60" y="429.45" width="3.38" height="28.47" fill="#f46a4a"/>
<rect x="313.60" y="429.45" width="1.21" height="28.47" fill="#f35339"/>
<rect x="314.61" y="429.45" width="1.21" height="28.47" fill="#f57d5f"/>
<rect x="315.62" y="429.45" width="1.21" height="28.47" fill="#f35036"/>
<rect x="316.64" y="429.45" width="2.37" height="28.47" fill="#f3e9ec"/>
<rect x="317.65" y="429.45" width="1.21" height="28.47" fill="#f5ddd9"/>
<rect x="318.66" y="429.45" width="3.38" height="28.47" fill="#3b2592"/>
<rect x="319.67" y="429.45" width="1.21" height="28.47" fill="#492f99"/>
<rect x="321.69" y="429.45" width="3.38" height="28.47" fill="#b7a0d2"/>
<rect x="323.72" y="429.45" width="1.21" height="28.47" fill="#a98eca"/>
<rect x="324.73" y="429.45" width="3.38" height="28.47" fill="#d9cbe5"/>
<rect x="327.76" y="429.45" width="2.37" height="28.47" fill="#b7a0d2"/>
<rect x="327.76" y="429.45" width="1.21" height="28.47" fill="#a98dca"/>
<rect x="328.77" y="429.45" width="1.21" height="28.47" fill="#ac91cb"/>
<rect x="329.78" y="429.45" width="3.38" height="28.47" fill="#8f6bbb"/>
<rect x="330.80" y="429.45" width="1.21" height="28.47" fill="#a588c8"/>
<rect x="331.81" y="429.45" width="1.21" height="28.47" fill="#9b7bc2"/>
<rect x="332.82" y="429.45" width="2.37" height="28.47" fill="#6a47a9"/>
<rect x="332.82" y="429.45" width="1.21" height="28.47" fill="#56389f"/>
<rect x="333.83" y="429.45" width="1.21" height="28.47" fill="#583aa0"/>
<rect x="334.84" y="429.45" width="3.38" height="28.47" fill="#3b2592"/>
<rect x="334.84" y="429.45" width="1.21" height="28.47" fill="#4d329b"/>
<rect x="335.85" y="429.45" width="1.21" height="28.47" fill="#3b2592"/>
<rect x="337.88" y="429.45" width="2.37" height="28.47" fill="#b7a0d2"/>
<rect x="338.89" y="429.45" width="1.21" height="28.47" fill="#ac92cc"/>
<rect x="339.90" y="429.45" width="2.37" height="28.47" fill="#f3e9ec"/>
<rect x="339.90" y="429.45" width="1.21" height="28.47" fill="#f5ddd9"/>
<rect x="341.92" y="429.45" width="2.37" height="28.47" fill="#8f6bbb"/>
<rect x="342.93" y="429.45" width="1.21" height="28.47" fill="#7956b0"/>
<rect x="343.94" y="429.45" width="3.38" height="28.47" fill="#f9cbbc"/>
<rect x="343.94" y="429.45" width="1.21" height="28.47" fill="#f7d5cc"/>
<rect x="345.97" y="429.45" width="1.21" height="28.47" fill="#f8b9a6"/>
<rect x="346.98" y="429.45" width="2.37" height="28.47" fill="#b7a0d2"/>
<rect x="349.00" y="429.45" width="2.37" height="28.47" fill="#6a47a9"/>
<rect x="351.02" y="429.45" width="2.37" height="28.47" fill="#3b2592"/>
<rect x="352.03" y="429.45" width="1.21" height="28.47" fill="#4f339c"/>
<rect x="353.05" y="429.45" width="2.37" height="28.47" fill="#8f6bbb"/>
<rect x="354.06" y="429.45" width="1.21" height="28.47" fill="#7e5ab3"/>
<rect x="355.07" y="429.45" width="3.38" height="28.47" fill="#b7a0d2"/>
<rect x="358.10" y="429.45" width="2.37" height="28.47" fill="#8f6bbb"/>
<rect x="360.12" y="429.45" width="2.37" height="28.47" fill="#b7a0d2"/>
<rect x="362.15" y="429.45" width="3.38" height="28.47" fill="#d9cbe5"/>
<rect x="364.17" y="429.45" width="1.21" height="28.47" fill="#e5d9e8"/>
<rect x="365.18" y="429.45" width="2.37" height="28.47" fill="#6a47a9"/>
<rect x="366.19" y="429.45" width="1.21" height="28.47" fill="#5a3ca1"/>
<rect x="367.20" y="429.45" width="3.38" height="28.47" fill="#b7a0d2"/>
<rect x="368.22" y="429.45" width="1.21" height="28.47" fill="#a88dca"/>
<rect x="369.23" y="429.45" width="1.21" height="28.47" fill="#c1add8"/>
<rect x="370.24" y="429.45" width="2.37" height="28.47" fill="#8f6bbb"/>
<rect x="370.24" y="429.45" width="1.21" height="28.47" fill="#815eb4"/>
<rect x="371.25" y="429.45" width="1.21" height="28.47" fill="#a385c6"/>
<rect x="372.26" y="429.45" width="3.38" height="28.47" fill="#b7a0d2"/>
<rect x="374.28" y="429.45" width="1.21" height="28.47" fill="#ab91cb"/>
<rect x="375.30" y="429.45" width="2.37" height="28.47" fill="#6a47a9"/>
<rect x="377.32" y="429.45" width="3.38" height="28.47" fill="#8f6bbb"/>
<rect x="378.33" y="429.45" width="1.21" height="28.47" fill="#835fb5"/>
<rect x="379.34" y="429.45" width="1.21" height="28.47" fill="#7a57b1"/>
<rect x="380.35" y="429.45" width="2.37" height="28.47" fill="#b7a0d2"/>
<rect x="380.35" y="429.45" width="1.21" height="28.47" fill="#a487c7"/>
<rect x="381.36" y="429.45" width="1.21" height="28.47" fill="#c4b0d9"/>
<rect x="382.37" y="429.45" width="2.37" height="28.47" fill="#f7a188"/>
<rect x="382.37" y="429.45" width="1.21" height="28.47" fill="#f6886c"/>
<rect x="384.40" y="429.45" width="2.37" height="28.47" fill="#f9cbbc"/>
<rect x="385.41" y="429.45" width="1.21" height="28.47" fill="#f7d4ca"/>
<rect x="386.42" y="429.45" width="3.38" height="28.47" fill="#f3e9ec"/>
<rect x="389.45" y="429.45" width="2.37" height="28.47" fill="#d9cbe5"/>
<rect x="390.47" y="429.45" width="1.21" height="28.47" fill="#e7dce9"/>
<rect x="391.48" y="429.45" width="3.38" height="28.47" fill="#f7a188"/>
<rect x="391.48" y="429.45" width="1.21" height="28.47" fill="#f58063"/>
<rect x="392.49" y="429.45" width="1.21" height="28.47" fill="#f8baa7"/>
<rect x="394.51" y="429.45" width="2.37" height="28.47" fill="#f3e9ec"/>
<rect x="395.52" y="429.45" width="1.21" height="28.47" fill="#e7dbe9"/>
<rect x="396.53" y="429.45" width="3.38" height="28.47" fill="#d9cbe5"/>
<rect x="397.55" y="429.45" width="1.21" height="28.47" fill="#e2d5e7"/>
<rect x="398.56" y="429.45" width="1.21" height="28.47" fill="#e5d9e8"/>
<rect x="399.57" y="429.45" width="2.37" height="28.47" fill="#f3e9ec"/>
<rect x="400.58" y="429.45" width="1.21" height="28.47" fill="#e7dbe9"/>
<rect x="401.59" y="429.45" width="3.38" height="28.47" fill="#b7a0d2"/>
<rect x="401.59" y="429.45" width="1.21" height="28.47" fill="#ac91cb"/>
<rect x="402.60" y="429.45" width="1.21" height="28.47" fill="#cab8dd"/>
<rect x="404.62" y="429.45" width="2.37" height="28.47" fill="#8f6bbb"/>
<rect x="404.62" y="429.45" width="1.21" height="28.47" fill="#a285c6"/>
<rect x="405.64" y="429.45" width="1.21" height="28.47" fill="#815eb4"/>
<rect x="406.65" y="429.45" width="2.37" height="28.47" fill="#b7a0d2"/>
<rect x="408.67" y="429.45" width="2.37" height="28.47" fill="#f3e9ec"/>
<rect x="408.67" y="429.45" width="1.21" height="28.47" fill="#f6d9d3"/>
<rect x="410.69" y="429.45" width="2.37" height="28.47" fill="#f7a188"/>
<rect x="412.72" y="429.45" width="4.40" height="28.47" fill="#f46a4a"/>
<rect x="413.73" y="429.45" width="1.21" height="28.47" fill="#f57b5e"/>
<rect x="416.76" y="429.45" width="2.37" height="28.47" fill="#f7a188"/>
<rect x="417.77" y="429.45" width="1.21" height="28.47" fill="#f58063"/>
<rect x="418.78" y="429.45" width="2.37" height="28.47" fill="#f22d1c"/>
<rect x="418.78" y="429.45" width="1.21" height="28.47" fill="#f34c33"/>
<rect x="420.81" y="429.45" width="2.37" height="28.47" fill="#f46a4a"/>
<rect x="421.82" y="429.45" width="1.21" height="28.47" fill="#f3583d"/>
<rect x="422.83" y="429.45" width="3.38" height="28.47" fill="#f7a188"/>
<rect x="425.86" y="429.45" width="2.37" height="28.47" fill="#f9cbbc"/>
<rect x="427.89" y="429.45" width="3.38" height="28.47" fill="#f46a4a"/>
<rect x="428.90" y="429.45" width="1.21" height="28.47" fill="#f6876b"/>
<rect x="430.92" y="429.45" width="2.37" height="28.47" fill="#f7a188"/>
<rect x="430.92" y="429.45" width="1.21" height="28.47" fill="#f8b5a1"/>
<rect x="432.94" y="429.45" width="3.38" height="28.47" fill="#f46a4a"/>
<rect x="433.95" y="429.45" width="1.21" height="28.47" fill="#f35a3e"/>
<rect x="434.97" y="429.45" width="1.21" height="28.47" fill="#f35238"/>
<rect x="435.98" y="429.45" width="2.37" height="28.47" fill="#f7a188"/>
<rect x="435.98" y="429.45" width="1.21" height="28.47" fill="#f8ac96"/>
<text x="115.9" y="283.0" font-size="10.1" fill="#222" text-anchor="start" font-weight="normal" font-style="normal" textLength="27.4" lengthAdjust="spacingAndGlyphs" stroke="#222" stroke-width="0.1" >Spleen</text>
<text x="343.6" y="283.1" font-size="9.8" fill="#222" text-anchor="start" font-weight="normal" font-style="normal" textLength="19.3" lengthAdjust="spacingAndGlyphs" stroke="#222" stroke-width="0.1" >MLN</text>
<path d="M41,302.085 L37.2,302.085 L37.2,330.255 L41,330.255" fill="none" stroke="#333" stroke-width="1"/>
<path d="M37.2,316.16999999999996 L36,316.16999999999996 L36,358.425 L41,358.425" fill="none" stroke="#333" stroke-width="1"/>
<path d="M41,414.765 L36.6,414.765 L36.6,442.935 L41,442.935" fill="none" stroke="#333" stroke-width="1"/>
<path d="M36.6,428.85 L35.8,428.85 L35.8,386.59499999999997 L41,386.59499999999997" fill="none" stroke="#333" stroke-width="1"/>
<path d="M36,337.2975 L32.8,337.2975 L32.8,407.72249999999997 L35.8,407.72249999999997" fill="none" stroke="#333" stroke-width="1"/>
<path d="M260,330.855 L257,330.855 L257,359.02500000000003 L260,359.02500000000003" fill="none" stroke="#333" stroke-width="1"/>
<path d="M257,344.94000000000005 L255.3,344.94000000000005 L255.3,302.685 L260,302.685" fill="none" stroke="#333" stroke-width="1"/>
<path d="M260,415.365 L256.4,415.365 L256.4,443.535 L260,443.535" fill="none" stroke="#333" stroke-width="1"/>
<path d="M256.4,429.45000000000005 L255.7,429.45000000000005 L255.7,387.195 L260,387.195" fill="none" stroke="#333" stroke-width="1"/>
<path d="M255.3,323.8125 L252.2,323.8125 L252.2,408.3225 L255.7,408.3225" fill="none" stroke="#333" stroke-width="1"/>
<text transform="translate(221.4,302.08) rotate(90)" x="0" y="0" font-size="7.6" fill="#222" text-anchor="middle" font-weight="normal" stroke="#222" stroke-width="0.12">Ctrl2</text>
<text transform="translate(221.4,330.25) rotate(90)" x="0" y="0" font-size="7.6" fill="#222" text-anchor="middle" font-weight="normal" stroke="#222" stroke-width="0.12">Ctrl1</text>
<text transform="translate(221.4,358.43) rotate(90)" x="0" y="0" font-size="7.6" fill="#222" text-anchor="middle" font-weight="normal" stroke="#222" stroke-width="0.12">Ctrl3</text>
<text transform="translate(221.4,386.59) rotate(90)" x="0" y="0" font-size="7.6" fill="#222" text-anchor="middle" font-weight="normal" stroke="#222" stroke-width="0.12">Amp1</text>
<text transform="translate(221.4,414.76) rotate(90)" x="0" y="0" font-size="7.6" fill="#222" text-anchor="middle" font-weight="normal" stroke="#222" stroke-width="0.12">Amp3</text>
<text transform="translate(221.4,442.94) rotate(90)" x="0" y="0" font-size="7.6" fill="#222" text-anchor="middle" font-weight="normal" stroke="#222" stroke-width="0.12">Amp2</text>
<text transform="translate(442.4,302.69) rotate(90)" x="0" y="0" font-size="7.6" fill="#222" text-anchor="middle" font-weight="normal" stroke="#222" stroke-width="0.12">Ctrl2</text>
<text transform="translate(442.4,330.86) rotate(90)" x="0" y="0" font-size="7.6" fill="#222" text-anchor="middle" font-weight="normal" stroke="#222" stroke-width="0.12">Ctrl1</text>
<text transform="translate(442.4,359.03) rotate(90)" x="0" y="0" font-size="7.6" fill="#222" text-anchor="middle" font-weight="normal" stroke="#222" stroke-width="0.12">Ctrl3</text>
<text transform="translate(442.4,387.19) rotate(90)" x="0" y="0" font-size="7.6" fill="#222" text-anchor="middle" font-weight="normal" stroke="#222" stroke-width="0.12">Amp3</text>
<text transform="translate(442.4,415.37) rotate(90)" x="0" y="0" font-size="7.6" fill="#222" text-anchor="middle" font-weight="normal" stroke="#222" stroke-width="0.12">Amp2</text>
<text transform="translate(442.4,443.54) rotate(90)" x="0" y="0" font-size="7.6" fill="#222" text-anchor="middle" font-weight="normal" stroke="#222" stroke-width="0.12">Amp1</text>
<line x1="229.5" y1="291" x2="229.5" y2="369.7" stroke="#222" stroke-width="1.1"/>
<line x1="229.5" y1="376.8" x2="229.5" y2="455.8" stroke="#d0402a" stroke-width="1.1"/>
<line x1="450.0" y1="291" x2="450.0" y2="369.7" stroke="#222" stroke-width="1.1"/>
<line x1="450.0" y1="376.8" x2="450.0" y2="455.8" stroke="#d0402a" stroke-width="1.1"/>
<text transform="translate(233.8,330.6) rotate(90)" x="0" y="0" font-size="9.2" fill="#222" text-anchor="middle" font-weight="normal" textLength="29.6" lengthAdjust="spacingAndGlyphs" stroke="#222" stroke-width="0.12">Control</text>
<text transform="translate(454.0,330.8) rotate(90)" x="0" y="0" font-size="9.2" fill="#222" text-anchor="middle" font-weight="normal" textLength="29.8" lengthAdjust="spacingAndGlyphs" stroke="#222" stroke-width="0.12">Control</text>
<text transform="translate(233.8,416.1) rotate(90)" x="0" y="0" font-size="9.0" fill="#d0402a" text-anchor="middle" font-weight="normal" textLength="37.8" lengthAdjust="spacingAndGlyphs" stroke="#d0402a" stroke-width="0.15">Ampicillin</text>
<text transform="translate(454.0,415.8) rotate(90)" x="0" y="0" font-size="9.0" fill="#d0402a" text-anchor="middle" font-weight="normal" textLength="37.8" lengthAdjust="spacingAndGlyphs" stroke="#d0402a" stroke-width="0.15">Ampicillin</text>
<line x1="42.3" y1="465.9" x2="105.6" y2="465.9" stroke="#8a8a8a" stroke-width="1.5"/>
<line x1="152.5" y1="465.9" x2="215.4" y2="465.9" stroke="#8a8a8a" stroke-width="1.5"/>
<path d="M43.3,465.9 L38.3,463.4 L39.9,465.9 L38.3,468.4 Z" fill="#000"/>
<path d="M214.4,465.9 L219.4,463.4 L217.8,465.9 L219.4,468.4 Z" fill="#000"/>
<line x1="263.1" y1="465.9" x2="326.5" y2="465.9" stroke="#8a8a8a" stroke-width="1.5"/>
<line x1="372.5" y1="465.9" x2="436.4" y2="465.9" stroke="#8a8a8a" stroke-width="1.5"/>
<path d="M264.1,465.9 L259.1,463.4 L260.70000000000005,465.9 L259.1,468.4 Z" fill="#000"/>
<path d="M435.4,465.9 L440.4,463.4 L438.79999999999995,465.9 L440.4,468.4 Z" fill="#000"/>
<text x="130.5" y="468.1" font-size="7.5" fill="#222" text-anchor="middle" font-weight="normal" font-style="normal" textLength="31.4" lengthAdjust="spacingAndGlyphs" stroke="#222" stroke-width="0.22" >Genes (x547)</text>
<text x="349.5" y="468.1" font-size="7.5" fill="#222" text-anchor="middle" font-weight="normal" font-style="normal" textLength="31.4" lengthAdjust="spacingAndGlyphs" stroke="#222" stroke-width="0.22" >Genes (x547)</text>
<defs><linearGradient id="cb" x1="0" x2="1" y1="0" y2="0"><stop offset="0" stop-color="#ff0505"/><stop offset="0.12" stop-color="#f54630"/><stop offset="0.25" stop-color="#f5856c"/><stop offset="0.38" stop-color="#f5bcad"/><stop offset="0.5" stop-color="#efebee"/><stop offset="0.62" stop-color="#d9cbe5"/><stop offset="0.75" stop-color="#b39bcf"/><stop offset="0.87" stop-color="#7550ab"/><stop offset="1" stop-color="#150d80"/></linearGradient></defs>
<rect x="206.9" y="478.2" width="64.3" height="9" fill="url(#cb)"/>
<line x1="208.70" y1="478.2" x2="208.70" y2="479.6" stroke="#fff" stroke-width="0.8"/>
<text x="208.70" y="476.4" font-size="7.2" fill="#222" text-anchor="middle" font-weight="normal" font-style="normal" >2</text>
<line x1="223.90" y1="478.2" x2="223.90" y2="479.6" stroke="#fff" stroke-width="0.8"/>
<text x="223.90" y="476.4" font-size="7.2" fill="#222" text-anchor="middle" font-weight="normal" font-style="normal" >1</text>
<line x1="239.10" y1="478.2" x2="239.10" y2="479.6" stroke="#fff" stroke-width="0.8"/>
<text x="239.10" y="476.4" font-size="7.2" fill="#222" text-anchor="middle" font-weight="normal" font-style="normal" >0</text>
<line x1="254.30" y1="478.2" x2="254.30" y2="479.6" stroke="#fff" stroke-width="0.8"/>
<text x="254.30" y="476.4" font-size="7.2" fill="#222" text-anchor="middle" font-weight="normal" font-style="normal" >−1</text>
<line x1="269.50" y1="478.2" x2="269.50" y2="479.6" stroke="#fff" stroke-width="0.8"/>
<text x="269.50" y="476.4" font-size="7.2" fill="#222" text-anchor="middle" font-weight="normal" font-style="normal" >−2</text>
<text x="238.7" y="495.6" font-size="7.2" fill="#333" text-anchor="middle" font-weight="normal" font-style="normal" textLength="18.2" lengthAdjust="spacingAndGlyphs" stroke="#333" stroke-width="0.15" >Z-score</text>
<rect x="0.5" y="0.5" width="519" height="501" fill="none" stroke="#1a1a1a" stroke-width="1.2"/>
</svg></body></html>
